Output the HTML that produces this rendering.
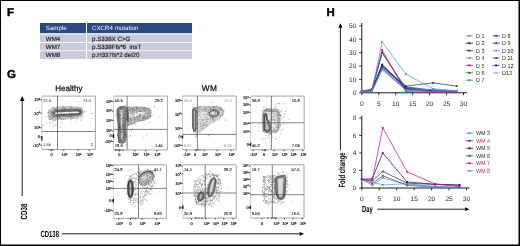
<!DOCTYPE html>
<html><head><meta charset="utf-8"><title>Figure</title><style>
html,body{margin:0;padding:0;background:#fff;}
body{width:520px;height:246px;overflow:hidden;position:relative;}
svg{position:absolute;left:0;top:0;will-change:transform;text-rendering:geometricPrecision;font-family:"Liberation Sans",sans-serif;}
.bd{position:absolute;background:#000;}
</style></head><body>
<svg xmlns="http://www.w3.org/2000/svg" width="520" height="246" viewBox="0 0 520 246">
<text x="7.10" y="16.10" font-size="11.4" fill="#000" text-anchor="start" font-weight="bold" stroke="#000" stroke-width="0.45">F</text>
<text x="6.90" y="78.20" font-size="11.4" fill="#000" text-anchor="start" font-weight="bold" stroke="#000" stroke-width="0.45">G</text>
<text x="326.60" y="16.10" font-size="11.4" fill="#000" text-anchor="start" font-weight="bold" stroke="#000" stroke-width="0.45">H</text>
<rect x="40.00" y="23.00" width="46.00" height="10.20" fill="#2b4883" />
<rect x="87.00" y="23.00" width="105.00" height="10.20" fill="#2b4883" />
<rect x="40.00" y="34.30" width="46.00" height="7.80" fill="#c9cadb" />
<rect x="87.00" y="34.30" width="105.00" height="7.80" fill="#c9cadb" />
<rect x="40.00" y="42.90" width="46.00" height="7.40" fill="#c9cadb" />
<rect x="87.00" y="42.90" width="105.00" height="7.40" fill="#c9cadb" />
<rect x="40.00" y="51.10" width="46.00" height="7.90" fill="#c9cadb" />
<rect x="87.00" y="51.10" width="105.00" height="7.90" fill="#c9cadb" />
<text x="45.80" y="30.40" font-size="6.2" fill="#f4f6fb" text-anchor="start" font-weight="normal" >Sample</text>
<text x="92.00" y="30.40" font-size="6.2" fill="#f4f6fb" text-anchor="start" font-weight="normal" >CXCR4 mutation</text>
<text x="45.80" y="40.50" font-size="6.2" fill="#1a1a1a" text-anchor="start" font-weight="normal" stroke="#1a1a1a" stroke-width="0.15">WM4</text>
<text x="92.00" y="40.50" font-size="6.2" fill="#1a1a1a" text-anchor="start" font-weight="normal" stroke="#1a1a1a" stroke-width="0.15">p.S338X C&gt;G</text>
<text x="45.80" y="48.70" font-size="6.2" fill="#1a1a1a" text-anchor="start" font-weight="normal" stroke="#1a1a1a" stroke-width="0.15">WM7</text>
<text x="92.00" y="48.70" font-size="6.2" fill="#1a1a1a" text-anchor="start" font-weight="normal" stroke="#1a1a1a" stroke-width="0.15">p.S338Ffs*6&#160; insT</text>
<text x="45.80" y="57.40" font-size="6.2" fill="#1a1a1a" text-anchor="start" font-weight="normal" stroke="#1a1a1a" stroke-width="0.15">WM8</text>
<text x="92.00" y="57.40" font-size="6.2" fill="#1a1a1a" text-anchor="start" font-weight="normal" stroke="#1a1a1a" stroke-width="0.15">p.H337fs*2 del20</text>
<line x1="340.40" y1="26.00" x2="340.40" y2="150.30" stroke="#000" stroke-width="0.9" />
<path d="M338.40,27.80 L340.40,22.90 L342.40,27.80 Z" fill="#000"/>
<text transform="translate(344.60,187.60) rotate(-90) scale(0.675,1)" font-size="8.9" fill="#000" text-anchor="start" font-weight="bold">Fold change</text>
<line x1="361.80" y1="23.00" x2="361.80" y2="93.30" stroke="#000" stroke-width="0.9" />
<line x1="359.20" y1="92.80" x2="361.80" y2="92.80" stroke="#000" stroke-width="0.8" />
<text x="356.40" y="95.15" font-size="6.6" fill="#2a2a2a" text-anchor="end" font-weight="normal" >0</text>
<line x1="359.20" y1="79.40" x2="361.80" y2="79.40" stroke="#000" stroke-width="0.8" />
<text x="356.40" y="81.75" font-size="6.6" fill="#2a2a2a" text-anchor="end" font-weight="normal" >10</text>
<line x1="359.20" y1="66.00" x2="361.80" y2="66.00" stroke="#000" stroke-width="0.8" />
<text x="356.40" y="68.35" font-size="6.6" fill="#2a2a2a" text-anchor="end" font-weight="normal" >20</text>
<line x1="359.20" y1="52.60" x2="361.80" y2="52.60" stroke="#000" stroke-width="0.8" />
<text x="356.40" y="54.95" font-size="6.6" fill="#2a2a2a" text-anchor="end" font-weight="normal" >30</text>
<line x1="359.20" y1="39.20" x2="361.80" y2="39.20" stroke="#000" stroke-width="0.8" />
<text x="356.40" y="41.55" font-size="6.6" fill="#2a2a2a" text-anchor="end" font-weight="normal" >40</text>
<line x1="359.20" y1="25.80" x2="361.80" y2="25.80" stroke="#000" stroke-width="0.8" />
<text x="356.40" y="28.15" font-size="6.6" fill="#2a2a2a" text-anchor="end" font-weight="normal" >50</text>
<line x1="361.80" y1="92.80" x2="467.00" y2="92.80" stroke="#000" stroke-width="0.9" />
<line x1="361.80" y1="92.80" x2="361.80" y2="95.20" stroke="#000" stroke-width="0.8" />
<text x="361.80" y="105.80" font-size="6.6" fill="#2a2a2a" text-anchor="middle" font-weight="normal" >0</text>
<line x1="378.75" y1="92.80" x2="378.75" y2="95.20" stroke="#000" stroke-width="0.8" />
<text x="378.75" y="105.80" font-size="6.6" fill="#2a2a2a" text-anchor="middle" font-weight="normal" >5</text>
<line x1="395.70" y1="92.80" x2="395.70" y2="95.20" stroke="#000" stroke-width="0.8" />
<text x="395.70" y="105.80" font-size="6.6" fill="#2a2a2a" text-anchor="middle" font-weight="normal" >10</text>
<line x1="412.65" y1="92.80" x2="412.65" y2="95.20" stroke="#000" stroke-width="0.8" />
<text x="412.65" y="105.80" font-size="6.6" fill="#2a2a2a" text-anchor="middle" font-weight="normal" >15</text>
<line x1="429.60" y1="92.80" x2="429.60" y2="95.20" stroke="#000" stroke-width="0.8" />
<text x="429.60" y="105.80" font-size="6.6" fill="#2a2a2a" text-anchor="middle" font-weight="normal" >20</text>
<line x1="446.55" y1="92.80" x2="446.55" y2="95.20" stroke="#000" stroke-width="0.8" />
<text x="446.55" y="105.80" font-size="6.6" fill="#2a2a2a" text-anchor="middle" font-weight="normal" >25</text>
<line x1="463.50" y1="92.80" x2="463.50" y2="95.20" stroke="#000" stroke-width="0.8" />
<text x="463.50" y="105.80" font-size="6.6" fill="#2a2a2a" text-anchor="middle" font-weight="normal" >30</text>
<line x1="361.80" y1="115.70" x2="361.80" y2="188.50" stroke="#000" stroke-width="0.9" />
<line x1="359.20" y1="188.00" x2="361.80" y2="188.00" stroke="#000" stroke-width="0.8" />
<text x="356.40" y="190.35" font-size="6.6" fill="#2a2a2a" text-anchor="end" font-weight="normal" >0</text>
<line x1="359.20" y1="170.52" x2="361.80" y2="170.52" stroke="#000" stroke-width="0.8" />
<text x="356.40" y="172.87" font-size="6.6" fill="#2a2a2a" text-anchor="end" font-weight="normal" >2</text>
<line x1="359.20" y1="153.04" x2="361.80" y2="153.04" stroke="#000" stroke-width="0.8" />
<text x="356.40" y="155.39" font-size="6.6" fill="#2a2a2a" text-anchor="end" font-weight="normal" >4</text>
<line x1="359.20" y1="135.56" x2="361.80" y2="135.56" stroke="#000" stroke-width="0.8" />
<text x="356.40" y="137.91" font-size="6.6" fill="#2a2a2a" text-anchor="end" font-weight="normal" >6</text>
<line x1="359.20" y1="118.08" x2="361.80" y2="118.08" stroke="#000" stroke-width="0.8" />
<text x="356.40" y="120.43" font-size="6.6" fill="#2a2a2a" text-anchor="end" font-weight="normal" >8</text>
<line x1="361.80" y1="188.00" x2="469.50" y2="188.00" stroke="#000" stroke-width="0.9" />
<line x1="361.80" y1="188.00" x2="361.80" y2="190.40" stroke="#000" stroke-width="0.8" />
<text x="361.80" y="200.80" font-size="6.6" fill="#2a2a2a" text-anchor="middle" font-weight="normal" >0</text>
<line x1="379.25" y1="188.00" x2="379.25" y2="190.40" stroke="#000" stroke-width="0.8" />
<text x="379.25" y="200.80" font-size="6.6" fill="#2a2a2a" text-anchor="middle" font-weight="normal" >5</text>
<line x1="396.70" y1="188.00" x2="396.70" y2="190.40" stroke="#000" stroke-width="0.8" />
<text x="396.70" y="200.80" font-size="6.6" fill="#2a2a2a" text-anchor="middle" font-weight="normal" >10</text>
<line x1="414.15" y1="188.00" x2="414.15" y2="190.40" stroke="#000" stroke-width="0.8" />
<text x="414.15" y="200.80" font-size="6.6" fill="#2a2a2a" text-anchor="middle" font-weight="normal" >15</text>
<line x1="431.60" y1="188.00" x2="431.60" y2="190.40" stroke="#000" stroke-width="0.8" />
<text x="431.60" y="200.80" font-size="6.6" fill="#2a2a2a" text-anchor="middle" font-weight="normal" >20</text>
<line x1="449.05" y1="188.00" x2="449.05" y2="190.40" stroke="#000" stroke-width="0.8" />
<text x="449.05" y="200.80" font-size="6.6" fill="#2a2a2a" text-anchor="middle" font-weight="normal" >25</text>
<line x1="466.50" y1="188.00" x2="466.50" y2="190.40" stroke="#000" stroke-width="0.8" />
<text x="466.50" y="200.80" font-size="6.6" fill="#2a2a2a" text-anchor="middle" font-weight="normal" >30</text>
<text transform="translate(361.90,212.20) scale(0.66,1)" font-size="8.9" fill="#000" text-anchor="start" font-weight="bold">Day</text>
<line x1="377.40" y1="209.20" x2="466.00" y2="209.20" stroke="#000" stroke-width="0.9" />
<path d="M465.20,207.30 L469.50,209.20 L465.20,211.10 Z" fill="#000"/>
<polyline points="361.80,91.46 371.97,90.79 382.14,67.34 405.87,90.12 432.99,91.46 456.72,92.13" fill="none" stroke="#aaa2e2" stroke-width="0.75" stroke-linejoin="round" />
<rect x="360.90" y="90.56" width="1.8" height="1.8" fill="#aaa2e2"/>
<rect x="371.07" y="89.89" width="1.8" height="1.8" fill="#aaa2e2"/>
<rect x="381.24" y="66.44" width="1.8" height="1.8" fill="#aaa2e2"/>
<rect x="404.97" y="89.22" width="1.8" height="1.8" fill="#aaa2e2"/>
<rect x="432.09" y="90.56" width="1.8" height="1.8" fill="#aaa2e2"/>
<rect x="455.82" y="91.23" width="1.8" height="1.8" fill="#aaa2e2"/>
<polyline points="361.80,91.46 371.97,90.79 382.14,68.68 405.87,89.45 432.99,91.46 456.72,91.73" fill="none" stroke="#8a7dd6" stroke-width="0.75" stroke-linejoin="round" />
<rect x="360.90" y="90.56" width="1.8" height="1.8" fill="#8a7dd6"/>
<rect x="371.07" y="89.89" width="1.8" height="1.8" fill="#8a7dd6"/>
<rect x="381.24" y="67.78" width="1.8" height="1.8" fill="#8a7dd6"/>
<rect x="404.97" y="88.55" width="1.8" height="1.8" fill="#8a7dd6"/>
<rect x="432.09" y="90.56" width="1.8" height="1.8" fill="#8a7dd6"/>
<rect x="455.82" y="90.83" width="1.8" height="1.8" fill="#8a7dd6"/>
<polyline points="361.80,91.46 371.97,90.12 382.14,66.00 405.87,88.78 432.99,90.79 456.72,91.46" fill="none" stroke="#6a3a8a" stroke-width="0.75" stroke-linejoin="round" />
<rect x="360.90" y="90.56" width="1.8" height="1.8" fill="#6a3a8a"/>
<rect x="371.07" y="89.22" width="1.8" height="1.8" fill="#6a3a8a"/>
<rect x="381.24" y="65.10" width="1.8" height="1.8" fill="#6a3a8a"/>
<rect x="404.97" y="87.88" width="1.8" height="1.8" fill="#6a3a8a"/>
<rect x="432.09" y="89.89" width="1.8" height="1.8" fill="#6a3a8a"/>
<rect x="455.82" y="90.56" width="1.8" height="1.8" fill="#6a3a8a"/>
<polyline points="361.80,91.46 371.97,90.12 382.14,64.66 405.87,87.44 432.99,90.79 456.72,91.46" fill="none" stroke="#5b2a78" stroke-width="0.75" stroke-linejoin="round" />
<rect x="360.90" y="90.56" width="1.8" height="1.8" fill="#5b2a78"/>
<rect x="371.07" y="89.22" width="1.8" height="1.8" fill="#5b2a78"/>
<rect x="381.24" y="63.76" width="1.8" height="1.8" fill="#5b2a78"/>
<rect x="404.97" y="86.54" width="1.8" height="1.8" fill="#5b2a78"/>
<rect x="432.09" y="89.89" width="1.8" height="1.8" fill="#5b2a78"/>
<rect x="455.82" y="90.56" width="1.8" height="1.8" fill="#5b2a78"/>
<polyline points="361.80,91.46 371.97,90.79 382.14,67.34 405.87,86.77 432.99,90.12 456.72,90.79" fill="none" stroke="#2d4a8c" stroke-width="0.75" stroke-linejoin="round" />
<rect x="360.90" y="90.56" width="1.8" height="1.8" fill="#2d4a8c"/>
<rect x="371.07" y="89.89" width="1.8" height="1.8" fill="#2d4a8c"/>
<rect x="381.24" y="66.44" width="1.8" height="1.8" fill="#2d4a8c"/>
<rect x="404.97" y="85.87" width="1.8" height="1.8" fill="#2d4a8c"/>
<rect x="432.09" y="89.22" width="1.8" height="1.8" fill="#2d4a8c"/>
<rect x="455.82" y="89.89" width="1.8" height="1.8" fill="#2d4a8c"/>
<polyline points="361.80,91.46 371.97,90.12 382.14,64.66 405.87,88.78 432.99,91.46 456.72,92.13" fill="none" stroke="#3b0d5c" stroke-width="0.75" stroke-linejoin="round" />
<rect x="360.90" y="90.56" width="1.8" height="1.8" fill="#3b0d5c"/>
<rect x="371.07" y="89.22" width="1.8" height="1.8" fill="#3b0d5c"/>
<rect x="381.24" y="63.76" width="1.8" height="1.8" fill="#3b0d5c"/>
<rect x="404.97" y="87.88" width="1.8" height="1.8" fill="#3b0d5c"/>
<rect x="432.09" y="90.56" width="1.8" height="1.8" fill="#3b0d5c"/>
<rect x="455.82" y="91.23" width="1.8" height="1.8" fill="#3b0d5c"/>
<polyline points="361.80,91.46 371.97,90.12 382.14,52.60 405.87,88.11 432.99,91.46 456.72,91.73" fill="none" stroke="#243d7c" stroke-width="0.75" stroke-linejoin="round" />
<rect x="360.90" y="90.56" width="1.8" height="1.8" fill="#243d7c"/>
<rect x="371.07" y="89.22" width="1.8" height="1.8" fill="#243d7c"/>
<rect x="381.24" y="51.70" width="1.8" height="1.8" fill="#243d7c"/>
<rect x="404.97" y="87.21" width="1.8" height="1.8" fill="#243d7c"/>
<rect x="432.09" y="90.56" width="1.8" height="1.8" fill="#243d7c"/>
<rect x="455.82" y="90.83" width="1.8" height="1.8" fill="#243d7c"/>
<polyline points="361.80,91.46 371.97,90.12 382.14,52.60 405.87,89.45 432.99,91.46 456.72,92.13" fill="none" stroke="#2c5e40" stroke-width="0.75" stroke-linejoin="round" />
<rect x="360.90" y="90.56" width="1.8" height="1.8" fill="#2c5e40"/>
<rect x="371.07" y="89.22" width="1.8" height="1.8" fill="#2c5e40"/>
<rect x="381.24" y="51.70" width="1.8" height="1.8" fill="#2c5e40"/>
<rect x="404.97" y="88.55" width="1.8" height="1.8" fill="#2c5e40"/>
<rect x="432.09" y="90.56" width="1.8" height="1.8" fill="#2c5e40"/>
<rect x="455.82" y="91.23" width="1.8" height="1.8" fill="#2c5e40"/>
<polyline points="361.80,91.46 371.97,91.19 382.14,70.02 405.87,90.12 432.99,91.46 456.72,90.79" fill="none" stroke="#5aa8e6" stroke-width="0.75" stroke-linejoin="round" />
<rect x="360.90" y="90.56" width="1.8" height="1.8" fill="#5aa8e6"/>
<rect x="371.07" y="90.29" width="1.8" height="1.8" fill="#5aa8e6"/>
<rect x="381.24" y="69.12" width="1.8" height="1.8" fill="#5aa8e6"/>
<rect x="404.97" y="89.22" width="1.8" height="1.8" fill="#5aa8e6"/>
<rect x="432.09" y="90.56" width="1.8" height="1.8" fill="#5aa8e6"/>
<rect x="455.82" y="89.89" width="1.8" height="1.8" fill="#5aa8e6"/>
<polyline points="361.80,91.46 371.97,88.78 382.14,49.92 405.87,91.46 432.99,92.13 456.72,92.13" fill="none" stroke="#d0168a" stroke-width="0.75" stroke-linejoin="round" />
<rect x="360.90" y="90.56" width="1.8" height="1.8" fill="#d0168a"/>
<rect x="371.07" y="87.88" width="1.8" height="1.8" fill="#d0168a"/>
<rect x="381.24" y="49.02" width="1.8" height="1.8" fill="#d0168a"/>
<rect x="404.97" y="90.56" width="1.8" height="1.8" fill="#d0168a"/>
<rect x="432.09" y="91.23" width="1.8" height="1.8" fill="#d0168a"/>
<rect x="455.82" y="91.23" width="1.8" height="1.8" fill="#d0168a"/>
<polyline points="361.80,91.46 371.97,90.79 382.14,66.00 405.87,86.10 432.99,82.88 456.72,86.10" fill="none" stroke="#22387a" stroke-width="0.75" stroke-linejoin="round" />
<rect x="360.90" y="90.56" width="1.8" height="1.8" fill="#22387a"/>
<rect x="371.07" y="89.89" width="1.8" height="1.8" fill="#22387a"/>
<rect x="381.24" y="65.10" width="1.8" height="1.8" fill="#22387a"/>
<rect x="404.97" y="85.20" width="1.8" height="1.8" fill="#22387a"/>
<rect x="432.09" y="81.98" width="1.8" height="1.8" fill="#22387a"/>
<rect x="455.82" y="85.20" width="1.8" height="1.8" fill="#22387a"/>
<polyline points="361.80,91.46 371.97,91.19 382.14,68.68 405.87,90.12 432.99,89.45 456.72,91.19" fill="none" stroke="#3c8ad8" stroke-width="0.75" stroke-linejoin="round" />
<rect x="360.90" y="90.56" width="1.8" height="1.8" fill="#3c8ad8"/>
<rect x="371.07" y="90.29" width="1.8" height="1.8" fill="#3c8ad8"/>
<rect x="381.24" y="67.78" width="1.8" height="1.8" fill="#3c8ad8"/>
<rect x="404.97" y="89.22" width="1.8" height="1.8" fill="#3c8ad8"/>
<rect x="432.09" y="88.55" width="1.8" height="1.8" fill="#3c8ad8"/>
<rect x="455.82" y="90.29" width="1.8" height="1.8" fill="#3c8ad8"/>
<polyline points="361.80,91.46 371.97,91.06 382.14,41.88 405.87,74.04 432.99,88.78 456.72,90.79" fill="none" stroke="#4a9be3" stroke-width="0.75" stroke-linejoin="round" />
<rect x="360.90" y="90.56" width="1.8" height="1.8" fill="#4a9be3"/>
<rect x="371.07" y="90.16" width="1.8" height="1.8" fill="#4a9be3"/>
<rect x="381.24" y="40.98" width="1.8" height="1.8" fill="#4a9be3"/>
<rect x="404.97" y="73.14" width="1.8" height="1.8" fill="#4a9be3"/>
<rect x="432.09" y="87.88" width="1.8" height="1.8" fill="#4a9be3"/>
<rect x="455.82" y="89.89" width="1.8" height="1.8" fill="#4a9be3"/>
<polyline points="361.80,179.26 372.27,185.38 382.74,177.95 407.17,184.50 435.09,186.25 459.52,187.13" fill="none" stroke="#8a7dd6" stroke-width="0.75" stroke-linejoin="round" />
<rect x="360.90" y="178.36" width="1.8" height="1.8" fill="#8a7dd6"/>
<rect x="371.37" y="184.48" width="1.8" height="1.8" fill="#8a7dd6"/>
<rect x="381.84" y="177.05" width="1.8" height="1.8" fill="#8a7dd6"/>
<rect x="406.27" y="183.60" width="1.8" height="1.8" fill="#8a7dd6"/>
<rect x="434.19" y="185.35" width="1.8" height="1.8" fill="#8a7dd6"/>
<rect x="458.62" y="186.23" width="1.8" height="1.8" fill="#8a7dd6"/>
<polyline points="361.80,179.26 372.27,183.63 382.74,175.76 407.17,185.38 435.09,187.13 459.52,187.56" fill="none" stroke="#2c6a48" stroke-width="0.75" stroke-linejoin="round" />
<rect x="360.90" y="178.36" width="1.8" height="1.8" fill="#2c6a48"/>
<rect x="371.37" y="182.73" width="1.8" height="1.8" fill="#2c6a48"/>
<rect x="381.84" y="174.86" width="1.8" height="1.8" fill="#2c6a48"/>
<rect x="406.27" y="184.48" width="1.8" height="1.8" fill="#2c6a48"/>
<rect x="434.19" y="186.23" width="1.8" height="1.8" fill="#2c6a48"/>
<rect x="458.62" y="186.66" width="1.8" height="1.8" fill="#2c6a48"/>
<polyline points="361.80,179.26 372.27,181.01 382.74,171.39 407.17,183.19 435.09,184.50 459.52,185.38" fill="none" stroke="#5b2a78" stroke-width="0.75" stroke-linejoin="round" />
<rect x="360.90" y="178.36" width="1.8" height="1.8" fill="#5b2a78"/>
<rect x="371.37" y="180.11" width="1.8" height="1.8" fill="#5b2a78"/>
<rect x="381.84" y="170.49" width="1.8" height="1.8" fill="#5b2a78"/>
<rect x="406.27" y="182.29" width="1.8" height="1.8" fill="#5b2a78"/>
<rect x="434.19" y="183.60" width="1.8" height="1.8" fill="#5b2a78"/>
<rect x="458.62" y="184.48" width="1.8" height="1.8" fill="#5b2a78"/>
<polyline points="361.80,179.26 372.27,181.88 382.74,184.94 407.17,183.63 435.09,187.13 459.52,188.00" fill="none" stroke="#4a9be3" stroke-width="0.75" stroke-linejoin="round" />
<rect x="360.90" y="178.36" width="1.8" height="1.8" fill="#4a9be3"/>
<rect x="371.37" y="180.98" width="1.8" height="1.8" fill="#4a9be3"/>
<rect x="381.84" y="184.04" width="1.8" height="1.8" fill="#4a9be3"/>
<rect x="406.27" y="182.73" width="1.8" height="1.8" fill="#4a9be3"/>
<rect x="434.19" y="186.23" width="1.8" height="1.8" fill="#4a9be3"/>
<rect x="458.62" y="187.10" width="1.8" height="1.8" fill="#4a9be3"/>
<polyline points="361.80,179.26 372.27,178.82 382.74,153.04 407.17,181.97 435.09,184.24 459.52,184.85" fill="none" stroke="#3b0d5c" stroke-width="0.75" stroke-linejoin="round" />
<rect x="360.90" y="178.36" width="1.8" height="1.8" fill="#3b0d5c"/>
<rect x="371.37" y="177.92" width="1.8" height="1.8" fill="#3b0d5c"/>
<rect x="381.84" y="152.14" width="1.8" height="1.8" fill="#3b0d5c"/>
<rect x="406.27" y="181.07" width="1.8" height="1.8" fill="#3b0d5c"/>
<rect x="434.19" y="183.34" width="1.8" height="1.8" fill="#3b0d5c"/>
<rect x="458.62" y="183.95" width="1.8" height="1.8" fill="#3b0d5c"/>
<polyline points="361.80,179.26 372.27,180.13 382.74,127.69 407.17,171.83 435.09,183.89 459.52,186.69" fill="none" stroke="#d0168a" stroke-width="0.75" stroke-linejoin="round" />
<rect x="360.90" y="178.36" width="1.8" height="1.8" fill="#d0168a"/>
<rect x="371.37" y="179.23" width="1.8" height="1.8" fill="#d0168a"/>
<rect x="381.84" y="126.79" width="1.8" height="1.8" fill="#d0168a"/>
<rect x="406.27" y="170.93" width="1.8" height="1.8" fill="#d0168a"/>
<rect x="434.19" y="182.99" width="1.8" height="1.8" fill="#d0168a"/>
<rect x="458.62" y="185.79" width="1.8" height="1.8" fill="#d0168a"/>
<line x1="465.70" y1="35.80" x2="473.00" y2="35.80" stroke="#4a9be3" stroke-width="0.8" />
<rect x="468.35" y="34.80" width="2" height="2" fill="#4a9be3"/>
<text transform="translate(476.00,37.90) scale(0.9,1)" font-size="6" fill="#222" text-anchor="start" font-weight="normal">D 1</text>
<line x1="465.70" y1="43.20" x2="473.00" y2="43.20" stroke="#3b0d5c" stroke-width="0.8" />
<rect x="468.35" y="42.20" width="2" height="2" fill="#3b0d5c"/>
<text transform="translate(476.00,45.30) scale(0.9,1)" font-size="6" fill="#222" text-anchor="start" font-weight="normal">D 2</text>
<line x1="465.70" y1="50.60" x2="473.00" y2="50.60" stroke="#243d7c" stroke-width="0.8" />
<rect x="468.35" y="49.60" width="2" height="2" fill="#243d7c"/>
<text transform="translate(476.00,52.70) scale(0.9,1)" font-size="6" fill="#222" text-anchor="start" font-weight="normal">D 3</text>
<line x1="465.70" y1="58.00" x2="473.00" y2="58.00" stroke="#8a7dd6" stroke-width="0.8" />
<rect x="468.35" y="57.00" width="2" height="2" fill="#8a7dd6"/>
<text transform="translate(476.00,60.10) scale(0.9,1)" font-size="6" fill="#222" text-anchor="start" font-weight="normal">D 4</text>
<line x1="465.70" y1="65.40" x2="473.00" y2="65.40" stroke="#d0168a" stroke-width="0.8" />
<rect x="468.35" y="64.40" width="2" height="2" fill="#d0168a"/>
<text transform="translate(476.00,67.50) scale(0.9,1)" font-size="6" fill="#222" text-anchor="start" font-weight="normal">D 5</text>
<line x1="465.70" y1="72.80" x2="473.00" y2="72.80" stroke="#2c5e40" stroke-width="0.8" />
<rect x="468.35" y="71.80" width="2" height="2" fill="#2c5e40"/>
<text transform="translate(476.00,74.90) scale(0.9,1)" font-size="6" fill="#222" text-anchor="start" font-weight="normal">D 6</text>
<line x1="465.70" y1="80.20" x2="473.00" y2="80.20" stroke="#3c8ad8" stroke-width="0.8" />
<rect x="468.35" y="79.20" width="2" height="2" fill="#3c8ad8"/>
<text transform="translate(476.00,82.30) scale(0.9,1)" font-size="6" fill="#222" text-anchor="start" font-weight="normal">D 7</text>
<line x1="492.50" y1="35.80" x2="499.80" y2="35.80" stroke="#5b2a78" stroke-width="0.8" />
<rect x="495.15" y="34.80" width="2" height="2" fill="#5b2a78"/>
<text transform="translate(502.00,37.90) scale(0.9,1)" font-size="6" fill="#222" text-anchor="start" font-weight="normal">D 8</text>
<line x1="492.50" y1="43.20" x2="499.80" y2="43.20" stroke="#2d4a8c" stroke-width="0.8" />
<rect x="495.15" y="42.20" width="2" height="2" fill="#2d4a8c"/>
<text transform="translate(502.00,45.30) scale(0.9,1)" font-size="6" fill="#222" text-anchor="start" font-weight="normal">D 9</text>
<line x1="492.50" y1="50.60" x2="499.80" y2="50.60" stroke="#5aa8e6" stroke-width="0.8" />
<rect x="495.15" y="49.60" width="2" height="2" fill="#5aa8e6"/>
<text transform="translate(502.00,52.70) scale(0.9,1)" font-size="6" fill="#222" text-anchor="start" font-weight="normal">D 10</text>
<line x1="492.50" y1="58.00" x2="499.80" y2="58.00" stroke="#6a3a8a" stroke-width="0.8" />
<rect x="495.15" y="57.00" width="2" height="2" fill="#6a3a8a"/>
<text transform="translate(502.00,60.10) scale(0.9,1)" font-size="6" fill="#222" text-anchor="start" font-weight="normal">D 11</text>
<line x1="492.50" y1="65.40" x2="499.80" y2="65.40" stroke="#22387a" stroke-width="0.8" />
<rect x="495.15" y="64.40" width="2" height="2" fill="#22387a"/>
<text transform="translate(502.00,67.50) scale(0.9,1)" font-size="6" fill="#222" text-anchor="start" font-weight="normal">D 12</text>
<line x1="492.50" y1="72.80" x2="499.80" y2="72.80" stroke="#aaa2e2" stroke-width="0.8" />
<rect x="495.15" y="71.80" width="2" height="2" fill="#aaa2e2"/>
<text transform="translate(502.00,74.90) scale(0.9,1)" font-size="6" fill="#222" text-anchor="start" font-weight="normal">D13</text>
<line x1="465.90" y1="133.30" x2="473.20" y2="133.30" stroke="#4a9be3" stroke-width="0.8" />
<rect x="468.55" y="132.30" width="2" height="2" fill="#4a9be3"/>
<text transform="translate(476.00,135.40) scale(0.9,1)" font-size="6" fill="#222" text-anchor="start" font-weight="normal">WM 3</text>
<line x1="465.90" y1="140.80" x2="473.20" y2="140.80" stroke="#5b2a78" stroke-width="0.8" />
<rect x="468.55" y="139.80" width="2" height="2" fill="#5b2a78"/>
<text transform="translate(476.00,142.90) scale(0.9,1)" font-size="6" fill="#b8284a" text-anchor="start" font-weight="normal">WM 4</text>
<line x1="465.90" y1="148.30" x2="473.20" y2="148.30" stroke="#3b0d5c" stroke-width="0.8" />
<rect x="468.55" y="147.30" width="2" height="2" fill="#3b0d5c"/>
<text transform="translate(476.00,150.40) scale(0.9,1)" font-size="6" fill="#222" text-anchor="start" font-weight="normal">WM 5</text>
<line x1="465.90" y1="155.80" x2="473.20" y2="155.80" stroke="#2c6a48" stroke-width="0.8" />
<rect x="468.55" y="154.80" width="2" height="2" fill="#2c6a48"/>
<text transform="translate(476.00,157.90) scale(0.9,1)" font-size="6" fill="#222" text-anchor="start" font-weight="normal">WM 6</text>
<line x1="465.90" y1="163.30" x2="473.20" y2="163.30" stroke="#d0168a" stroke-width="0.8" />
<rect x="468.55" y="162.30" width="2" height="2" fill="#d0168a"/>
<text transform="translate(476.00,165.40) scale(0.9,1)" font-size="6" fill="#b8284a" text-anchor="start" font-weight="normal">WM 7</text>
<line x1="465.90" y1="170.80" x2="473.20" y2="170.80" stroke="#8a7dd6" stroke-width="0.8" />
<rect x="468.55" y="169.80" width="2" height="2" fill="#8a7dd6"/>
<text transform="translate(476.00,172.90) scale(0.9,1)" font-size="6" fill="#b8284a" text-anchor="start" font-weight="normal">WM 8</text>
<text x="55.30" y="91.00" font-size="8" fill="#111" text-anchor="start" font-weight="normal" stroke="#111" stroke-width="0.25">Healthy</text>
<text x="201.80" y="91.00" font-size="8.3" fill="#111" text-anchor="start" font-weight="normal" stroke="#111" stroke-width="0.25" letter-spacing="0.3">WM</text>
<line x1="22.20" y1="100.00" x2="22.20" y2="196.10" stroke="#000" stroke-width="0.9" />
<path d="M19.90,101.00 L22.20,95.90 L24.50,101.00 Z" fill="#000"/>
<text transform="translate(26.60,219.50) rotate(-90) scale(0.7,1)" font-size="8.9" fill="#000" text-anchor="start" font-weight="bold">CD38</text>
<text transform="translate(40.50,236.70) scale(0.667,1)" font-size="8.9" fill="#000" text-anchor="start" font-weight="bold">CD138</text>
<line x1="61.80" y1="233.80" x2="300.50" y2="233.80" stroke="#000" stroke-width="0.9" />
<path d="M299.70,231.90 L304.10,233.80 L299.70,235.70 Z" fill="#000"/>
<path d="M62.4 117.6h0.7v0.7h-0.7zM53.4 107.2h0.7v0.7h-0.7zM53.7 120.3h0.7v0.7h-0.7zM64.5 108.3h0.7v0.7h-0.7zM75.4 120.6h0.7v0.7h-0.7zM45.6 115.7h0.7v0.7h-0.7zM85.4 110.9h0.7v0.7h-0.7zM55.0 118.4h0.7v0.7h-0.7zM80.6 120.0h0.7v0.7h-0.7zM74.0 114.0h0.7v0.7h-0.7zM84.3 111.0h0.7v0.7h-0.7zM52.2 122.2h0.7v0.7h-0.7zM66.6 108.1h0.7v0.7h-0.7zM71.0 121.8h0.7v0.7h-0.7zM52.5 120.4h0.7v0.7h-0.7zM45.6 123.5h0.7v0.7h-0.7z" fill="#aaa"/>
<path d="M81.6 117.8h0.7v0.7h-0.7zM92.5 118.0h0.7v0.7h-0.7zM59.7 107.3h0.7v0.7h-0.7zM60.9 121.8h0.7v0.7h-0.7zM76.7 118.9h0.7v0.7h-0.7zM71.6 115.3h0.7v0.7h-0.7zM92.0 113.4h0.7v0.7h-0.7zM59.9 99.7h0.7v0.7h-0.7zM77.8 101.3h0.7v0.7h-0.7zM63.0 117.6h0.7v0.7h-0.7zM62.4 108.9h0.7v0.7h-0.7zM51.6 128.1h0.7v0.7h-0.7zM43.1 125.1h0.7v0.7h-0.7zM55.6 124.7h0.7v0.7h-0.7zM54.5 118.1h0.7v0.7h-0.7zM49.5 122.3h0.7v0.7h-0.7z" fill="#888"/>
<path d="M67.3 116.9h0.7v0.7h-0.7zM71.5 115.3h0.7v0.7h-0.7zM48.1 110.2h0.7v0.7h-0.7zM57.6 114.1h0.7v0.7h-0.7zM61.3 116.7h0.7v0.7h-0.7zM81.7 113.7h0.7v0.7h-0.7zM90.7 113.2h0.7v0.7h-0.7zM60.3 127.0h0.7v0.7h-0.7zM57.3 122.9h0.7v0.7h-0.7z" fill="#777"/>
<path d="M82.8 117.3h0.7v0.7h-0.7zM53.5 110.7h0.7v0.7h-0.7zM56.7 126.0h0.7v0.7h-0.7zM80.5 119.5h0.7v0.7h-0.7zM59.2 118.0h0.7v0.7h-0.7zM81.4 115.1h0.7v0.7h-0.7zM53.5 108.8h0.7v0.7h-0.7zM66.8 110.3h0.7v0.7h-0.7zM60.4 107.8h0.7v0.7h-0.7zM71.1 117.5h0.7v0.7h-0.7zM70.7 119.2h0.7v0.7h-0.7zM51.9 114.8h0.7v0.7h-0.7zM74.7 116.0h0.7v0.7h-0.7zM79.6 107.1h0.7v0.7h-0.7zM65.0 106.0h0.7v0.7h-0.7zM77.0 110.4h0.7v0.7h-0.7zM61.2 118.4h0.7v0.7h-0.7zM74.9 101.9h0.7v0.7h-0.7zM55.7 120.9h0.7v0.7h-0.7zM57.9 118.2h0.7v0.7h-0.7zM51.6 119.6h0.7v0.7h-0.7z" fill="#999"/>
<path d="M50.7 118.2h0.7v0.7h-0.7zM62.7 109.0h0.7v0.7h-0.7zM71.5 113.3h0.7v0.7h-0.7zM57.6 123.9h0.7v0.7h-0.7zM64.6 108.0h0.7v0.7h-0.7zM64.8 113.1h0.7v0.7h-0.7zM54.3 117.3h0.7v0.7h-0.7zM63.0 117.3h0.7v0.7h-0.7zM86.2 110.9h0.7v0.7h-0.7zM42.8 100.9h0.7v0.7h-0.7zM56.6 113.5h0.7v0.7h-0.7zM53.6 127.4h0.7v0.7h-0.7zM52.8 119.9h0.7v0.7h-0.7z" fill="#bbb"/>
<path d="M49.00,110.00 C49.80,109.08 51.17,108.08 53.00,107.50 C54.83,106.92 57.17,106.70 60.00,106.50 C62.83,106.30 67.00,106.25 70.00,106.30 C73.00,106.35 76.00,106.43 78.00,106.80 C80.00,107.17 81.13,107.63 82.00,108.50 C82.87,109.37 83.20,110.75 83.20,112.00 C83.20,113.25 83.03,115.00 82.00,116.00 C80.97,117.00 79.33,117.53 77.00,118.00 C74.67,118.47 71.17,118.55 68.00,118.80 C64.83,119.05 60.83,119.33 58.00,119.50 C55.17,119.67 52.58,120.22 51.00,119.80 C49.42,119.38 48.97,118.13 48.50,117.00 C48.03,115.87 48.12,114.17 48.20,113.00 C48.28,111.83 48.20,110.92 49.00,110.00Z" fill="#ececec" fill-opacity="1" stroke="none"/>
<path d="M60.1 113.8h0.7v0.7h-0.7zM63.3 118.5h0.7v0.7h-0.7zM56.7 111.9h0.7v0.7h-0.7zM47.6 112.2h0.7v0.7h-0.7zM69.9 117.1h0.7v0.7h-0.7zM56.7 113.9h0.7v0.7h-0.7zM61.7 110.4h0.7v0.7h-0.7zM80.3 108.2h0.7v0.7h-0.7zM66.2 106.7h0.7v0.7h-0.7zM76.3 109.7h0.7v0.7h-0.7zM57.4 117.4h0.7v0.7h-0.7zM70.4 106.4h0.7v0.7h-0.7zM70.6 113.5h0.7v0.7h-0.7zM57.8 113.1h0.7v0.7h-0.7zM83.5 110.3h0.7v0.7h-0.7zM84.0 110.8h0.7v0.7h-0.7zM50.3 117.7h0.7v0.7h-0.7zM69.0 113.5h0.7v0.7h-0.7zM52.5 116.3h0.7v0.7h-0.7zM78.1 114.3h0.7v0.7h-0.7zM70.6 114.9h0.7v0.7h-0.7zM77.5 118.1h0.7v0.7h-0.7zM61.5 119.1h0.7v0.7h-0.7zM72.6 111.7h0.7v0.7h-0.7zM78.4 109.9h0.7v0.7h-0.7zM67.9 111.5h0.7v0.7h-0.7zM81.1 113.0h0.7v0.7h-0.7zM63.0 113.8h0.7v0.7h-0.7zM51.6 113.1h0.7v0.7h-0.7zM56.3 107.4h0.7v0.7h-0.7zM71.3 110.2h0.7v0.7h-0.7zM58.2 119.5h0.7v0.7h-0.7zM58.8 118.0h0.7v0.7h-0.7zM64.8 109.2h0.7v0.7h-0.7zM49.4 113.0h0.7v0.7h-0.7zM58.7 117.7h0.7v0.7h-0.7zM82.1 110.6h0.7v0.7h-0.7zM50.2 116.1h0.7v0.7h-0.7zM61.0 119.2h0.7v0.7h-0.7z" fill="#888"/>
<path d="M47.7 117.4h0.7v0.7h-0.7zM53.4 112.7h0.7v0.7h-0.7zM66.9 112.8h0.7v0.7h-0.7zM50.6 112.4h0.7v0.7h-0.7zM78.6 107.8h0.7v0.7h-0.7zM58.9 116.3h0.7v0.7h-0.7zM59.6 112.5h0.7v0.7h-0.7zM68.4 116.0h0.7v0.7h-0.7zM62.9 106.8h0.7v0.7h-0.7zM70.8 117.5h0.7v0.7h-0.7zM62.2 110.8h0.7v0.7h-0.7zM69.5 115.9h0.7v0.7h-0.7zM71.7 109.4h0.7v0.7h-0.7zM62.0 106.4h0.7v0.7h-0.7zM58.2 115.0h0.7v0.7h-0.7zM68.4 117.6h0.7v0.7h-0.7zM61.1 112.4h0.7v0.7h-0.7zM81.3 110.0h0.7v0.7h-0.7zM70.2 115.1h0.7v0.7h-0.7zM49.2 109.7h0.7v0.7h-0.7zM62.6 111.3h0.7v0.7h-0.7zM75.2 118.0h0.7v0.7h-0.7zM82.4 108.6h0.7v0.7h-0.7zM79.2 109.9h0.7v0.7h-0.7zM82.4 113.8h0.7v0.7h-0.7zM50.3 110.8h0.7v0.7h-0.7zM54.8 109.7h0.7v0.7h-0.7zM64.8 114.3h0.7v0.7h-0.7zM52.6 119.9h0.7v0.7h-0.7zM50.1 117.1h0.7v0.7h-0.7zM76.4 109.2h0.7v0.7h-0.7zM73.3 107.4h0.7v0.7h-0.7zM80.3 115.2h0.7v0.7h-0.7zM69.4 111.8h0.7v0.7h-0.7zM63.6 107.4h0.7v0.7h-0.7zM57.4 110.9h0.7v0.7h-0.7z" fill="#999"/>
<path d="M65.8 116.9h0.7v0.7h-0.7zM69.8 108.7h0.7v0.7h-0.7zM63.1 108.9h0.7v0.7h-0.7zM52.7 116.2h0.7v0.7h-0.7zM62.1 111.9h0.7v0.7h-0.7zM61.4 113.3h0.7v0.7h-0.7zM77.9 118.2h0.7v0.7h-0.7zM69.9 109.0h0.7v0.7h-0.7zM79.5 112.4h0.7v0.7h-0.7zM84.5 111.9h0.7v0.7h-0.7zM56.8 108.4h0.7v0.7h-0.7zM57.1 117.5h0.7v0.7h-0.7zM79.8 115.6h0.7v0.7h-0.7zM59.1 106.3h0.7v0.7h-0.7zM55.1 108.4h0.7v0.7h-0.7zM49.4 116.5h0.7v0.7h-0.7zM69.5 110.6h0.7v0.7h-0.7zM73.0 115.6h0.7v0.7h-0.7zM83.5 112.3h0.7v0.7h-0.7zM75.1 109.6h0.7v0.7h-0.7zM57.4 107.4h0.7v0.7h-0.7zM80.9 110.0h0.7v0.7h-0.7zM49.8 119.3h0.7v0.7h-0.7zM70.1 107.8h0.7v0.7h-0.7zM51.7 112.7h0.7v0.7h-0.7zM57.5 109.5h0.7v0.7h-0.7zM65.7 114.2h0.7v0.7h-0.7zM62.0 112.3h0.7v0.7h-0.7zM48.0 111.8h0.7v0.7h-0.7zM56.6 115.5h0.7v0.7h-0.7zM64.4 109.6h0.7v0.7h-0.7zM53.8 112.3h0.7v0.7h-0.7zM49.2 119.2h0.7v0.7h-0.7zM69.8 111.1h0.7v0.7h-0.7z" fill="#aaa"/>
<path d="M49.2 116.6h0.7v0.7h-0.7zM64.0 113.6h0.7v0.7h-0.7zM52.3 118.6h0.7v0.7h-0.7zM55.2 119.7h0.7v0.7h-0.7zM66.3 109.4h0.7v0.7h-0.7zM50.9 117.7h0.7v0.7h-0.7zM71.7 113.7h0.7v0.7h-0.7zM70.5 118.6h0.7v0.7h-0.7zM53.0 107.0h0.7v0.7h-0.7zM64.2 108.1h0.7v0.7h-0.7zM61.6 110.5h0.7v0.7h-0.7zM74.4 108.8h0.7v0.7h-0.7zM65.5 111.4h0.7v0.7h-0.7zM70.3 107.7h0.7v0.7h-0.7zM73.7 109.9h0.7v0.7h-0.7zM54.4 120.0h0.7v0.7h-0.7zM55.6 118.9h0.7v0.7h-0.7zM61.8 108.1h0.7v0.7h-0.7zM58.8 117.1h0.7v0.7h-0.7zM48.7 116.5h0.7v0.7h-0.7zM62.2 109.3h0.7v0.7h-0.7zM64.0 110.6h0.7v0.7h-0.7zM50.4 118.9h0.7v0.7h-0.7zM82.5 116.3h0.7v0.7h-0.7zM70.5 113.5h0.7v0.7h-0.7zM59.6 111.9h0.7v0.7h-0.7zM53.9 109.0h0.7v0.7h-0.7zM71.5 113.4h0.7v0.7h-0.7zM48.1 115.5h0.7v0.7h-0.7zM68.1 116.8h0.7v0.7h-0.7zM60.3 117.8h0.7v0.7h-0.7zM59.1 116.5h0.7v0.7h-0.7zM48.0 111.8h0.7v0.7h-0.7z" fill="#777"/>
<path d="M71.9 117.7h0.7v0.7h-0.7zM62.8 119.2h0.7v0.7h-0.7zM51.8 108.0h0.7v0.7h-0.7zM67.9 110.5h0.7v0.7h-0.7zM63.6 114.7h0.7v0.7h-0.7zM66.1 109.4h0.7v0.7h-0.7zM53.0 112.1h0.7v0.7h-0.7zM62.2 113.6h0.7v0.7h-0.7zM61.3 112.7h0.7v0.7h-0.7zM71.7 116.2h0.7v0.7h-0.7zM48.5 118.0h0.7v0.7h-0.7zM70.6 116.5h0.7v0.7h-0.7zM52.1 113.4h0.7v0.7h-0.7zM77.0 116.7h0.7v0.7h-0.7zM80.8 107.1h0.7v0.7h-0.7zM64.5 107.5h0.7v0.7h-0.7zM47.5 112.5h0.7v0.7h-0.7zM51.9 117.7h0.7v0.7h-0.7zM49.3 111.5h0.7v0.7h-0.7zM56.3 109.7h0.7v0.7h-0.7zM65.2 119.1h0.7v0.7h-0.7zM71.2 106.9h0.7v0.7h-0.7zM58.9 111.1h0.7v0.7h-0.7zM79.8 111.4h0.7v0.7h-0.7zM49.6 119.3h0.7v0.7h-0.7zM61.5 109.0h0.7v0.7h-0.7zM54.4 117.4h0.7v0.7h-0.7zM51.0 114.9h0.7v0.7h-0.7z" fill="#666"/>
<path d="M49.18,110.05 C49.46,109.78 49.84,109.55 50.24,109.25 C50.64,108.95 51.17,108.52 51.59,108.24 C52.02,107.97 52.15,107.77 52.80,107.60 C53.45,107.43 54.66,107.38 55.50,107.22 C56.34,107.06 57.11,106.76 57.84,106.64 C58.58,106.52 58.95,106.49 59.89,106.49 C60.84,106.49 62.39,106.65 63.52,106.61 C64.64,106.58 65.55,106.32 66.62,106.27 C67.70,106.21 68.94,106.29 69.97,106.30 C71.01,106.31 71.92,106.27 72.84,106.34 C73.75,106.41 74.57,106.63 75.45,106.73 C76.34,106.82 77.48,106.81 78.13,106.91 C78.78,107.00 78.97,107.14 79.38,107.30 C79.79,107.46 80.14,107.71 80.59,107.88 C81.05,108.05 81.83,108.02 82.11,108.33 C82.39,108.65 82.18,109.38 82.28,109.77 C82.38,110.16 82.58,110.28 82.70,110.66 C82.82,111.03 83.01,111.54 83.01,112.02 C83.02,112.50 82.81,113.05 82.73,113.53 C82.65,114.00 82.69,114.48 82.55,114.86 C82.42,115.25 82.30,115.53 81.91,115.83 C81.51,116.13 80.70,116.42 80.17,116.67 C79.65,116.91 79.30,117.10 78.75,117.31 C78.20,117.53 77.68,117.80 76.89,117.97 C76.11,118.14 75.01,118.22 74.05,118.34 C73.08,118.45 72.10,118.62 71.10,118.67 C70.10,118.72 69.12,118.60 68.07,118.65 C67.02,118.69 65.92,118.86 64.80,118.95 C63.69,119.05 62.48,119.14 61.36,119.22 C60.24,119.29 59.06,119.33 58.10,119.38 C57.13,119.43 56.38,119.42 55.57,119.50 C54.75,119.58 53.95,119.81 53.19,119.85 C52.44,119.89 51.54,119.86 51.03,119.73 C50.52,119.60 50.41,119.38 50.13,119.06 C49.84,118.75 49.59,118.16 49.34,117.83 C49.09,117.49 48.75,117.45 48.62,117.06 C48.50,116.67 48.65,115.94 48.60,115.51 C48.54,115.07 48.33,114.85 48.29,114.46 C48.25,114.07 48.34,113.59 48.34,113.17 C48.34,112.74 48.24,112.30 48.28,111.92 C48.32,111.54 48.43,111.19 48.58,110.88 C48.73,110.56 48.91,110.32 49.18,110.05Z" fill="none" stroke="#000" stroke-opacity="0.45" stroke-width="0.45" stroke-dasharray="0.7 0.45"/>
<path d="M50.17,110.48 C50.40,110.20 50.92,109.93 51.30,109.68 C51.67,109.43 52.08,109.21 52.42,108.99 C52.76,108.78 52.79,108.60 53.32,108.41 C53.85,108.22 54.87,107.96 55.60,107.85 C56.34,107.75 57.02,107.84 57.74,107.76 C58.46,107.68 59.01,107.45 59.93,107.36 C60.84,107.27 62.12,107.23 63.23,107.22 C64.34,107.21 65.46,107.32 66.61,107.30 C67.75,107.27 69.12,107.07 70.10,107.06 C71.08,107.05 71.62,107.20 72.51,107.24 C73.40,107.28 74.53,107.27 75.44,107.31 C76.35,107.34 77.30,107.32 77.96,107.44 C78.62,107.57 79.02,107.91 79.40,108.06 C79.79,108.22 79.90,108.21 80.26,108.37 C80.61,108.53 81.25,108.79 81.54,109.04 C81.82,109.29 81.88,109.51 81.98,109.86 C82.08,110.20 82.03,110.76 82.13,111.10 C82.23,111.45 82.57,111.57 82.58,111.94 C82.59,112.32 82.31,112.95 82.19,113.36 C82.07,113.76 81.96,114.00 81.85,114.35 C81.74,114.69 81.78,115.12 81.52,115.43 C81.26,115.75 80.78,116.06 80.29,116.24 C79.80,116.42 79.12,116.36 78.58,116.50 C78.04,116.64 77.86,116.90 77.06,117.08 C76.25,117.27 74.79,117.49 73.77,117.61 C72.75,117.73 71.91,117.74 70.93,117.83 C69.96,117.91 68.98,118.06 67.93,118.10 C66.87,118.13 65.75,117.98 64.61,118.03 C63.48,118.08 62.20,118.28 61.10,118.41 C60.00,118.53 58.94,118.71 58.02,118.77 C57.09,118.83 56.28,118.75 55.55,118.75 C54.82,118.76 54.32,118.79 53.66,118.79 C52.99,118.80 52.00,118.88 51.56,118.79 C51.11,118.70 51.23,118.50 50.99,118.24 C50.75,117.99 50.33,117.53 50.11,117.27 C49.89,117.00 49.80,117.00 49.67,116.65 C49.54,116.31 49.36,115.55 49.34,115.17 C49.32,114.79 49.56,114.75 49.56,114.36 C49.55,113.98 49.26,113.22 49.29,112.85 C49.31,112.48 49.59,112.37 49.69,112.12 C49.80,111.87 49.83,111.63 49.91,111.36 C49.99,111.08 49.94,110.76 50.17,110.48Z" fill="none" stroke="#000" stroke-opacity="0.52" stroke-width="0.45" stroke-dasharray="0.7 0.45"/>
<path d="M51.02,110.73 C51.23,110.50 51.68,110.30 51.98,110.14 C52.27,109.99 52.47,109.99 52.80,109.79 C53.13,109.58 53.51,109.08 53.94,108.91 C54.38,108.74 54.77,108.83 55.40,108.76 C56.03,108.68 56.99,108.58 57.75,108.48 C58.50,108.38 58.97,108.18 59.93,108.16 C60.88,108.13 62.39,108.34 63.50,108.33 C64.60,108.32 65.44,108.19 66.56,108.11 C67.67,108.02 69.12,107.84 70.18,107.81 C71.23,107.78 72.00,107.87 72.87,107.93 C73.75,108.00 74.57,108.15 75.44,108.20 C76.31,108.24 77.49,108.10 78.11,108.19 C78.74,108.27 78.87,108.54 79.21,108.70 C79.56,108.86 79.86,109.02 80.19,109.15 C80.51,109.28 80.98,109.27 81.17,109.47 C81.35,109.68 81.19,110.13 81.29,110.40 C81.39,110.67 81.62,110.80 81.77,111.10 C81.92,111.39 82.17,111.87 82.17,112.17 C82.17,112.47 81.87,112.62 81.76,112.90 C81.64,113.18 81.59,113.50 81.47,113.84 C81.35,114.18 81.32,114.68 81.04,114.95 C80.76,115.21 80.22,115.30 79.81,115.44 C79.40,115.57 79.08,115.63 78.61,115.77 C78.14,115.91 77.75,116.12 76.99,116.29 C76.22,116.47 75.03,116.73 74.02,116.80 C73.02,116.88 71.95,116.69 70.93,116.74 C69.92,116.79 68.96,117.02 67.93,117.10 C66.90,117.18 65.86,117.10 64.77,117.21 C63.69,117.33 62.53,117.65 61.40,117.77 C60.28,117.88 58.98,117.86 58.02,117.90 C57.06,117.95 56.30,118.03 55.63,118.06 C54.97,118.10 54.57,118.16 54.05,118.13 C53.53,118.10 52.88,117.99 52.52,117.88 C52.15,117.78 52.12,117.72 51.86,117.51 C51.60,117.29 51.16,116.87 50.96,116.60 C50.75,116.32 50.69,116.12 50.63,115.84 C50.57,115.56 50.63,115.24 50.61,114.91 C50.59,114.59 50.56,114.17 50.51,113.88 C50.45,113.60 50.33,113.50 50.31,113.22 C50.29,112.95 50.32,112.51 50.38,112.23 C50.45,111.95 50.59,111.77 50.70,111.52 C50.80,111.27 50.81,110.96 51.02,110.73Z" fill="none" stroke="#000" stroke-opacity="0.60" stroke-width="0.45" stroke-dasharray="0.7 0.45"/>
<path d="M51.47,111.09 C51.65,110.91 52.03,111.00 52.35,110.87 C52.67,110.75 53.11,110.52 53.39,110.34 C53.66,110.16 53.67,109.92 54.01,109.78 C54.35,109.64 54.80,109.57 55.43,109.47 C56.07,109.37 57.02,109.24 57.82,109.16 C58.63,109.09 59.32,109.02 60.26,109.00 C61.20,108.98 62.41,109.03 63.47,109.03 C64.53,109.03 65.50,109.04 66.61,108.98 C67.73,108.92 69.11,108.70 70.16,108.64 C71.20,108.59 71.97,108.62 72.88,108.65 C73.80,108.68 74.77,108.78 75.62,108.84 C76.48,108.89 77.44,108.93 78.03,108.97 C78.63,109.01 78.83,109.01 79.18,109.07 C79.53,109.14 79.83,109.25 80.13,109.37 C80.43,109.50 80.82,109.57 80.99,109.81 C81.16,110.05 81.10,110.55 81.16,110.82 C81.23,111.09 81.33,111.24 81.39,111.42 C81.45,111.59 81.57,111.65 81.53,111.88 C81.49,112.10 81.23,112.46 81.17,112.76 C81.11,113.07 81.21,113.38 81.15,113.70 C81.10,114.03 81.11,114.52 80.87,114.71 C80.62,114.91 80.05,114.78 79.68,114.86 C79.31,114.94 79.14,115.05 78.64,115.20 C78.15,115.35 77.52,115.64 76.71,115.78 C75.89,115.91 74.73,115.90 73.75,115.99 C72.76,116.08 71.76,116.24 70.79,116.30 C69.82,116.36 68.96,116.30 67.93,116.36 C66.91,116.42 65.76,116.55 64.61,116.67 C63.47,116.78 62.22,117.01 61.08,117.05 C59.95,117.10 58.70,116.91 57.79,116.94 C56.88,116.97 56.18,117.16 55.63,117.22 C55.08,117.29 54.96,117.35 54.50,117.34 C54.03,117.34 53.25,117.29 52.86,117.20 C52.48,117.10 52.35,116.96 52.19,116.77 C52.03,116.58 52.02,116.28 51.89,116.07 C51.76,115.87 51.48,115.74 51.41,115.53 C51.34,115.32 51.51,115.07 51.46,114.82 C51.42,114.58 51.21,114.35 51.13,114.06 C51.05,113.78 50.95,113.37 50.98,113.09 C51.01,112.80 51.24,112.54 51.29,112.35 C51.35,112.16 51.29,112.16 51.32,111.95 C51.35,111.74 51.30,111.27 51.47,111.09Z" fill="none" stroke="#000" stroke-opacity="0.50" stroke-width="0.45"/>
<path d="M52.16,111.56 C52.34,111.35 52.99,111.10 53.23,110.96 C53.47,110.82 53.42,110.82 53.63,110.71 C53.83,110.60 54.08,110.42 54.44,110.29 C54.80,110.16 55.23,110.02 55.78,109.93 C56.33,109.85 57.03,109.79 57.72,109.77 C58.42,109.74 58.98,109.81 59.96,109.78 C60.93,109.76 62.47,109.65 63.58,109.61 C64.69,109.57 65.49,109.61 66.60,109.56 C67.71,109.50 69.18,109.34 70.23,109.30 C71.28,109.26 72.04,109.34 72.89,109.33 C73.74,109.31 74.49,109.24 75.34,109.22 C76.20,109.20 77.38,109.13 78.01,109.22 C78.63,109.32 78.78,109.64 79.11,109.79 C79.43,109.94 79.69,110.05 79.94,110.12 C80.20,110.19 80.50,110.06 80.64,110.18 C80.79,110.31 80.72,110.64 80.79,110.86 C80.86,111.08 81.04,111.28 81.09,111.50 C81.14,111.71 81.08,111.96 81.09,112.15 C81.10,112.35 81.19,112.49 81.16,112.68 C81.13,112.87 81.04,113.06 80.92,113.29 C80.80,113.52 80.65,113.84 80.46,114.07 C80.28,114.31 80.09,114.58 79.79,114.70 C79.49,114.82 79.12,114.73 78.66,114.81 C78.20,114.89 77.85,115.06 77.03,115.19 C76.22,115.33 74.79,115.54 73.77,115.63 C72.76,115.72 71.90,115.67 70.93,115.74 C69.96,115.81 69.01,115.98 67.94,116.06 C66.87,116.13 65.63,116.14 64.53,116.19 C63.42,116.25 62.40,116.34 61.28,116.39 C60.17,116.45 58.75,116.52 57.84,116.53 C56.94,116.54 56.41,116.43 55.85,116.45 C55.30,116.47 54.94,116.57 54.50,116.63 C54.06,116.69 53.51,116.91 53.23,116.80 C52.95,116.68 52.97,116.12 52.82,115.96 C52.68,115.80 52.51,115.99 52.38,115.83 C52.24,115.68 52.12,115.29 52.04,115.03 C51.95,114.78 51.85,114.50 51.86,114.30 C51.87,114.10 52.05,114.03 52.07,113.84 C52.10,113.66 52.05,113.40 52.02,113.19 C52.00,112.99 51.88,112.78 51.91,112.61 C51.93,112.44 52.12,112.36 52.17,112.18 C52.21,112.01 51.99,111.76 52.16,111.56Z" fill="none" stroke="#000" stroke-opacity="0.65" stroke-width="0.45"/>
<path d="M53.12,111.98 C53.22,111.88 53.19,111.73 53.39,111.61 C53.59,111.50 54.11,111.45 54.30,111.29 C54.50,111.12 54.34,110.78 54.55,110.63 C54.76,110.49 54.99,110.43 55.56,110.42 C56.13,110.40 57.19,110.55 57.96,110.54 C58.74,110.53 59.28,110.43 60.22,110.34 C61.15,110.26 62.47,110.10 63.55,110.02 C64.62,109.93 65.55,109.87 66.66,109.83 C67.78,109.79 69.25,109.76 70.26,109.76 C71.27,109.77 71.91,109.85 72.74,109.85 C73.58,109.86 74.40,109.77 75.28,109.79 C76.17,109.82 77.41,109.94 78.05,109.98 C78.68,110.03 78.78,109.99 79.09,110.05 C79.40,110.11 79.68,110.27 79.90,110.37 C80.13,110.47 80.37,110.54 80.43,110.66 C80.49,110.77 80.24,110.90 80.27,111.08 C80.30,111.25 80.53,111.53 80.61,111.72 C80.69,111.91 80.74,112.05 80.74,112.20 C80.75,112.34 80.67,112.42 80.65,112.57 C80.63,112.72 80.65,112.91 80.61,113.10 C80.57,113.29 80.62,113.55 80.42,113.70 C80.21,113.85 79.67,113.85 79.37,114.00 C79.08,114.15 79.10,114.49 78.64,114.61 C78.19,114.74 77.46,114.67 76.66,114.75 C75.86,114.82 74.84,114.99 73.85,115.06 C72.86,115.12 71.74,115.06 70.73,115.13 C69.72,115.19 68.84,115.36 67.79,115.45 C66.74,115.54 65.53,115.66 64.42,115.68 C63.30,115.70 62.17,115.54 61.09,115.57 C60.01,115.60 58.82,115.79 57.92,115.87 C57.02,115.94 56.24,115.97 55.70,116.01 C55.16,116.05 54.98,116.09 54.69,116.11 C54.39,116.13 54.12,116.24 53.93,116.15 C53.74,116.06 53.68,115.74 53.54,115.58 C53.40,115.42 53.20,115.34 53.09,115.19 C52.99,115.04 52.97,114.86 52.93,114.67 C52.90,114.48 52.95,114.25 52.89,114.07 C52.83,113.89 52.58,113.75 52.57,113.59 C52.56,113.43 52.78,113.24 52.81,113.11 C52.83,112.99 52.72,112.98 52.71,112.84 C52.71,112.69 52.70,112.38 52.77,112.24 C52.84,112.10 53.01,112.08 53.12,111.98Z" fill="none" stroke="#000" stroke-opacity="0.80" stroke-width="0.45"/>
<path d="M53.56,112.18 C53.66,112.06 53.97,111.97 54.12,111.85 C54.26,111.72 54.31,111.51 54.42,111.43 C54.54,111.34 54.58,111.38 54.81,111.34 C55.05,111.30 55.35,111.26 55.83,111.19 C56.31,111.11 56.97,110.96 57.71,110.89 C58.46,110.82 59.35,110.81 60.29,110.77 C61.24,110.72 62.25,110.66 63.37,110.60 C64.48,110.54 65.89,110.44 67.00,110.39 C68.12,110.34 69.07,110.28 70.05,110.30 C71.04,110.32 72.03,110.52 72.92,110.50 C73.80,110.49 74.50,110.25 75.36,110.21 C76.21,110.17 77.42,110.24 78.05,110.26 C78.68,110.29 78.88,110.32 79.13,110.37 C79.37,110.43 79.33,110.48 79.51,110.58 C79.70,110.69 80.15,110.84 80.24,111.00 C80.33,111.15 80.04,111.39 80.03,111.50 C80.02,111.61 80.07,111.55 80.17,111.68 C80.28,111.80 80.62,112.10 80.66,112.25 C80.71,112.40 80.52,112.43 80.42,112.57 C80.32,112.72 80.16,112.98 80.07,113.12 C79.98,113.26 80.00,113.34 79.89,113.41 C79.79,113.49 79.66,113.46 79.42,113.58 C79.19,113.70 78.90,114.01 78.48,114.13 C78.06,114.25 77.68,114.24 76.92,114.29 C76.15,114.35 74.93,114.39 73.89,114.46 C72.85,114.52 71.70,114.61 70.69,114.69 C69.67,114.77 68.79,114.88 67.79,114.92 C66.78,114.97 65.76,114.92 64.65,114.98 C63.55,115.04 62.33,115.23 61.19,115.28 C60.04,115.33 58.66,115.20 57.79,115.25 C56.92,115.30 56.41,115.54 55.97,115.59 C55.54,115.64 55.44,115.56 55.18,115.56 C54.91,115.55 54.58,115.65 54.39,115.58 C54.20,115.52 54.15,115.28 54.01,115.16 C53.88,115.05 53.73,115.02 53.59,114.91 C53.46,114.80 53.24,114.62 53.21,114.50 C53.19,114.37 53.43,114.32 53.45,114.15 C53.48,113.98 53.39,113.67 53.36,113.50 C53.32,113.32 53.23,113.24 53.24,113.11 C53.25,112.99 53.36,112.83 53.41,112.74 C53.46,112.66 53.50,112.70 53.53,112.60 C53.55,112.51 53.46,112.31 53.56,112.18Z" fill="none" stroke="#000" stroke-opacity="0.85" stroke-width="0.45"/>
<path d="M53.98,112.40 C54.10,112.29 54.44,112.12 54.58,112.07 C54.72,112.01 54.76,112.14 54.83,112.08 C54.90,112.01 54.86,111.74 55.01,111.68 C55.15,111.61 55.18,111.73 55.68,111.68 C56.19,111.64 57.32,111.49 58.04,111.43 C58.77,111.36 59.13,111.32 60.05,111.28 C60.97,111.25 62.42,111.26 63.55,111.22 C64.69,111.18 65.74,111.12 66.87,111.06 C68.00,111.01 69.34,110.90 70.33,110.89 C71.32,110.89 71.98,111.03 72.82,111.02 C73.67,111.02 74.51,110.90 75.40,110.88 C76.28,110.85 77.54,110.84 78.13,110.87 C78.72,110.91 78.73,111.09 78.94,111.09 C79.15,111.09 79.26,110.86 79.39,110.87 C79.52,110.88 79.66,111.06 79.72,111.16 C79.77,111.26 79.68,111.36 79.72,111.48 C79.77,111.61 79.94,111.82 79.99,111.91 C80.05,112.01 80.09,111.94 80.07,112.05 C80.06,112.17 79.91,112.47 79.92,112.60 C79.92,112.74 80.13,112.75 80.09,112.88 C80.06,113.00 79.83,113.28 79.70,113.35 C79.57,113.42 79.54,113.23 79.32,113.29 C79.09,113.35 78.75,113.61 78.36,113.71 C77.96,113.81 77.70,113.84 76.94,113.89 C76.18,113.94 74.84,113.95 73.80,114.03 C72.76,114.11 71.71,114.30 70.70,114.36 C69.69,114.42 68.76,114.35 67.75,114.40 C66.73,114.44 65.70,114.60 64.60,114.63 C63.49,114.67 62.25,114.58 61.12,114.60 C59.99,114.61 58.66,114.65 57.82,114.70 C56.97,114.74 56.44,114.84 56.04,114.87 C55.64,114.90 55.66,114.86 55.42,114.86 C55.18,114.86 54.77,114.93 54.60,114.88 C54.43,114.84 54.50,114.66 54.40,114.60 C54.30,114.55 54.09,114.65 54.00,114.57 C53.92,114.49 53.91,114.24 53.89,114.12 C53.87,114.01 53.87,113.95 53.87,113.86 C53.87,113.76 53.88,113.69 53.89,113.56 C53.91,113.43 53.92,113.18 53.96,113.09 C54.00,113.00 54.15,113.08 54.14,113.02 C54.12,112.96 53.89,112.84 53.86,112.74 C53.84,112.63 53.86,112.51 53.98,112.40Z" fill="none" stroke="#000" stroke-opacity="0.85" stroke-width="0.45"/>
<path d="M54.83,112.71 C54.86,112.68 54.71,112.67 54.78,112.57 C54.85,112.46 55.15,112.13 55.23,112.08 C55.31,112.04 55.12,112.32 55.23,112.30 C55.35,112.28 55.52,112.04 55.94,111.95 C56.35,111.87 57.03,111.79 57.73,111.78 C58.43,111.77 59.16,111.93 60.12,111.89 C61.08,111.84 62.34,111.55 63.50,111.51 C64.65,111.46 65.95,111.63 67.05,111.63 C68.15,111.64 69.11,111.58 70.09,111.54 C71.07,111.51 72.00,111.46 72.92,111.44 C73.84,111.42 74.70,111.44 75.60,111.42 C76.50,111.40 77.75,111.35 78.31,111.34 C78.86,111.33 78.77,111.33 78.94,111.36 C79.11,111.38 79.23,111.44 79.33,111.49 C79.43,111.53 79.49,111.63 79.55,111.65 C79.60,111.67 79.66,111.60 79.67,111.62 C79.68,111.65 79.59,111.74 79.62,111.80 C79.64,111.86 79.78,111.91 79.80,111.99 C79.81,112.06 79.73,112.16 79.71,112.27 C79.68,112.39 79.66,112.54 79.64,112.67 C79.62,112.80 79.68,112.98 79.59,113.07 C79.49,113.15 79.24,113.16 79.06,113.18 C78.87,113.21 78.84,113.16 78.47,113.22 C78.11,113.28 77.65,113.47 76.87,113.52 C76.08,113.56 74.73,113.50 73.74,113.51 C72.76,113.51 71.96,113.46 70.97,113.52 C69.99,113.59 68.96,113.82 67.84,113.91 C66.72,113.99 65.37,113.98 64.26,114.06 C63.15,114.13 62.28,114.27 61.18,114.35 C60.09,114.43 58.58,114.52 57.71,114.53 C56.83,114.54 56.28,114.46 55.94,114.41 C55.60,114.36 55.79,114.23 55.65,114.25 C55.52,114.26 55.27,114.48 55.14,114.50 C55.00,114.53 54.90,114.49 54.83,114.42 C54.75,114.35 54.72,114.15 54.68,114.09 C54.64,114.02 54.63,114.10 54.59,114.03 C54.55,113.96 54.45,113.74 54.44,113.64 C54.43,113.54 54.47,113.53 54.51,113.44 C54.54,113.34 54.62,113.16 54.65,113.08 C54.68,113.00 54.70,113.00 54.70,112.93 C54.70,112.87 54.60,112.73 54.62,112.69 C54.64,112.65 54.81,112.73 54.83,112.71Z" fill="none" stroke="#000" stroke-opacity="0.70" stroke-width="0.45"/>
<path d="M58,112.9 L77,112.2" stroke="#fff" stroke-width="0.8" stroke-opacity="0.45"/>
<path d="M50,121 C49,124 51,127 55,126 M53,121 C52,124 55,126 56,124" stroke="#000" stroke-opacity="0.3" stroke-width="0.45" fill="none"/>
<rect x="51.04" y="149.00" width="0.7" height="1.2" fill="#333"/>
<rect x="53.85" y="149.00" width="0.7" height="1.2" fill="#333"/>
<rect x="51.93" y="149.00" width="0.7" height="1.2" fill="#333"/>
<rect x="52.75" y="149.00" width="0.7" height="1.2" fill="#333"/>
<rect x="49.99" y="149.00" width="0.7" height="1.2" fill="#333"/>
<rect x="49.90" y="149.00" width="0.7" height="1.2" fill="#333"/>
<rect x="49.80" y="149.00" width="0.7" height="1.2" fill="#333"/>
<rect x="51.52" y="149.00" width="0.7" height="1.2" fill="#333"/>
<rect x="51.81" y="149.00" width="0.7" height="1.2" fill="#333"/>
<rect x="52.71" y="149.00" width="0.7" height="1.2" fill="#333"/>
<rect x="48.24" y="149.00" width="0.7" height="1.2" fill="#333"/>
<rect x="52.34" y="149.00" width="0.7" height="1.2" fill="#333"/>
<path d="M145.2 109.7h0.7v0.7h-0.7zM126.6 120.9h0.7v0.7h-0.7zM136.2 115.1h0.7v0.7h-0.7zM139.1 121.8h0.7v0.7h-0.7zM126.3 120.2h0.7v0.7h-0.7zM133.5 120.4h0.7v0.7h-0.7zM133.9 123.6h0.7v0.7h-0.7zM130.3 118.6h0.7v0.7h-0.7zM137.0 114.2h0.7v0.7h-0.7zM131.1 111.6h0.7v0.7h-0.7zM135.9 116.3h0.7v0.7h-0.7zM122.6 129.9h0.7v0.7h-0.7zM136.0 110.4h0.7v0.7h-0.7zM145.6 117.7h0.7v0.7h-0.7zM151.3 110.6h0.7v0.7h-0.7zM131.2 130.9h0.7v0.7h-0.7zM154.0 107.2h0.7v0.7h-0.7zM139.4 119.9h0.7v0.7h-0.7zM118.4 136.5h0.7v0.7h-0.7zM115.2 143.9h0.7v0.7h-0.7z" fill="#aaa"/>
<path d="M143.6 139.0h0.7v0.7h-0.7zM132.5 114.5h0.7v0.7h-0.7zM148.2 110.6h0.7v0.7h-0.7zM144.6 129.9h0.7v0.7h-0.7zM136.3 116.6h0.7v0.7h-0.7zM131.3 113.8h0.7v0.7h-0.7zM134.4 118.1h0.7v0.7h-0.7zM142.6 122.1h0.7v0.7h-0.7zM122.5 112.5h0.7v0.7h-0.7zM121.3 120.3h0.7v0.7h-0.7zM126.3 125.0h0.7v0.7h-0.7zM153.5 115.5h0.7v0.7h-0.7zM142.6 99.4h0.7v0.7h-0.7zM155.0 139.7h0.7v0.7h-0.7zM133.4 110.8h0.7v0.7h-0.7zM121.2 117.0h0.7v0.7h-0.7zM136.0 110.2h0.7v0.7h-0.7zM118.9 114.0h0.7v0.7h-0.7zM133.9 112.3h0.7v0.7h-0.7zM143.2 119.5h0.7v0.7h-0.7zM135.6 118.3h0.7v0.7h-0.7zM144.5 124.2h0.7v0.7h-0.7zM136.6 116.7h0.7v0.7h-0.7zM123.6 138.3h0.7v0.7h-0.7z" fill="#bbb"/>
<path d="M124.3 108.4h0.7v0.7h-0.7zM159.6 116.3h0.7v0.7h-0.7zM116.5 130.4h0.7v0.7h-0.7zM129.8 106.8h0.7v0.7h-0.7zM127.2 125.1h0.7v0.7h-0.7zM135.1 116.1h0.7v0.7h-0.7zM134.7 111.6h0.7v0.7h-0.7zM124.8 128.7h0.7v0.7h-0.7zM135.4 124.1h0.7v0.7h-0.7zM131.9 120.8h0.7v0.7h-0.7zM125.3 144.8h0.7v0.7h-0.7zM122.7 136.7h0.7v0.7h-0.7zM125.5 139.1h0.7v0.7h-0.7zM116.4 141.2h0.7v0.7h-0.7zM118.8 148.5h0.7v0.7h-0.7zM120.9 132.6h0.7v0.7h-0.7zM119.0 137.8h0.7v0.7h-0.7z" fill="#999"/>
<path d="M114.3 131.6h0.7v0.7h-0.7zM122.0 115.1h0.7v0.7h-0.7zM128.1 107.3h0.7v0.7h-0.7zM147.3 132.1h0.7v0.7h-0.7zM141.3 106.2h0.7v0.7h-0.7zM119.6 97.7h0.7v0.7h-0.7zM122.7 119.5h0.7v0.7h-0.7zM126.2 119.1h0.7v0.7h-0.7zM143.2 135.8h0.7v0.7h-0.7zM132.7 120.8h0.7v0.7h-0.7zM127.6 136.6h0.7v0.7h-0.7zM126.9 143.9h0.7v0.7h-0.7zM120.0 141.8h0.7v0.7h-0.7z" fill="#888"/>
<path d="M134.2 107.7h0.7v0.7h-0.7zM129.8 118.6h0.7v0.7h-0.7zM127.6 113.1h0.7v0.7h-0.7zM126.4 116.7h0.7v0.7h-0.7zM129.1 130.8h0.7v0.7h-0.7zM146.0 135.2h0.7v0.7h-0.7zM140.0 116.3h0.7v0.7h-0.7zM132.3 127.9h0.7v0.7h-0.7zM115.0 115.3h0.7v0.7h-0.7zM130.2 121.2h0.7v0.7h-0.7zM130.4 117.3h0.7v0.7h-0.7zM138.6 112.1h0.7v0.7h-0.7zM127.3 121.4h0.7v0.7h-0.7zM130.2 135.3h0.7v0.7h-0.7zM149.0 122.0h0.7v0.7h-0.7zM154.0 105.8h0.7v0.7h-0.7zM152.1 114.0h0.7v0.7h-0.7zM131.2 130.0h0.7v0.7h-0.7zM118.2 141.1h0.7v0.7h-0.7zM123.7 137.9h0.7v0.7h-0.7zM130.8 136.4h0.7v0.7h-0.7zM125.1 132.9h0.7v0.7h-0.7zM119.9 141.3h0.7v0.7h-0.7zM121.9 142.9h0.7v0.7h-0.7z" fill="#777"/>
<path d="M127.00,108.00 C128.17,104.92 132.17,107.12 135.00,107.00 C137.83,106.88 141.67,107.05 144.00,107.30 C146.33,107.55 147.83,107.72 149.00,108.50 C150.17,109.28 150.75,110.58 151.00,112.00 C151.25,113.42 151.33,115.75 150.50,117.00 C149.67,118.25 147.92,118.83 146.00,119.50 C144.08,120.17 141.17,120.33 139.00,121.00 C136.83,121.67 134.83,122.75 133.00,123.50 C131.17,124.25 129.00,128.08 128.00,125.50 C127.00,122.92 125.83,111.08 127.00,108.00Z" fill="#eeeeee" fill-opacity="1" stroke="none"/>
<path d="M127.8 124.0h0.7v0.7h-0.7zM137.2 111.7h0.7v0.7h-0.7zM146.7 113.2h0.7v0.7h-0.7zM131.8 117.7h0.7v0.7h-0.7zM147.6 116.7h0.7v0.7h-0.7zM130.8 109.3h0.7v0.7h-0.7zM129.7 119.5h0.7v0.7h-0.7zM128.1 113.5h0.7v0.7h-0.7zM142.4 115.6h0.7v0.7h-0.7zM129.1 109.0h0.7v0.7h-0.7zM140.0 111.0h0.7v0.7h-0.7zM145.9 113.2h0.7v0.7h-0.7zM133.6 112.5h0.7v0.7h-0.7zM127.1 113.1h0.7v0.7h-0.7zM133.8 121.6h0.7v0.7h-0.7zM136.8 119.6h0.7v0.7h-0.7zM133.1 118.9h0.7v0.7h-0.7zM134.5 123.0h0.7v0.7h-0.7zM149.7 109.6h0.7v0.7h-0.7zM148.7 114.8h0.7v0.7h-0.7zM139.3 109.4h0.7v0.7h-0.7zM136.7 109.0h0.7v0.7h-0.7zM143.6 117.8h0.7v0.7h-0.7zM144.4 113.5h0.7v0.7h-0.7zM137.4 118.7h0.7v0.7h-0.7zM133.4 107.1h0.7v0.7h-0.7zM132.4 109.1h0.7v0.7h-0.7zM133.1 122.8h0.7v0.7h-0.7zM140.3 115.7h0.7v0.7h-0.7zM144.2 120.1h0.7v0.7h-0.7zM135.2 118.8h0.7v0.7h-0.7zM134.2 119.0h0.7v0.7h-0.7zM141.1 120.1h0.7v0.7h-0.7zM139.2 119.7h0.7v0.7h-0.7zM137.1 116.5h0.7v0.7h-0.7zM132.9 117.2h0.7v0.7h-0.7zM131.4 112.6h0.7v0.7h-0.7zM143.9 109.2h0.7v0.7h-0.7zM127.0 114.3h0.7v0.7h-0.7zM145.0 112.9h0.7v0.7h-0.7zM142.6 113.5h0.7v0.7h-0.7zM138.8 116.3h0.7v0.7h-0.7zM142.1 109.4h0.7v0.7h-0.7zM150.4 110.0h0.7v0.7h-0.7zM137.1 117.0h0.7v0.7h-0.7zM150.3 115.9h0.7v0.7h-0.7z" fill="#888"/>
<path d="M129.3 121.3h0.7v0.7h-0.7zM127.8 120.7h0.7v0.7h-0.7zM150.1 112.2h0.7v0.7h-0.7zM139.4 113.4h0.7v0.7h-0.7zM131.0 122.8h0.7v0.7h-0.7zM138.1 118.0h0.7v0.7h-0.7zM147.6 117.6h0.7v0.7h-0.7zM127.7 116.7h0.7v0.7h-0.7zM127.2 119.1h0.7v0.7h-0.7zM149.4 117.8h0.7v0.7h-0.7zM134.0 115.9h0.7v0.7h-0.7zM134.5 112.9h0.7v0.7h-0.7zM140.2 118.4h0.7v0.7h-0.7zM143.4 118.6h0.7v0.7h-0.7zM130.1 123.1h0.7v0.7h-0.7zM133.6 113.5h0.7v0.7h-0.7zM135.8 111.1h0.7v0.7h-0.7zM133.9 117.0h0.7v0.7h-0.7zM142.9 112.3h0.7v0.7h-0.7zM143.4 108.4h0.7v0.7h-0.7zM145.5 110.3h0.7v0.7h-0.7zM148.0 109.2h0.7v0.7h-0.7zM130.8 113.7h0.7v0.7h-0.7zM130.4 110.5h0.7v0.7h-0.7zM129.2 121.4h0.7v0.7h-0.7zM143.5 107.3h0.7v0.7h-0.7zM131.9 116.8h0.7v0.7h-0.7zM150.2 114.8h0.7v0.7h-0.7zM143.8 109.2h0.7v0.7h-0.7zM136.6 110.6h0.7v0.7h-0.7zM127.4 124.0h0.7v0.7h-0.7zM137.6 117.7h0.7v0.7h-0.7zM138.6 121.1h0.7v0.7h-0.7zM142.6 118.8h0.7v0.7h-0.7zM130.6 121.8h0.7v0.7h-0.7zM135.6 117.3h0.7v0.7h-0.7zM138.4 110.8h0.7v0.7h-0.7zM139.3 114.8h0.7v0.7h-0.7z" fill="#aaa"/>
<path d="M130.0 119.0h0.7v0.7h-0.7zM138.8 106.9h0.7v0.7h-0.7zM134.4 120.4h0.7v0.7h-0.7zM133.7 108.7h0.7v0.7h-0.7zM130.0 117.7h0.7v0.7h-0.7zM130.5 122.6h0.7v0.7h-0.7zM132.0 114.8h0.7v0.7h-0.7zM137.4 107.8h0.7v0.7h-0.7zM147.0 116.7h0.7v0.7h-0.7zM136.7 108.6h0.7v0.7h-0.7zM145.6 118.0h0.7v0.7h-0.7zM148.3 118.4h0.7v0.7h-0.7zM136.2 117.4h0.7v0.7h-0.7zM150.5 110.6h0.7v0.7h-0.7zM127.0 111.6h0.7v0.7h-0.7zM139.4 116.7h0.7v0.7h-0.7zM150.6 116.1h0.7v0.7h-0.7zM131.6 124.0h0.7v0.7h-0.7zM143.2 110.4h0.7v0.7h-0.7zM138.7 115.7h0.7v0.7h-0.7zM136.1 107.7h0.7v0.7h-0.7zM147.9 112.7h0.7v0.7h-0.7zM134.0 118.3h0.7v0.7h-0.7zM131.9 112.6h0.7v0.7h-0.7zM128.5 109.9h0.7v0.7h-0.7zM140.3 114.1h0.7v0.7h-0.7zM130.3 113.5h0.7v0.7h-0.7zM139.1 111.0h0.7v0.7h-0.7zM128.6 112.2h0.7v0.7h-0.7zM133.5 114.4h0.7v0.7h-0.7zM144.1 115.6h0.7v0.7h-0.7zM140.6 111.0h0.7v0.7h-0.7zM144.4 111.6h0.7v0.7h-0.7zM145.2 108.3h0.7v0.7h-0.7zM147.3 118.8h0.7v0.7h-0.7zM143.6 116.1h0.7v0.7h-0.7zM131.3 120.2h0.7v0.7h-0.7zM129.1 116.1h0.7v0.7h-0.7zM127.4 117.6h0.7v0.7h-0.7zM130.5 115.2h0.7v0.7h-0.7zM128.6 107.4h0.7v0.7h-0.7zM143.4 117.6h0.7v0.7h-0.7zM128.5 112.9h0.7v0.7h-0.7zM142.9 117.6h0.7v0.7h-0.7z" fill="#777"/>
<path d="M144.3 110.4h0.7v0.7h-0.7zM141.0 110.5h0.7v0.7h-0.7zM143.8 116.7h0.7v0.7h-0.7zM129.7 111.3h0.7v0.7h-0.7zM132.0 110.1h0.7v0.7h-0.7zM134.2 117.4h0.7v0.7h-0.7zM144.0 108.6h0.7v0.7h-0.7zM144.4 107.5h0.7v0.7h-0.7zM139.6 114.3h0.7v0.7h-0.7zM132.6 114.8h0.7v0.7h-0.7zM135.5 116.9h0.7v0.7h-0.7zM134.5 110.5h0.7v0.7h-0.7zM127.2 108.6h0.7v0.7h-0.7zM139.4 115.0h0.7v0.7h-0.7zM139.8 109.5h0.7v0.7h-0.7zM147.4 113.5h0.7v0.7h-0.7zM143.4 115.4h0.7v0.7h-0.7zM143.4 116.8h0.7v0.7h-0.7zM141.1 120.0h0.7v0.7h-0.7zM130.6 112.8h0.7v0.7h-0.7zM147.2 116.6h0.7v0.7h-0.7zM129.0 117.7h0.7v0.7h-0.7zM136.4 108.5h0.7v0.7h-0.7zM139.4 116.5h0.7v0.7h-0.7zM146.7 107.8h0.7v0.7h-0.7zM133.7 117.5h0.7v0.7h-0.7zM134.8 119.3h0.7v0.7h-0.7zM133.5 111.2h0.7v0.7h-0.7zM131.7 123.5h0.7v0.7h-0.7zM134.4 119.5h0.7v0.7h-0.7zM143.2 117.8h0.7v0.7h-0.7zM140.0 111.5h0.7v0.7h-0.7zM130.6 113.3h0.7v0.7h-0.7zM141.1 111.3h0.7v0.7h-0.7zM130.6 108.0h0.7v0.7h-0.7zM134.4 113.6h0.7v0.7h-0.7zM142.8 108.1h0.7v0.7h-0.7zM147.5 111.5h0.7v0.7h-0.7zM137.1 112.1h0.7v0.7h-0.7z" fill="#999"/>
<path d="M127.3 120.2h0.7v0.7h-0.7zM139.4 115.3h0.7v0.7h-0.7zM137.6 107.1h0.7v0.7h-0.7zM145.0 111.7h0.7v0.7h-0.7zM143.8 118.2h0.7v0.7h-0.7zM129.4 118.1h0.7v0.7h-0.7zM149.1 108.2h0.7v0.7h-0.7zM132.5 108.3h0.7v0.7h-0.7zM133.6 115.4h0.7v0.7h-0.7zM131.9 114.1h0.7v0.7h-0.7zM144.2 115.6h0.7v0.7h-0.7zM139.3 114.0h0.7v0.7h-0.7zM135.9 112.4h0.7v0.7h-0.7zM134.0 109.4h0.7v0.7h-0.7zM136.2 113.6h0.7v0.7h-0.7zM136.7 116.3h0.7v0.7h-0.7zM130.9 118.8h0.7v0.7h-0.7zM145.7 117.6h0.7v0.7h-0.7zM128.9 109.9h0.7v0.7h-0.7zM127.2 118.8h0.7v0.7h-0.7zM127.9 110.3h0.7v0.7h-0.7zM132.0 109.7h0.7v0.7h-0.7zM143.4 119.7h0.7v0.7h-0.7zM139.8 114.5h0.7v0.7h-0.7zM128.1 124.4h0.7v0.7h-0.7zM133.7 111.9h0.7v0.7h-0.7zM130.3 120.9h0.7v0.7h-0.7zM138.7 110.3h0.7v0.7h-0.7zM132.3 111.3h0.7v0.7h-0.7zM130.6 119.6h0.7v0.7h-0.7zM133.8 110.2h0.7v0.7h-0.7zM135.9 106.7h0.7v0.7h-0.7zM127.8 119.7h0.7v0.7h-0.7z" fill="#666"/>
<path d="M126.92,107.94 C127.35,106.86 128.94,107.57 129.82,107.48 C130.70,107.39 131.35,107.51 132.21,107.40 C133.07,107.30 134.00,106.89 134.98,106.83 C135.95,106.77 137.06,106.99 138.06,107.05 C139.07,107.10 140.04,107.12 141.03,107.17 C142.02,107.21 143.25,107.26 144.01,107.33 C144.78,107.39 145.09,107.39 145.63,107.55 C146.16,107.70 146.64,108.12 147.21,108.26 C147.77,108.39 148.58,108.13 149.02,108.34 C149.45,108.56 149.62,109.15 149.81,109.57 C150.00,109.98 149.99,110.44 150.17,110.85 C150.35,111.25 150.79,111.54 150.90,112.00 C151.01,112.45 150.89,113.03 150.85,113.56 C150.82,114.09 150.75,114.60 150.70,115.18 C150.64,115.76 150.82,116.60 150.51,117.04 C150.19,117.47 149.36,117.53 148.83,117.80 C148.30,118.06 147.78,118.36 147.33,118.64 C146.88,118.93 146.74,119.28 146.15,119.52 C145.55,119.76 144.58,119.91 143.75,120.10 C142.92,120.30 141.96,120.57 141.18,120.70 C140.40,120.82 139.76,120.66 139.09,120.84 C138.41,121.02 137.84,121.46 137.13,121.79 C136.43,122.13 135.55,122.55 134.87,122.85 C134.18,123.15 133.64,123.37 133.03,123.61 C132.41,123.85 131.78,124.09 131.19,124.28 C130.60,124.46 130.03,124.56 129.49,124.73 C128.95,124.90 128.25,126.17 127.95,125.31 C127.65,124.44 127.82,121.45 127.70,119.55 C127.59,117.65 127.38,115.85 127.25,113.92 C127.12,111.98 126.49,109.01 126.92,107.94Z" fill="none" stroke="#000" stroke-opacity="0.60" stroke-width="0.45"/>
<path d="M127.21,109.00 C127.61,108.09 128.95,108.78 129.82,108.67 C130.70,108.57 131.56,108.52 132.47,108.36 C133.37,108.20 134.30,107.81 135.26,107.72 C136.21,107.64 137.21,107.79 138.20,107.84 C139.19,107.89 140.20,108.02 141.20,108.02 C142.20,108.02 143.49,107.77 144.22,107.84 C144.94,107.91 145.03,108.27 145.54,108.43 C146.04,108.59 146.77,108.67 147.23,108.78 C147.70,108.89 148.05,108.86 148.34,109.08 C148.62,109.30 148.70,109.78 148.95,110.09 C149.19,110.40 149.56,110.59 149.81,110.94 C150.07,111.29 150.41,111.77 150.45,112.19 C150.49,112.61 150.12,112.96 150.04,113.46 C149.95,113.96 149.99,114.71 149.97,115.19 C149.94,115.67 150.15,116.05 149.87,116.37 C149.60,116.68 148.75,116.85 148.33,117.10 C147.90,117.35 147.72,117.60 147.32,117.86 C146.92,118.12 146.51,118.42 145.90,118.64 C145.29,118.85 144.44,118.95 143.64,119.14 C142.84,119.34 141.88,119.64 141.09,119.82 C140.30,120.00 139.59,120.01 138.91,120.22 C138.23,120.43 137.71,120.86 137.01,121.09 C136.30,121.32 135.39,121.38 134.68,121.61 C133.97,121.83 133.28,122.18 132.73,122.44 C132.17,122.70 131.90,122.99 131.34,123.17 C130.79,123.35 129.92,123.34 129.40,123.53 C128.88,123.72 128.52,125.05 128.25,124.31 C127.98,123.57 127.93,120.80 127.78,119.10 C127.64,117.40 127.49,115.79 127.40,114.11 C127.30,112.43 126.81,109.90 127.21,109.00Z" fill="none" stroke="#000" stroke-opacity="0.50" stroke-width="0.45"/>
<path d="M127.44,109.83 C127.81,109.03 129.08,109.36 129.93,109.21 C130.77,109.06 131.57,109.01 132.48,108.93 C133.39,108.86 134.45,108.81 135.37,108.75 C136.29,108.69 137.06,108.58 138.02,108.57 C138.98,108.56 140.10,108.67 141.13,108.68 C142.16,108.69 143.48,108.62 144.20,108.63 C144.92,108.65 145.01,108.68 145.45,108.77 C145.88,108.87 146.40,109.08 146.80,109.21 C147.21,109.34 147.53,109.38 147.85,109.56 C148.17,109.74 148.56,109.98 148.74,110.28 C148.92,110.59 148.79,111.11 148.91,111.42 C149.03,111.73 149.38,111.82 149.47,112.15 C149.56,112.48 149.46,112.97 149.43,113.41 C149.41,113.85 149.35,114.31 149.33,114.78 C149.32,115.26 149.61,115.92 149.36,116.24 C149.12,116.56 148.25,116.49 147.85,116.70 C147.46,116.90 147.34,117.24 147.01,117.46 C146.68,117.67 146.45,117.85 145.87,117.99 C145.29,118.14 144.32,118.17 143.52,118.33 C142.71,118.49 141.80,118.77 141.04,118.95 C140.27,119.14 139.63,119.30 138.93,119.46 C138.24,119.62 137.52,119.69 136.84,119.90 C136.16,120.12 135.54,120.52 134.86,120.77 C134.17,121.03 133.38,121.23 132.74,121.43 C132.09,121.62 131.54,121.81 130.99,121.95 C130.45,122.10 129.94,122.14 129.47,122.30 C129.00,122.46 128.39,123.54 128.17,122.91 C127.96,122.28 128.26,120.02 128.18,118.54 C128.10,117.06 127.80,115.46 127.68,114.01 C127.56,112.56 127.06,110.63 127.44,109.83Z" fill="none" stroke="#000" stroke-opacity="0.45" stroke-width="0.45"/>
<path d="M127.61,110.46 C127.92,109.75 128.98,110.14 129.84,110.04 C130.71,109.94 131.89,109.96 132.80,109.88 C133.71,109.81 134.40,109.68 135.30,109.60 C136.20,109.51 137.25,109.41 138.22,109.37 C139.19,109.33 140.11,109.34 141.11,109.35 C142.10,109.37 143.46,109.38 144.18,109.46 C144.91,109.53 145.07,109.69 145.45,109.78 C145.82,109.88 146.07,110.00 146.43,110.03 C146.79,110.06 147.36,109.81 147.59,109.95 C147.83,110.10 147.69,110.63 147.86,110.90 C148.03,111.17 148.43,111.32 148.61,111.56 C148.79,111.79 148.90,112.05 148.95,112.33 C149.00,112.61 148.94,112.87 148.88,113.25 C148.83,113.64 148.70,114.28 148.62,114.65 C148.55,115.02 148.64,115.25 148.43,115.46 C148.22,115.68 147.69,115.75 147.37,115.96 C147.05,116.17 146.81,116.51 146.51,116.71 C146.20,116.90 146.07,116.97 145.53,117.12 C144.98,117.27 143.97,117.46 143.24,117.62 C142.52,117.78 141.95,117.91 141.17,118.06 C140.39,118.21 139.28,118.35 138.56,118.52 C137.84,118.70 137.52,118.88 136.84,119.10 C136.16,119.31 135.14,119.62 134.46,119.81 C133.78,120.00 133.37,120.10 132.75,120.25 C132.14,120.39 131.32,120.49 130.77,120.69 C130.22,120.89 129.83,121.24 129.44,121.44 C129.05,121.64 128.65,122.48 128.42,121.89 C128.18,121.30 128.10,119.18 128.03,117.92 C127.97,116.65 128.10,115.56 128.03,114.31 C127.96,113.07 127.31,111.17 127.61,110.46Z" fill="none" stroke="#000" stroke-opacity="0.45" stroke-width="0.45"/>
<path d="M127.92,111.43 C128.24,110.85 129.23,111.06 130.03,110.92 C130.83,110.77 131.82,110.67 132.73,110.58 C133.64,110.49 134.53,110.40 135.48,110.36 C136.42,110.32 137.43,110.37 138.40,110.34 C139.36,110.31 140.32,110.18 141.27,110.16 C142.23,110.14 143.47,110.18 144.15,110.22 C144.83,110.27 145.06,110.39 145.37,110.44 C145.69,110.48 145.74,110.47 146.04,110.50 C146.34,110.52 146.96,110.49 147.17,110.59 C147.37,110.70 147.19,110.90 147.26,111.13 C147.34,111.36 147.52,111.73 147.63,111.98 C147.75,112.23 147.89,112.38 147.96,112.61 C148.02,112.84 148.00,113.09 148.00,113.36 C148.01,113.63 148.00,113.94 147.98,114.24 C147.97,114.53 148.08,114.89 147.92,115.12 C147.76,115.35 147.30,115.46 147.01,115.61 C146.73,115.76 146.43,115.88 146.20,116.03 C145.97,116.18 146.13,116.35 145.63,116.49 C145.12,116.63 143.94,116.77 143.19,116.88 C142.43,116.99 141.89,117.04 141.11,117.15 C140.32,117.27 139.22,117.44 138.48,117.58 C137.75,117.72 137.41,117.80 136.71,117.98 C136.02,118.17 135.00,118.45 134.31,118.68 C133.61,118.91 133.13,119.15 132.53,119.36 C131.93,119.56 131.27,119.75 130.72,119.89 C130.17,120.04 129.64,120.15 129.24,120.22 C128.84,120.28 128.50,120.77 128.32,120.27 C128.14,119.78 128.19,118.23 128.16,117.25 C128.13,116.27 128.17,115.39 128.13,114.42 C128.09,113.45 127.61,112.01 127.92,111.43Z" fill="none" stroke="#000" stroke-opacity="0.42" stroke-width="0.45"/>
<path d="M128.07,112.38 C128.35,111.94 129.37,111.92 130.15,111.81 C130.93,111.70 131.81,111.82 132.74,111.71 C133.67,111.60 134.78,111.23 135.70,111.15 C136.63,111.06 137.37,111.22 138.31,111.21 C139.25,111.21 140.34,111.18 141.36,111.11 C142.38,111.05 143.79,110.81 144.43,110.80 C145.07,110.78 144.96,110.97 145.20,111.00 C145.45,111.03 145.66,110.96 145.92,110.97 C146.18,110.98 146.59,110.96 146.76,111.04 C146.94,111.13 146.89,111.32 146.96,111.49 C147.03,111.67 147.09,111.94 147.19,112.09 C147.29,112.25 147.52,112.23 147.55,112.42 C147.57,112.61 147.38,112.95 147.36,113.23 C147.34,113.51 147.45,113.90 147.43,114.11 C147.42,114.32 147.41,114.37 147.25,114.49 C147.10,114.61 146.71,114.73 146.50,114.84 C146.29,114.95 146.18,115.01 145.97,115.16 C145.77,115.30 145.74,115.58 145.28,115.70 C144.82,115.82 143.93,115.80 143.22,115.88 C142.51,115.97 141.80,116.11 141.01,116.23 C140.22,116.34 139.23,116.39 138.49,116.58 C137.75,116.77 137.27,117.15 136.57,117.35 C135.87,117.56 134.97,117.67 134.29,117.79 C133.60,117.92 133.08,117.97 132.46,118.10 C131.84,118.23 131.07,118.46 130.57,118.57 C130.06,118.69 129.74,118.69 129.42,118.80 C129.11,118.91 128.84,119.56 128.67,119.24 C128.51,118.92 128.48,117.70 128.45,116.90 C128.42,116.09 128.55,115.17 128.49,114.42 C128.42,113.66 127.80,112.81 128.07,112.38Z" fill="none" stroke="#000" stroke-opacity="0.60" stroke-width="0.45" stroke-dasharray="0.7 0.45"/>
<path d="M128.59,112.98 C128.94,112.73 129.71,113.01 130.42,112.95 C131.13,112.89 131.95,112.77 132.85,112.62 C133.75,112.47 134.91,112.20 135.84,112.06 C136.77,111.91 137.43,111.85 138.41,111.75 C139.39,111.65 140.70,111.55 141.75,111.47 C142.79,111.39 144.09,111.31 144.68,111.29 C145.27,111.27 145.14,111.29 145.28,111.36 C145.42,111.42 145.41,111.65 145.52,111.70 C145.63,111.75 145.80,111.60 145.96,111.68 C146.11,111.75 146.36,112.00 146.47,112.15 C146.59,112.30 146.64,112.51 146.65,112.59 C146.65,112.66 146.48,112.50 146.49,112.61 C146.51,112.73 146.77,113.09 146.75,113.26 C146.73,113.44 146.45,113.52 146.40,113.66 C146.35,113.79 146.51,114.01 146.43,114.09 C146.36,114.18 146.05,114.09 145.96,114.16 C145.87,114.23 145.98,114.43 145.90,114.51 C145.81,114.60 145.90,114.59 145.43,114.67 C144.96,114.75 143.85,114.89 143.06,115.01 C142.26,115.13 141.45,115.26 140.68,115.38 C139.91,115.50 139.14,115.57 138.43,115.72 C137.72,115.87 137.12,116.13 136.40,116.28 C135.68,116.43 134.80,116.47 134.10,116.64 C133.40,116.81 132.81,117.17 132.20,117.29 C131.59,117.40 130.91,117.24 130.43,117.35 C129.96,117.45 129.64,117.82 129.37,117.91 C129.10,117.99 128.96,118.13 128.81,117.85 C128.67,117.57 128.57,116.77 128.50,116.21 C128.42,115.65 128.34,115.03 128.36,114.49 C128.38,113.95 128.25,113.24 128.59,112.98Z" fill="none" stroke="#000" stroke-opacity="0.52" stroke-width="0.45" stroke-dasharray="0.7 0.45"/>
<path d="M117.00,109.00 C117.45,107.97 118.33,107.22 119.50,106.80 C120.67,106.38 122.67,106.38 124.00,106.50 C125.33,106.62 126.90,106.58 127.50,107.50 C128.10,108.42 127.80,110.08 127.60,112.00 C127.40,113.92 126.60,116.50 126.30,119.00 C126.00,121.50 125.82,124.33 125.80,127.00 C125.78,129.67 126.20,132.67 126.20,135.00 C126.20,137.33 126.42,139.62 125.80,141.00 C125.18,142.38 123.63,143.05 122.50,143.30 C121.37,143.55 119.82,143.72 119.00,142.50 C118.18,141.28 117.77,138.42 117.60,136.00 C117.43,133.58 118.05,130.67 118.00,128.00 C117.95,125.33 117.50,122.50 117.30,120.00 C117.10,117.50 116.85,114.83 116.80,113.00 C116.75,111.17 116.55,110.03 117.00,109.00Z" fill="#d4d4d4" fill-opacity="1" stroke="none"/>
<path d="M122.3 121.4h0.7v0.7h-0.7zM124.0 126.9h0.7v0.7h-0.7zM119.1 125.1h0.7v0.7h-0.7zM120.5 107.4h0.7v0.7h-0.7zM123.6 132.3h0.7v0.7h-0.7zM124.2 142.2h0.7v0.7h-0.7zM119.4 138.9h0.7v0.7h-0.7zM117.7 111.1h0.7v0.7h-0.7zM120.7 119.6h0.7v0.7h-0.7zM119.9 126.9h0.7v0.7h-0.7zM120.7 106.5h0.7v0.7h-0.7zM122.7 142.3h0.7v0.7h-0.7zM126.6 110.7h0.7v0.7h-0.7zM118.5 126.7h0.7v0.7h-0.7zM117.3 120.4h0.7v0.7h-0.7zM117.8 113.2h0.7v0.7h-0.7zM124.7 110.6h0.7v0.7h-0.7zM121.1 127.7h0.7v0.7h-0.7zM122.2 132.1h0.7v0.7h-0.7zM121.2 131.5h0.7v0.7h-0.7zM119.8 114.3h0.7v0.7h-0.7zM124.7 134.0h0.7v0.7h-0.7zM118.7 116.2h0.7v0.7h-0.7zM122.0 118.2h0.7v0.7h-0.7zM118.4 136.7h0.7v0.7h-0.7zM119.5 126.7h0.7v0.7h-0.7zM126.0 107.8h0.7v0.7h-0.7zM123.3 112.2h0.7v0.7h-0.7z" fill="#777"/>
<path d="M119.4 118.0h0.7v0.7h-0.7zM126.1 131.7h0.7v0.7h-0.7zM126.3 136.6h0.7v0.7h-0.7zM122.8 117.6h0.7v0.7h-0.7zM119.7 122.9h0.7v0.7h-0.7zM119.3 127.4h0.7v0.7h-0.7zM122.1 125.6h0.7v0.7h-0.7zM117.7 113.8h0.7v0.7h-0.7zM124.7 124.4h0.7v0.7h-0.7zM118.7 142.1h0.7v0.7h-0.7zM124.9 105.2h0.7v0.7h-0.7zM118.7 108.9h0.7v0.7h-0.7zM118.7 108.5h0.7v0.7h-0.7zM118.1 116.6h0.7v0.7h-0.7zM121.4 132.3h0.7v0.7h-0.7zM124.1 113.4h0.7v0.7h-0.7zM123.4 126.7h0.7v0.7h-0.7zM123.1 117.0h0.7v0.7h-0.7zM121.2 138.7h0.7v0.7h-0.7zM120.5 131.7h0.7v0.7h-0.7zM119.9 115.4h0.7v0.7h-0.7zM121.8 111.5h0.7v0.7h-0.7zM122.6 114.5h0.7v0.7h-0.7zM118.1 115.5h0.7v0.7h-0.7zM121.3 130.1h0.7v0.7h-0.7zM119.7 140.9h0.7v0.7h-0.7zM123.3 136.6h0.7v0.7h-0.7z" fill="#555"/>
<path d="M121.0 117.7h0.7v0.7h-0.7zM120.8 111.0h0.7v0.7h-0.7zM121.1 127.4h0.7v0.7h-0.7zM121.9 131.0h0.7v0.7h-0.7zM122.3 128.8h0.7v0.7h-0.7zM119.1 130.3h0.7v0.7h-0.7zM124.3 111.0h0.7v0.7h-0.7zM120.6 139.8h0.7v0.7h-0.7zM121.7 108.4h0.7v0.7h-0.7zM123.7 126.0h0.7v0.7h-0.7zM119.3 115.6h0.7v0.7h-0.7zM126.5 113.0h0.7v0.7h-0.7zM125.6 142.1h0.7v0.7h-0.7zM120.2 107.7h0.7v0.7h-0.7zM120.8 126.1h0.7v0.7h-0.7zM125.7 109.2h0.7v0.7h-0.7zM118.4 107.5h0.7v0.7h-0.7zM124.2 134.8h0.7v0.7h-0.7zM122.9 136.0h0.7v0.7h-0.7zM123.1 105.5h0.7v0.7h-0.7zM117.3 135.3h0.7v0.7h-0.7zM122.9 125.5h0.7v0.7h-0.7zM116.7 113.7h0.7v0.7h-0.7zM119.7 133.6h0.7v0.7h-0.7zM126.7 107.2h0.7v0.7h-0.7zM126.5 107.8h0.7v0.7h-0.7zM124.7 122.7h0.7v0.7h-0.7zM120.9 106.2h0.7v0.7h-0.7zM119.7 118.9h0.7v0.7h-0.7zM116.9 118.3h0.7v0.7h-0.7zM125.9 134.1h0.7v0.7h-0.7zM125.6 128.9h0.7v0.7h-0.7zM120.2 138.9h0.7v0.7h-0.7zM126.7 109.6h0.7v0.7h-0.7zM126.0 118.7h0.7v0.7h-0.7z" fill="#888"/>
<path d="M124.5 134.4h0.7v0.7h-0.7zM122.5 124.1h0.7v0.7h-0.7zM125.3 119.6h0.7v0.7h-0.7zM122.5 137.8h0.7v0.7h-0.7zM121.6 124.2h0.7v0.7h-0.7zM125.3 110.9h0.7v0.7h-0.7zM120.6 125.9h0.7v0.7h-0.7zM123.1 107.2h0.7v0.7h-0.7zM123.5 115.2h0.7v0.7h-0.7zM120.9 128.3h0.7v0.7h-0.7zM123.2 107.4h0.7v0.7h-0.7zM122.8 135.1h0.7v0.7h-0.7zM124.4 117.3h0.7v0.7h-0.7zM126.5 115.2h0.7v0.7h-0.7zM121.1 134.3h0.7v0.7h-0.7zM126.5 109.9h0.7v0.7h-0.7zM118.4 142.2h0.7v0.7h-0.7zM125.8 126.5h0.7v0.7h-0.7zM118.1 107.1h0.7v0.7h-0.7zM126.3 111.0h0.7v0.7h-0.7zM118.6 110.9h0.7v0.7h-0.7zM118.7 123.9h0.7v0.7h-0.7zM123.2 121.6h0.7v0.7h-0.7zM120.7 131.7h0.7v0.7h-0.7zM122.3 119.7h0.7v0.7h-0.7zM119.6 127.3h0.7v0.7h-0.7zM122.1 136.9h0.7v0.7h-0.7zM124.5 114.1h0.7v0.7h-0.7zM124.2 113.6h0.7v0.7h-0.7zM128.0 106.5h0.7v0.7h-0.7z" fill="#666"/>
<path d="M117.18,108.96 C117.40,108.39 117.84,108.08 118.21,107.74 C118.58,107.39 118.80,107.10 119.40,106.89 C120.00,106.69 121.06,106.60 121.82,106.51 C122.58,106.42 123.30,106.29 123.94,106.36 C124.57,106.42 125.05,106.67 125.63,106.89 C126.21,107.11 127.08,107.19 127.43,107.69 C127.79,108.19 127.72,109.15 127.75,109.87 C127.78,110.58 127.71,111.03 127.59,112.00 C127.48,112.97 127.26,114.49 127.06,115.66 C126.86,116.84 126.59,117.82 126.40,119.05 C126.21,120.29 126.01,121.71 125.93,123.05 C125.85,124.39 125.95,125.78 125.94,127.11 C125.92,128.45 125.80,129.80 125.84,131.09 C125.87,132.38 126.08,133.70 126.14,134.86 C126.20,136.03 126.23,137.07 126.19,138.07 C126.15,139.07 126.22,140.14 125.90,140.85 C125.58,141.56 124.82,141.90 124.28,142.32 C123.74,142.75 123.23,143.28 122.66,143.40 C122.10,143.51 121.49,143.17 120.88,143.02 C120.28,142.87 119.44,143.08 119.04,142.47 C118.63,141.86 118.64,140.46 118.43,139.36 C118.22,138.27 117.82,137.14 117.75,135.92 C117.67,134.69 117.91,133.36 117.98,132.01 C118.06,130.67 118.20,129.16 118.18,127.85 C118.15,126.53 118.00,125.40 117.84,124.11 C117.67,122.83 117.35,121.42 117.20,120.14 C117.05,118.85 117.01,117.59 116.94,116.38 C116.87,115.17 116.79,113.76 116.78,112.89 C116.78,112.03 116.83,111.82 116.90,111.16 C116.96,110.51 116.96,109.54 117.18,108.96Z" fill="none" stroke="#000" stroke-opacity="0.75" stroke-width="0.45"/>
<path d="M117.61,109.32 C117.83,108.86 118.22,108.71 118.60,108.39 C118.97,108.06 119.31,107.56 119.86,107.38 C120.41,107.20 121.26,107.39 121.90,107.30 C122.53,107.22 123.10,106.82 123.66,106.87 C124.23,106.93 124.79,107.43 125.30,107.61 C125.81,107.80 126.44,107.56 126.72,107.96 C126.99,108.36 126.97,109.34 126.96,110.02 C126.95,110.69 126.81,111.11 126.67,112.00 C126.53,112.89 126.24,114.19 126.11,115.35 C125.97,116.51 125.95,117.70 125.86,118.97 C125.77,120.25 125.66,121.67 125.56,122.99 C125.46,124.31 125.26,125.53 125.24,126.89 C125.22,128.25 125.35,129.80 125.43,131.14 C125.51,132.48 125.73,133.79 125.71,134.92 C125.70,136.05 125.38,136.94 125.33,137.91 C125.28,138.88 125.63,140.07 125.40,140.74 C125.17,141.40 124.46,141.54 123.93,141.89 C123.41,142.25 122.80,142.75 122.26,142.86 C121.72,142.97 121.20,142.71 120.69,142.56 C120.18,142.42 119.51,142.55 119.21,141.99 C118.91,141.42 119.11,140.14 118.90,139.16 C118.70,138.19 118.09,137.32 117.99,136.15 C117.89,134.98 118.25,133.51 118.32,132.15 C118.38,130.79 118.40,129.35 118.40,128.00 C118.40,126.64 118.38,125.35 118.31,124.00 C118.25,122.64 118.11,121.14 118.01,119.87 C117.91,118.60 117.83,117.54 117.72,116.36 C117.62,115.18 117.44,113.66 117.38,112.79 C117.31,111.93 117.28,111.76 117.32,111.18 C117.36,110.60 117.40,109.79 117.61,109.32Z" fill="none" stroke="#000" stroke-opacity="0.65" stroke-width="0.45"/>
<path d="M118.06,109.60 C118.20,109.19 118.64,108.88 118.93,108.58 C119.22,108.29 119.34,107.98 119.82,107.83 C120.30,107.68 121.25,107.71 121.83,107.70 C122.42,107.69 122.84,107.70 123.35,107.75 C123.86,107.81 124.46,107.92 124.89,108.03 C125.31,108.13 125.69,108.02 125.89,108.39 C126.09,108.76 126.04,109.62 126.08,110.23 C126.11,110.85 126.14,111.21 126.08,112.08 C126.02,112.95 125.86,114.30 125.71,115.46 C125.56,116.63 125.27,117.83 125.18,119.08 C125.09,120.34 125.22,121.66 125.15,123.01 C125.08,124.36 124.81,125.85 124.75,127.20 C124.70,128.56 124.72,129.84 124.79,131.14 C124.87,132.45 125.18,133.87 125.21,135.03 C125.24,136.20 125.00,137.18 124.97,138.11 C124.93,139.04 125.21,140.10 125.00,140.61 C124.78,141.13 124.14,140.96 123.69,141.21 C123.23,141.46 122.68,141.97 122.26,142.12 C121.84,142.27 121.64,142.19 121.18,142.12 C120.73,142.05 119.87,142.21 119.53,141.70 C119.19,141.18 119.33,139.94 119.17,139.01 C119.01,138.07 118.62,137.27 118.56,136.09 C118.50,134.90 118.73,133.27 118.80,131.90 C118.87,130.54 119.02,129.23 118.99,127.91 C118.96,126.58 118.70,125.27 118.63,123.96 C118.55,122.65 118.58,121.28 118.52,120.05 C118.46,118.82 118.36,117.70 118.25,116.56 C118.15,115.41 117.91,114.09 117.89,113.17 C117.86,112.26 118.06,111.67 118.09,111.08 C118.12,110.48 117.92,110.02 118.06,109.60Z" fill="none" stroke="#000" stroke-opacity="0.60" stroke-width="0.45"/>
<path d="M118.53,109.58 C118.71,109.27 119.15,109.37 119.45,109.15 C119.75,108.92 119.99,108.40 120.34,108.25 C120.68,108.10 121.03,108.27 121.52,108.22 C122.00,108.18 122.78,107.97 123.25,107.98 C123.72,108.00 123.98,108.21 124.32,108.31 C124.65,108.41 125.10,108.27 125.26,108.58 C125.43,108.89 125.24,109.55 125.29,110.15 C125.35,110.76 125.66,111.33 125.59,112.21 C125.53,113.09 125.02,114.33 124.88,115.44 C124.74,116.56 124.86,117.64 124.78,118.90 C124.70,120.16 124.49,121.66 124.39,122.99 C124.28,124.33 124.15,125.59 124.16,126.92 C124.16,128.25 124.31,129.64 124.41,130.97 C124.52,132.30 124.79,133.72 124.79,134.92 C124.78,136.13 124.44,137.26 124.37,138.18 C124.29,139.09 124.51,139.92 124.34,140.41 C124.17,140.91 123.72,140.93 123.36,141.13 C123.00,141.33 122.53,141.55 122.17,141.61 C121.82,141.67 121.59,141.53 121.23,141.48 C120.87,141.43 120.29,141.71 120.03,141.31 C119.77,140.91 119.83,139.93 119.66,139.07 C119.50,138.21 119.12,137.35 119.05,136.15 C118.97,134.96 119.17,133.28 119.22,131.90 C119.28,130.52 119.38,129.24 119.38,127.89 C119.37,126.54 119.26,125.11 119.19,123.80 C119.13,122.49 119.07,121.20 118.98,120.01 C118.88,118.82 118.71,117.85 118.61,116.66 C118.52,115.47 118.44,113.82 118.41,112.88 C118.37,111.94 118.36,111.57 118.38,111.02 C118.40,110.47 118.35,109.90 118.53,109.58Z" fill="none" stroke="#000" stroke-opacity="0.60" stroke-width="0.45"/>
<path d="M119.26,110.03 C119.39,109.81 119.60,109.73 119.78,109.51 C119.95,109.30 119.99,108.84 120.30,108.74 C120.62,108.64 121.26,108.93 121.69,108.92 C122.11,108.92 122.50,108.74 122.85,108.74 C123.21,108.73 123.50,108.79 123.82,108.88 C124.14,108.97 124.67,109.04 124.80,109.28 C124.92,109.52 124.58,109.86 124.58,110.31 C124.58,110.76 124.86,111.08 124.80,111.97 C124.74,112.87 124.36,114.50 124.23,115.68 C124.11,116.85 124.09,117.78 124.05,119.03 C124.01,120.28 124.06,121.86 124.00,123.18 C123.93,124.50 123.71,125.66 123.67,126.96 C123.63,128.26 123.70,129.62 123.77,130.99 C123.84,132.36 124.02,133.99 124.07,135.16 C124.11,136.34 124.08,137.24 124.05,138.05 C124.01,138.87 124.03,139.62 123.84,140.07 C123.66,140.52 123.19,140.56 122.93,140.78 C122.67,140.99 122.58,141.32 122.28,141.37 C121.98,141.42 121.42,141.19 121.11,141.10 C120.81,141.00 120.61,141.12 120.45,140.82 C120.28,140.52 120.26,140.08 120.14,139.29 C120.01,138.50 119.76,137.30 119.70,136.11 C119.63,134.91 119.76,133.47 119.74,132.13 C119.73,130.79 119.64,129.41 119.62,128.06 C119.60,126.71 119.70,125.40 119.65,124.02 C119.59,122.65 119.34,121.04 119.27,119.80 C119.21,118.57 119.30,117.76 119.26,116.61 C119.21,115.45 119.02,113.82 118.98,112.86 C118.93,111.90 118.95,111.31 119.00,110.84 C119.05,110.37 119.13,110.25 119.26,110.03Z" fill="none" stroke="#000" stroke-opacity="0.55" stroke-width="0.45"/>
<path d="M119.77,110.39 C119.89,110.19 120.15,109.91 120.32,109.70 C120.49,109.50 120.54,109.23 120.78,109.15 C121.02,109.06 121.48,109.17 121.74,109.19 C121.99,109.21 122.08,109.23 122.30,109.25 C122.52,109.27 122.82,109.26 123.06,109.31 C123.29,109.36 123.58,109.36 123.72,109.58 C123.87,109.80 123.94,110.19 123.94,110.62 C123.95,111.05 123.83,111.37 123.76,112.17 C123.70,112.97 123.59,114.29 123.55,115.42 C123.51,116.56 123.56,117.69 123.52,118.97 C123.49,120.24 123.38,121.69 123.33,123.06 C123.28,124.42 123.21,125.79 123.21,127.14 C123.21,128.50 123.24,129.85 123.31,131.16 C123.39,132.48 123.66,133.88 123.66,135.04 C123.65,136.21 123.36,137.35 123.29,138.14 C123.21,138.93 123.31,139.48 123.21,139.80 C123.12,140.13 122.89,139.92 122.71,140.09 C122.53,140.25 122.35,140.74 122.13,140.81 C121.92,140.88 121.66,140.58 121.41,140.52 C121.17,140.46 120.87,140.65 120.68,140.44 C120.50,140.22 120.35,139.97 120.29,139.25 C120.23,138.52 120.29,137.32 120.30,136.09 C120.31,134.87 120.32,133.29 120.34,131.91 C120.36,130.52 120.45,129.15 120.40,127.80 C120.35,126.46 120.13,125.12 120.03,123.83 C119.94,122.53 119.89,121.27 119.86,120.05 C119.83,118.82 119.89,117.65 119.84,116.45 C119.79,115.25 119.61,113.77 119.57,112.85 C119.53,111.92 119.59,111.32 119.62,110.91 C119.65,110.50 119.65,110.59 119.77,110.39Z" fill="none" stroke="#000" stroke-opacity="0.50" stroke-width="0.45"/>
<path d="M120.12,110.53 C120.16,110.36 120.48,110.21 120.60,110.11 C120.71,110.00 120.68,109.98 120.82,109.91 C120.96,109.84 121.21,109.70 121.45,109.69 C121.68,109.67 121.99,109.77 122.22,109.82 C122.46,109.87 122.69,109.92 122.88,109.98 C123.07,110.04 123.29,110.06 123.36,110.19 C123.43,110.31 123.34,110.45 123.28,110.74 C123.23,111.03 123.11,111.10 123.04,111.93 C122.97,112.75 122.87,114.49 122.87,115.69 C122.86,116.88 123.01,117.87 122.99,119.09 C122.98,120.30 122.82,121.64 122.77,122.98 C122.72,124.31 122.64,125.75 122.69,127.08 C122.75,128.41 123.09,129.65 123.11,130.96 C123.13,132.26 122.85,133.70 122.82,134.90 C122.79,136.11 122.87,137.42 122.91,138.19 C122.95,138.97 123.14,139.29 123.04,139.54 C122.94,139.80 122.50,139.60 122.30,139.72 C122.10,139.85 121.99,140.22 121.86,140.31 C121.72,140.41 121.61,140.32 121.49,140.29 C121.38,140.25 121.29,140.28 121.18,140.10 C121.07,139.92 120.93,139.91 120.81,139.20 C120.69,138.48 120.48,137.02 120.45,135.81 C120.43,134.61 120.64,133.30 120.65,131.97 C120.66,130.65 120.59,129.18 120.53,127.87 C120.48,126.57 120.34,125.42 120.33,124.13 C120.32,122.84 120.45,121.43 120.48,120.14 C120.50,118.86 120.52,117.64 120.49,116.44 C120.46,115.24 120.32,113.80 120.29,112.92 C120.27,112.03 120.37,111.53 120.34,111.14 C120.31,110.74 120.07,110.71 120.12,110.53Z" fill="none" stroke="#000" stroke-opacity="0.45" stroke-width="0.45"/>
<rect x="116.20" y="149.40" width="0.7" height="1.2" fill="#333"/>
<rect x="115.12" y="149.40" width="0.7" height="1.2" fill="#333"/>
<rect x="116.93" y="149.40" width="0.7" height="1.2" fill="#333"/>
<rect x="120.27" y="149.40" width="0.7" height="1.2" fill="#333"/>
<rect x="118.41" y="149.40" width="0.7" height="1.2" fill="#333"/>
<rect x="115.08" y="149.40" width="0.7" height="1.2" fill="#333"/>
<rect x="122.47" y="149.40" width="0.7" height="1.2" fill="#333"/>
<rect x="122.07" y="149.40" width="0.7" height="1.2" fill="#333"/>
<rect x="119.17" y="149.40" width="0.7" height="1.2" fill="#333"/>
<rect x="115.39" y="149.40" width="0.7" height="1.2" fill="#333"/>
<rect x="123.00" y="149.40" width="0.7" height="1.2" fill="#333"/>
<rect x="119.81" y="149.40" width="0.7" height="1.2" fill="#333"/>
<rect x="115.64" y="149.40" width="0.7" height="1.2" fill="#333"/>
<rect x="117.91" y="149.40" width="0.7" height="1.2" fill="#333"/>
<path d="M192.2 106.3h0.7v0.7h-0.7zM207.9 135.4h0.7v0.7h-0.7zM194.8 112.2h0.7v0.7h-0.7zM204.7 109.2h0.7v0.7h-0.7zM203.1 115.5h0.7v0.7h-0.7zM217.9 120.3h0.7v0.7h-0.7zM199.7 108.6h0.7v0.7h-0.7zM225.6 120.3h0.7v0.7h-0.7zM196.1 116.9h0.7v0.7h-0.7zM204.4 114.2h0.7v0.7h-0.7zM213.2 117.7h0.7v0.7h-0.7zM203.9 112.1h0.7v0.7h-0.7z" fill="#777"/>
<path d="M209.6 100.8h0.7v0.7h-0.7zM208.0 107.6h0.7v0.7h-0.7zM213.5 102.0h0.7v0.7h-0.7zM196.0 108.2h0.7v0.7h-0.7zM207.9 115.9h0.7v0.7h-0.7zM207.2 114.3h0.7v0.7h-0.7zM211.8 101.7h0.7v0.7h-0.7zM209.2 118.9h0.7v0.7h-0.7zM210.2 108.4h0.7v0.7h-0.7zM218.4 105.4h0.7v0.7h-0.7zM210.9 118.1h0.7v0.7h-0.7zM221.1 111.5h0.7v0.7h-0.7zM223.3 110.1h0.7v0.7h-0.7zM198.9 121.3h0.7v0.7h-0.7zM197.3 98.5h0.7v0.7h-0.7zM202.8 113.5h0.7v0.7h-0.7zM204.6 109.7h0.7v0.7h-0.7zM209.4 120.4h0.7v0.7h-0.7zM204.1 111.6h0.7v0.7h-0.7zM205.4 108.2h0.7v0.7h-0.7zM203.4 121.4h0.7v0.7h-0.7zM191.8 122.4h0.7v0.7h-0.7zM203.1 112.3h0.7v0.7h-0.7zM209.2 115.4h0.7v0.7h-0.7zM204.0 123.8h0.7v0.7h-0.7zM209.8 120.8h0.7v0.7h-0.7z" fill="#aaa"/>
<path d="M210.3 115.5h0.7v0.7h-0.7zM210.9 114.3h0.7v0.7h-0.7zM204.1 116.3h0.7v0.7h-0.7zM193.3 126.8h0.7v0.7h-0.7zM208.0 135.5h0.7v0.7h-0.7zM187.6 129.0h0.7v0.7h-0.7zM214.0 131.4h0.7v0.7h-0.7zM206.0 118.6h0.7v0.7h-0.7zM211.0 130.1h0.7v0.7h-0.7zM205.1 114.9h0.7v0.7h-0.7zM199.0 114.7h0.7v0.7h-0.7zM200.0 105.5h0.7v0.7h-0.7zM218.6 113.2h0.7v0.7h-0.7zM217.1 115.0h0.7v0.7h-0.7zM216.7 119.4h0.7v0.7h-0.7zM207.1 111.6h0.7v0.7h-0.7zM224.2 118.1h0.7v0.7h-0.7zM211.3 117.1h0.7v0.7h-0.7zM194.8 125.6h0.7v0.7h-0.7zM208.2 116.3h0.7v0.7h-0.7zM226.5 119.5h0.7v0.7h-0.7z" fill="#999"/>
<path d="M217.1 115.1h0.7v0.7h-0.7zM207.5 115.6h0.7v0.7h-0.7zM200.4 113.3h0.7v0.7h-0.7zM193.1 117.8h0.7v0.7h-0.7zM193.5 97.8h0.7v0.7h-0.7zM207.4 113.5h0.7v0.7h-0.7zM208.1 115.5h0.7v0.7h-0.7zM193.8 102.7h0.7v0.7h-0.7zM220.7 108.9h0.7v0.7h-0.7zM213.5 126.3h0.7v0.7h-0.7zM207.7 135.9h0.7v0.7h-0.7zM198.2 109.4h0.7v0.7h-0.7zM204.5 106.6h0.7v0.7h-0.7zM215.0 127.8h0.7v0.7h-0.7zM196.2 125.8h0.7v0.7h-0.7z" fill="#bbb"/>
<path d="M192.6 104.3h0.7v0.7h-0.7zM219.4 116.5h0.7v0.7h-0.7zM213.8 121.4h0.7v0.7h-0.7zM206.9 124.8h0.7v0.7h-0.7zM219.4 118.8h0.7v0.7h-0.7zM209.5 134.6h0.7v0.7h-0.7zM208.4 119.8h0.7v0.7h-0.7zM202.5 114.8h0.7v0.7h-0.7zM207.1 112.0h0.7v0.7h-0.7zM209.0 121.3h0.7v0.7h-0.7zM214.2 111.2h0.7v0.7h-0.7zM212.4 121.4h0.7v0.7h-0.7zM203.9 116.6h0.7v0.7h-0.7z" fill="#888"/>
<path d="M193.00,108.00 C194.28,106.10 197.17,106.87 200.00,106.60 C202.83,106.33 206.83,106.37 210.00,106.40 C213.17,106.43 216.78,106.28 219.00,106.80 C221.22,107.32 222.63,108.30 223.30,109.50 C223.97,110.70 223.72,112.50 223.00,114.00 C222.28,115.50 220.83,117.00 219.00,118.50 C217.17,120.00 214.33,121.42 212.00,123.00 C209.67,124.58 207.08,126.42 205.00,128.00 C202.92,129.58 201.08,131.75 199.50,132.50 C197.92,133.25 196.67,133.25 195.50,132.50 C194.33,131.75 193.03,130.42 192.50,128.00 C191.97,125.58 192.22,121.33 192.30,118.00 C192.38,114.67 191.72,109.90 193.00,108.00Z" fill="#e9e9e9" fill-opacity="1" stroke="none"/>
<path d="M222.1 115.6h0.7v0.7h-0.7zM207.3 111.7h0.7v0.7h-0.7zM197.5 112.0h0.7v0.7h-0.7zM199.2 118.9h0.7v0.7h-0.7zM196.6 128.1h0.7v0.7h-0.7zM217.3 112.8h0.7v0.7h-0.7zM219.9 117.3h0.7v0.7h-0.7zM203.9 114.1h0.7v0.7h-0.7zM212.5 117.1h0.7v0.7h-0.7zM220.2 108.9h0.7v0.7h-0.7zM196.4 115.0h0.7v0.7h-0.7zM217.7 108.4h0.7v0.7h-0.7zM208.6 114.2h0.7v0.7h-0.7zM205.8 107.7h0.7v0.7h-0.7zM201.9 128.3h0.7v0.7h-0.7zM192.0 124.3h0.7v0.7h-0.7zM220.2 109.6h0.7v0.7h-0.7zM212.8 107.1h0.7v0.7h-0.7zM222.6 114.3h0.7v0.7h-0.7zM210.3 108.7h0.7v0.7h-0.7zM210.1 118.5h0.7v0.7h-0.7zM194.9 127.6h0.7v0.7h-0.7zM211.3 116.2h0.7v0.7h-0.7zM198.3 106.5h0.7v0.7h-0.7zM195.2 118.5h0.7v0.7h-0.7zM194.4 107.7h0.7v0.7h-0.7zM197.2 111.8h0.7v0.7h-0.7zM206.1 109.7h0.7v0.7h-0.7zM207.0 113.4h0.7v0.7h-0.7zM212.6 118.6h0.7v0.7h-0.7zM205.9 113.4h0.7v0.7h-0.7zM220.7 115.4h0.7v0.7h-0.7zM195.4 112.8h0.7v0.7h-0.7zM193.8 128.0h0.7v0.7h-0.7zM212.9 118.0h0.7v0.7h-0.7zM196.7 123.5h0.7v0.7h-0.7zM205.1 124.2h0.7v0.7h-0.7zM223.9 111.6h0.7v0.7h-0.7zM214.0 114.6h0.7v0.7h-0.7z" fill="#666"/>
<path d="M215.1 109.6h0.7v0.7h-0.7zM199.4 130.3h0.7v0.7h-0.7zM193.6 111.1h0.7v0.7h-0.7zM203.3 118.7h0.7v0.7h-0.7zM212.1 108.5h0.7v0.7h-0.7zM214.5 118.8h0.7v0.7h-0.7zM213.2 109.6h0.7v0.7h-0.7zM196.3 127.9h0.7v0.7h-0.7zM197.9 118.7h0.7v0.7h-0.7zM199.0 132.2h0.7v0.7h-0.7zM213.4 106.5h0.7v0.7h-0.7zM224.1 109.5h0.7v0.7h-0.7zM213.0 121.9h0.7v0.7h-0.7zM197.9 107.9h0.7v0.7h-0.7zM210.2 110.8h0.7v0.7h-0.7zM211.9 118.8h0.7v0.7h-0.7zM204.4 109.0h0.7v0.7h-0.7zM223.0 111.2h0.7v0.7h-0.7zM200.2 127.5h0.7v0.7h-0.7zM218.9 117.4h0.7v0.7h-0.7zM198.3 114.4h0.7v0.7h-0.7zM217.4 114.3h0.7v0.7h-0.7zM201.9 113.9h0.7v0.7h-0.7zM214.5 120.5h0.7v0.7h-0.7zM204.2 127.9h0.7v0.7h-0.7zM201.8 125.8h0.7v0.7h-0.7zM199.1 115.3h0.7v0.7h-0.7zM222.6 114.8h0.7v0.7h-0.7zM218.2 113.1h0.7v0.7h-0.7zM202.8 129.0h0.7v0.7h-0.7zM215.5 114.4h0.7v0.7h-0.7zM198.4 115.8h0.7v0.7h-0.7zM201.1 119.9h0.7v0.7h-0.7zM221.9 111.4h0.7v0.7h-0.7zM205.4 122.3h0.7v0.7h-0.7zM207.9 112.2h0.7v0.7h-0.7zM222.5 109.8h0.7v0.7h-0.7zM213.7 116.8h0.7v0.7h-0.7zM215.6 109.7h0.7v0.7h-0.7zM199.0 107.4h0.7v0.7h-0.7zM197.4 109.3h0.7v0.7h-0.7zM205.7 116.5h0.7v0.7h-0.7zM208.3 106.0h0.7v0.7h-0.7zM204.0 124.0h0.7v0.7h-0.7zM201.9 116.1h0.7v0.7h-0.7z" fill="#aaa"/>
<path d="M203.7 110.4h0.7v0.7h-0.7zM197.0 126.7h0.7v0.7h-0.7zM218.8 112.3h0.7v0.7h-0.7zM207.0 119.2h0.7v0.7h-0.7zM206.6 125.3h0.7v0.7h-0.7zM208.2 114.5h0.7v0.7h-0.7zM213.2 115.7h0.7v0.7h-0.7zM212.8 119.9h0.7v0.7h-0.7zM216.7 112.4h0.7v0.7h-0.7zM196.1 112.4h0.7v0.7h-0.7zM194.7 117.8h0.7v0.7h-0.7zM200.0 128.4h0.7v0.7h-0.7zM201.8 128.1h0.7v0.7h-0.7zM212.7 110.3h0.7v0.7h-0.7zM200.5 107.7h0.7v0.7h-0.7zM220.1 115.0h0.7v0.7h-0.7zM200.2 113.1h0.7v0.7h-0.7zM214.9 112.1h0.7v0.7h-0.7zM208.6 114.9h0.7v0.7h-0.7zM206.6 111.2h0.7v0.7h-0.7zM207.1 114.3h0.7v0.7h-0.7zM213.9 106.8h0.7v0.7h-0.7zM204.4 108.4h0.7v0.7h-0.7zM213.4 120.4h0.7v0.7h-0.7zM206.5 121.0h0.7v0.7h-0.7zM216.2 112.5h0.7v0.7h-0.7zM209.1 115.0h0.7v0.7h-0.7zM215.3 115.7h0.7v0.7h-0.7zM194.9 114.8h0.7v0.7h-0.7zM193.8 118.1h0.7v0.7h-0.7zM196.7 123.3h0.7v0.7h-0.7zM220.9 110.3h0.7v0.7h-0.7zM196.3 123.1h0.7v0.7h-0.7zM208.3 118.7h0.7v0.7h-0.7zM196.7 123.7h0.7v0.7h-0.7zM200.9 109.6h0.7v0.7h-0.7zM192.3 111.1h0.7v0.7h-0.7zM195.6 132.4h0.7v0.7h-0.7zM219.5 116.4h0.7v0.7h-0.7zM206.1 119.1h0.7v0.7h-0.7zM192.0 117.9h0.7v0.7h-0.7zM208.2 109.9h0.7v0.7h-0.7z" fill="#999"/>
<path d="M198.9 111.1h0.7v0.7h-0.7zM204.8 119.1h0.7v0.7h-0.7zM209.6 107.8h0.7v0.7h-0.7zM208.7 112.4h0.7v0.7h-0.7zM201.5 114.4h0.7v0.7h-0.7zM213.5 111.6h0.7v0.7h-0.7zM200.5 117.2h0.7v0.7h-0.7zM220.4 107.4h0.7v0.7h-0.7zM193.9 126.5h0.7v0.7h-0.7zM207.1 124.4h0.7v0.7h-0.7zM206.7 114.7h0.7v0.7h-0.7zM204.6 109.5h0.7v0.7h-0.7zM195.7 111.9h0.7v0.7h-0.7zM218.8 108.2h0.7v0.7h-0.7zM200.2 125.3h0.7v0.7h-0.7zM202.7 119.3h0.7v0.7h-0.7zM210.0 109.6h0.7v0.7h-0.7zM192.6 125.7h0.7v0.7h-0.7zM208.3 110.0h0.7v0.7h-0.7zM194.5 131.1h0.7v0.7h-0.7zM202.7 120.1h0.7v0.7h-0.7zM218.7 110.5h0.7v0.7h-0.7zM204.4 111.4h0.7v0.7h-0.7zM192.5 119.9h0.7v0.7h-0.7zM203.9 108.8h0.7v0.7h-0.7zM205.8 114.2h0.7v0.7h-0.7zM206.9 118.5h0.7v0.7h-0.7zM216.1 106.1h0.7v0.7h-0.7zM211.3 112.2h0.7v0.7h-0.7zM221.0 110.4h0.7v0.7h-0.7zM209.1 112.2h0.7v0.7h-0.7zM199.1 110.6h0.7v0.7h-0.7zM202.5 126.8h0.7v0.7h-0.7zM201.5 110.3h0.7v0.7h-0.7zM201.9 119.7h0.7v0.7h-0.7zM198.0 122.1h0.7v0.7h-0.7zM209.5 116.9h0.7v0.7h-0.7zM221.6 108.3h0.7v0.7h-0.7zM195.2 110.3h0.7v0.7h-0.7zM198.0 115.6h0.7v0.7h-0.7zM197.3 110.8h0.7v0.7h-0.7zM200.1 122.6h0.7v0.7h-0.7z" fill="#888"/>
<path d="M219.9 107.2h0.7v0.7h-0.7zM219.5 108.8h0.7v0.7h-0.7zM194.3 113.1h0.7v0.7h-0.7zM217.1 109.4h0.7v0.7h-0.7zM192.6 123.6h0.7v0.7h-0.7zM206.5 125.7h0.7v0.7h-0.7zM198.7 106.8h0.7v0.7h-0.7zM213.7 106.2h0.7v0.7h-0.7zM192.6 110.7h0.7v0.7h-0.7zM206.4 121.2h0.7v0.7h-0.7zM205.4 108.0h0.7v0.7h-0.7zM222.7 113.2h0.7v0.7h-0.7zM210.6 118.1h0.7v0.7h-0.7zM203.7 125.2h0.7v0.7h-0.7zM196.0 117.0h0.7v0.7h-0.7zM212.6 118.7h0.7v0.7h-0.7zM203.2 125.1h0.7v0.7h-0.7zM202.9 113.8h0.7v0.7h-0.7zM196.5 127.6h0.7v0.7h-0.7zM199.1 108.4h0.7v0.7h-0.7zM222.0 111.7h0.7v0.7h-0.7zM199.4 112.9h0.7v0.7h-0.7zM208.3 111.6h0.7v0.7h-0.7zM195.9 107.5h0.7v0.7h-0.7zM195.0 107.7h0.7v0.7h-0.7zM198.8 114.5h0.7v0.7h-0.7zM211.7 108.7h0.7v0.7h-0.7zM221.2 109.4h0.7v0.7h-0.7zM200.0 126.1h0.7v0.7h-0.7zM211.3 113.7h0.7v0.7h-0.7zM201.4 122.8h0.7v0.7h-0.7zM199.8 123.8h0.7v0.7h-0.7zM203.6 122.7h0.7v0.7h-0.7zM215.7 111.3h0.7v0.7h-0.7zM212.4 114.4h0.7v0.7h-0.7zM205.7 125.5h0.7v0.7h-0.7zM217.7 111.8h0.7v0.7h-0.7zM214.8 111.7h0.7v0.7h-0.7zM214.7 113.3h0.7v0.7h-0.7zM213.6 109.7h0.7v0.7h-0.7zM219.9 115.6h0.7v0.7h-0.7zM204.7 115.5h0.7v0.7h-0.7zM202.5 125.1h0.7v0.7h-0.7zM209.4 107.0h0.7v0.7h-0.7zM203.1 123.1h0.7v0.7h-0.7zM217.4 114.7h0.7v0.7h-0.7zM200.1 116.0h0.7v0.7h-0.7zM201.0 119.4h0.7v0.7h-0.7zM205.7 111.1h0.7v0.7h-0.7zM213.7 106.7h0.7v0.7h-0.7zM211.2 115.1h0.7v0.7h-0.7zM196.2 110.6h0.7v0.7h-0.7z" fill="#777"/>
<path d="M193.03,108.02 C193.68,107.08 195.49,107.68 196.68,107.44 C197.88,107.21 198.79,106.78 200.20,106.60 C201.60,106.41 203.50,106.38 205.13,106.32 C206.76,106.26 208.42,106.20 209.97,106.23 C211.53,106.27 212.96,106.41 214.47,106.52 C215.97,106.63 217.92,106.60 219.00,106.88 C220.08,107.16 220.26,107.76 220.95,108.19 C221.64,108.61 222.76,108.85 223.15,109.45 C223.54,110.05 223.33,111.01 223.30,111.79 C223.27,112.58 223.34,113.44 222.97,114.15 C222.61,114.87 221.79,115.37 221.12,116.08 C220.46,116.80 219.95,117.65 218.98,118.45 C218.01,119.25 216.49,120.15 215.31,120.88 C214.14,121.61 213.07,122.04 211.92,122.83 C210.77,123.61 209.58,124.75 208.40,125.61 C207.23,126.48 205.91,127.23 204.88,128.00 C203.86,128.78 203.13,129.50 202.25,130.26 C201.37,131.02 200.39,132.22 199.61,132.58 C198.83,132.94 198.23,132.44 197.56,132.41 C196.88,132.39 196.14,132.77 195.56,132.43 C194.98,132.08 194.55,131.10 194.07,130.33 C193.59,129.56 192.94,129.02 192.68,127.82 C192.43,126.62 192.61,124.75 192.53,123.12 C192.46,121.49 192.17,119.71 192.22,118.04 C192.26,116.37 192.66,114.77 192.80,113.09 C192.93,111.42 192.38,108.96 193.03,108.02Z" fill="none" stroke="#000" stroke-opacity="0.45" stroke-width="0.45"/>
<path d="M193.74,109.06 C194.35,108.28 195.88,108.81 196.96,108.59 C198.04,108.37 198.84,107.94 200.22,107.71 C201.60,107.49 203.60,107.32 205.24,107.25 C206.88,107.18 208.52,107.30 210.05,107.29 C211.58,107.27 213.08,107.12 214.44,107.17 C215.80,107.23 217.30,107.38 218.20,107.61 C219.10,107.84 219.21,108.17 219.84,108.54 C220.47,108.90 221.65,109.28 221.99,109.82 C222.34,110.36 221.96,111.13 221.91,111.77 C221.86,112.42 222.02,113.09 221.70,113.71 C221.39,114.33 220.63,114.83 220.02,115.49 C219.40,116.15 218.86,117.00 218.03,117.68 C217.19,118.37 216.12,118.97 215.03,119.60 C213.94,120.23 212.67,120.76 211.48,121.45 C210.29,122.13 208.99,122.94 207.86,123.71 C206.73,124.48 205.68,125.35 204.68,126.07 C203.68,126.79 202.80,127.34 201.87,128.03 C200.94,128.73 199.81,129.90 199.10,130.24 C198.39,130.58 198.19,130.09 197.62,130.07 C197.05,130.06 196.22,130.51 195.68,130.18 C195.13,129.85 194.78,128.71 194.35,128.08 C193.91,127.45 193.30,127.39 193.08,126.38 C192.87,125.37 193.08,123.49 193.04,122.03 C193.00,120.57 192.80,119.08 192.84,117.62 C192.87,116.16 193.12,114.70 193.27,113.27 C193.42,111.84 193.12,109.84 193.74,109.06Z" fill="none" stroke="#000" stroke-opacity="0.60" stroke-width="0.45" stroke-dasharray="0.7 0.45"/>
<path d="M194.05,110.40 C194.64,109.74 196.22,109.99 197.31,109.75 C198.41,109.52 199.24,109.25 200.61,108.99 C201.99,108.74 203.92,108.36 205.55,108.22 C207.19,108.08 209.02,108.18 210.43,108.13 C211.84,108.08 212.89,107.92 214.01,107.91 C215.13,107.90 216.37,107.84 217.16,108.07 C217.94,108.30 218.17,108.96 218.71,109.28 C219.26,109.59 220.16,109.57 220.42,109.97 C220.67,110.38 220.30,111.14 220.24,111.71 C220.18,112.28 220.33,112.88 220.07,113.41 C219.81,113.94 219.12,114.38 218.69,114.90 C218.26,115.42 218.16,115.96 217.50,116.52 C216.84,117.08 215.75,117.67 214.72,118.28 C213.70,118.89 212.55,119.49 211.36,120.17 C210.16,120.85 208.82,121.65 207.56,122.37 C206.31,123.09 204.90,123.87 203.84,124.49 C202.77,125.10 202.03,125.49 201.17,126.04 C200.31,126.58 199.32,127.44 198.68,127.76 C198.03,128.08 197.72,127.94 197.28,127.96 C196.83,127.99 196.42,128.22 196.00,127.91 C195.59,127.61 195.21,126.69 194.81,126.14 C194.41,125.60 193.76,125.48 193.59,124.65 C193.41,123.81 193.77,122.37 193.75,121.14 C193.74,119.91 193.51,118.53 193.51,117.28 C193.52,116.04 193.69,114.83 193.78,113.68 C193.87,112.53 193.46,111.05 194.05,110.40Z" fill="none" stroke="#000" stroke-opacity="0.57" stroke-width="0.45" stroke-dasharray="0.7 0.45"/>
<path d="M194.56,111.39 C195.05,110.82 196.44,110.92 197.53,110.65 C198.63,110.38 199.76,109.96 201.13,109.77 C202.49,109.57 204.11,109.65 205.71,109.48 C207.31,109.31 209.38,108.84 210.73,108.72 C212.08,108.60 212.85,108.75 213.81,108.74 C214.77,108.73 215.84,108.48 216.49,108.65 C217.15,108.81 217.32,109.49 217.76,109.75 C218.20,110.02 218.97,109.94 219.14,110.23 C219.31,110.52 218.82,111.02 218.77,111.49 C218.72,111.96 218.99,112.57 218.83,113.05 C218.68,113.52 218.22,113.87 217.82,114.32 C217.42,114.78 217.03,115.33 216.43,115.76 C215.83,116.19 215.15,116.44 214.22,116.91 C213.29,117.39 212.01,117.97 210.85,118.60 C209.69,119.23 208.47,120.06 207.24,120.70 C206.00,121.34 204.54,121.89 203.45,122.42 C202.35,122.96 201.54,123.44 200.68,123.94 C199.81,124.43 198.83,125.12 198.26,125.39 C197.69,125.67 197.62,125.56 197.26,125.58 C196.90,125.60 196.43,125.76 196.08,125.52 C195.74,125.27 195.46,124.55 195.21,124.12 C194.95,123.68 194.70,123.61 194.56,122.91 C194.41,122.21 194.42,120.91 194.35,119.93 C194.28,118.94 194.09,117.97 194.13,117.00 C194.18,116.03 194.53,115.05 194.60,114.11 C194.67,113.17 194.07,111.97 194.56,111.39Z" fill="none" stroke="#000" stroke-opacity="0.52" stroke-width="0.45" stroke-dasharray="0.7 0.45"/>
<path d="M195.16,112.51 C195.60,112.07 196.62,112.11 197.63,111.89 C198.64,111.66 199.81,111.43 201.23,111.14 C202.65,110.85 204.57,110.40 206.15,110.16 C207.73,109.91 209.50,109.76 210.72,109.65 C211.94,109.55 212.65,109.52 213.46,109.50 C214.27,109.48 215.04,109.45 215.58,109.54 C216.13,109.63 216.40,109.88 216.72,110.06 C217.04,110.24 217.41,110.32 217.50,110.61 C217.60,110.90 217.27,111.50 217.28,111.80 C217.30,112.10 217.69,112.14 217.60,112.42 C217.50,112.70 217.07,113.10 216.72,113.49 C216.36,113.87 215.92,114.42 215.46,114.75 C214.99,115.08 214.76,115.07 213.93,115.49 C213.10,115.91 211.70,116.74 210.47,117.28 C209.25,117.82 207.82,118.20 206.58,118.72 C205.34,119.25 204.11,119.88 203.02,120.43 C201.94,120.99 200.87,121.62 200.07,122.07 C199.26,122.52 198.65,122.90 198.17,123.13 C197.70,123.36 197.52,123.41 197.19,123.43 C196.86,123.46 196.41,123.45 196.18,123.27 C195.96,123.08 196.05,122.60 195.85,122.30 C195.66,122.01 195.15,122.00 195.02,121.48 C194.89,120.95 195.06,119.92 195.07,119.18 C195.08,118.43 195.07,117.78 195.06,117.00 C195.05,116.22 194.98,115.24 195.00,114.50 C195.02,113.75 194.73,112.94 195.16,112.51Z" fill="none" stroke="#000" stroke-opacity="0.49" stroke-width="0.45" stroke-dasharray="0.7 0.45"/>
<path d="M195.62,113.61 C196.07,113.22 197.23,113.17 198.21,112.91 C199.20,112.65 200.19,112.34 201.52,112.04 C202.86,111.74 204.62,111.42 206.21,111.11 C207.80,110.79 209.86,110.32 211.07,110.15 C212.27,109.99 212.80,110.15 213.44,110.11 C214.07,110.07 214.54,109.86 214.86,109.93 C215.19,110.00 215.22,110.36 215.41,110.51 C215.60,110.66 215.92,110.66 216.01,110.85 C216.09,111.03 215.96,111.44 215.94,111.64 C215.93,111.84 216.03,111.83 215.93,112.07 C215.84,112.30 215.58,112.83 215.37,113.06 C215.15,113.29 214.94,113.25 214.63,113.43 C214.32,113.62 214.30,113.78 213.51,114.17 C212.71,114.56 211.09,115.25 209.86,115.77 C208.63,116.30 207.39,116.84 206.13,117.31 C204.87,117.78 203.40,118.14 202.30,118.60 C201.20,119.06 200.31,119.71 199.55,120.07 C198.79,120.44 198.12,120.60 197.73,120.78 C197.33,120.95 197.41,121.11 197.19,121.11 C196.96,121.11 196.59,120.90 196.40,120.78 C196.22,120.65 196.23,120.56 196.07,120.34 C195.92,120.12 195.50,119.83 195.46,119.47 C195.42,119.12 195.77,118.65 195.81,118.19 C195.85,117.73 195.75,117.21 195.71,116.72 C195.66,116.22 195.54,115.74 195.52,115.22 C195.51,114.70 195.17,113.99 195.62,113.61Z" fill="none" stroke="#000" stroke-opacity="0.45" stroke-width="0.45" stroke-dasharray="0.7 0.45"/>
<path d="M219.17,112.73 C219.25,112.99 219.39,113.24 219.35,113.54 C219.31,113.84 219.07,114.28 218.93,114.55 C218.80,114.83 218.72,115.00 218.56,115.18 C218.40,115.37 218.22,115.52 217.99,115.66 C217.77,115.79 217.45,115.84 217.22,115.99 C216.98,116.14 216.89,116.40 216.58,116.57 C216.27,116.73 215.72,116.93 215.37,117.00 C215.01,117.07 214.83,116.95 214.45,116.98 C214.08,117.02 213.53,117.20 213.12,117.19 C212.71,117.18 212.32,116.99 212.00,116.94 C211.67,116.90 211.45,117.01 211.16,116.92 C210.87,116.83 210.48,116.55 210.27,116.41 C210.06,116.28 210.03,116.27 209.88,116.11 C209.73,115.95 209.48,115.71 209.36,115.48 C209.24,115.24 209.24,114.91 209.17,114.68 C209.09,114.45 208.94,114.32 208.91,114.07 C208.88,113.82 208.98,113.48 208.97,113.18 C208.96,112.88 208.77,112.52 208.86,112.26 C208.95,112.00 209.33,111.79 209.49,111.60 C209.65,111.41 209.59,111.29 209.81,111.14 C210.04,110.99 210.57,110.89 210.85,110.71 C211.13,110.53 211.26,110.19 211.50,110.06 C211.75,109.93 211.98,110.02 212.34,109.94 C212.69,109.85 213.27,109.60 213.65,109.54 C214.04,109.48 214.27,109.55 214.64,109.58 C215.02,109.61 215.56,109.65 215.89,109.72 C216.23,109.80 216.36,109.90 216.65,110.02 C216.94,110.14 217.39,110.32 217.65,110.46 C217.90,110.60 218.00,110.68 218.17,110.85 C218.34,111.02 218.55,111.29 218.66,111.48 C218.77,111.67 218.74,111.79 218.82,112.00 C218.90,112.21 219.08,112.48 219.17,112.73Z" fill="none" stroke="#000" stroke-opacity="0.55" stroke-width="0.45"/>
<path d="M218.71,113.00 C218.73,113.23 218.79,113.54 218.79,113.74 C218.78,113.95 218.81,114.08 218.69,114.25 C218.57,114.42 218.18,114.54 218.04,114.75 C217.91,114.95 217.99,115.31 217.87,115.47 C217.75,115.63 217.55,115.61 217.34,115.70 C217.12,115.79 216.89,115.94 216.57,116.02 C216.25,116.09 215.78,116.05 215.42,116.13 C215.06,116.20 214.77,116.40 214.41,116.46 C214.04,116.53 213.60,116.46 213.24,116.49 C212.87,116.53 212.48,116.71 212.20,116.66 C211.92,116.61 211.79,116.31 211.55,116.19 C211.31,116.07 211.02,116.05 210.79,115.96 C210.56,115.88 210.33,115.83 210.16,115.67 C209.99,115.52 209.91,115.23 209.76,115.02 C209.62,114.80 209.35,114.61 209.28,114.39 C209.22,114.16 209.40,113.90 209.38,113.69 C209.36,113.48 209.16,113.30 209.16,113.14 C209.16,112.97 209.27,112.93 209.36,112.72 C209.45,112.50 209.59,112.06 209.71,111.86 C209.82,111.66 209.85,111.66 210.05,111.52 C210.26,111.38 210.73,111.14 210.94,111.01 C211.16,110.89 211.10,110.88 211.35,110.76 C211.59,110.64 212.07,110.40 212.42,110.29 C212.78,110.18 213.10,110.12 213.48,110.09 C213.86,110.07 214.28,110.11 214.70,110.14 C215.11,110.18 215.66,110.25 215.95,110.30 C216.25,110.35 216.21,110.33 216.44,110.44 C216.67,110.55 217.07,110.81 217.33,110.97 C217.60,111.13 217.87,111.32 218.03,111.41 C218.19,111.50 218.18,111.37 218.29,111.53 C218.40,111.69 218.60,112.14 218.67,112.39 C218.74,112.63 218.69,112.78 218.71,113.00Z" fill="none" stroke="#000" stroke-opacity="0.70" stroke-width="0.45"/>
<path d="M218.14,112.94 C218.16,113.09 218.05,113.20 218.07,113.38 C218.09,113.55 218.27,113.80 218.23,114.00 C218.20,114.20 217.99,114.45 217.85,114.58 C217.71,114.72 217.52,114.69 217.38,114.84 C217.25,114.98 217.21,115.32 217.02,115.46 C216.84,115.59 216.53,115.54 216.29,115.62 C216.05,115.71 215.93,115.89 215.58,115.96 C215.24,116.02 214.62,115.98 214.24,116.00 C213.85,116.03 213.65,116.12 213.28,116.11 C212.91,116.10 212.31,116.00 211.99,115.94 C211.68,115.88 211.55,115.77 211.40,115.74 C211.25,115.70 211.29,115.84 211.10,115.73 C210.92,115.62 210.48,115.25 210.30,115.09 C210.12,114.94 210.07,114.93 210.01,114.80 C209.96,114.66 210.02,114.47 209.96,114.28 C209.90,114.10 209.66,113.86 209.64,113.68 C209.62,113.51 209.80,113.42 209.84,113.24 C209.87,113.06 209.82,112.76 209.87,112.61 C209.93,112.45 210.07,112.50 210.17,112.33 C210.27,112.16 210.34,111.75 210.50,111.61 C210.66,111.47 210.93,111.56 211.12,111.47 C211.32,111.37 211.41,111.12 211.65,111.04 C211.89,110.95 212.21,111.04 212.57,110.98 C212.92,110.92 213.41,110.68 213.80,110.69 C214.19,110.70 214.55,110.98 214.91,111.02 C215.27,111.07 215.65,110.91 215.94,110.94 C216.24,110.97 216.49,111.12 216.67,111.19 C216.85,111.26 216.87,111.35 217.02,111.39 C217.17,111.43 217.41,111.35 217.58,111.43 C217.76,111.50 218.03,111.67 218.08,111.84 C218.14,112.01 217.90,112.27 217.91,112.45 C217.92,112.64 218.11,112.79 218.14,112.94Z" fill="none" stroke="#000" stroke-opacity="0.60" stroke-width="0.45"/>
<path d="M217.78,113.26 C217.77,113.42 217.68,113.39 217.68,113.48 C217.68,113.57 217.81,113.69 217.77,113.80 C217.73,113.91 217.55,114.01 217.44,114.15 C217.33,114.30 217.22,114.55 217.09,114.67 C216.95,114.79 216.73,114.77 216.63,114.86 C216.52,114.95 216.64,115.14 216.45,115.20 C216.26,115.25 215.82,115.15 215.50,115.20 C215.17,115.25 214.85,115.41 214.49,115.47 C214.13,115.53 213.76,115.53 213.36,115.55 C212.96,115.58 212.39,115.68 212.11,115.60 C211.82,115.53 211.82,115.22 211.67,115.11 C211.52,115.00 211.37,115.03 211.21,114.94 C211.04,114.86 210.77,114.71 210.68,114.62 C210.59,114.54 210.74,114.47 210.65,114.42 C210.56,114.37 210.24,114.43 210.15,114.32 C210.05,114.20 210.07,113.91 210.08,113.72 C210.09,113.53 210.18,113.31 210.20,113.17 C210.22,113.04 210.14,113.01 210.18,112.92 C210.22,112.83 210.31,112.82 210.44,112.66 C210.57,112.50 210.83,112.07 210.96,111.97 C211.08,111.87 211.10,112.11 211.21,112.05 C211.32,111.99 211.43,111.69 211.62,111.60 C211.81,111.52 211.99,111.56 212.34,111.53 C212.70,111.49 213.37,111.44 213.73,111.39 C214.10,111.35 214.22,111.23 214.55,111.25 C214.88,111.27 215.41,111.45 215.72,111.51 C216.02,111.58 216.18,111.58 216.39,111.63 C216.60,111.67 216.81,111.72 216.97,111.76 C217.13,111.81 217.24,111.80 217.33,111.90 C217.42,112.00 217.45,112.25 217.52,112.36 C217.59,112.46 217.70,112.38 217.75,112.53 C217.79,112.68 217.79,113.10 217.78,113.26Z" fill="none" stroke="#000" stroke-opacity="0.60" stroke-width="0.45" stroke-dasharray="0.7 0.45"/>
<path d="M192.80,109.00 C193.23,107.83 194.42,107.50 195.00,108.00 C195.58,108.50 196.08,109.17 196.30,112.00 C196.52,114.83 196.38,121.83 196.30,125.00 C196.22,128.17 196.27,129.92 195.80,131.00 C195.33,132.08 194.03,132.50 193.50,131.50 C192.97,130.50 192.78,127.75 192.60,125.00 C192.42,122.25 192.37,117.67 192.40,115.00 C192.43,112.33 192.37,110.17 192.80,109.00Z" fill="#bdbdbd" fill-opacity="1" stroke="none"/>
<path d="M192.71,108.92 C192.93,108.35 193.38,108.81 193.78,108.69 C194.18,108.57 194.78,107.95 195.12,108.18 C195.45,108.41 195.57,109.44 195.78,110.07 C196.00,110.69 196.34,110.50 196.40,111.93 C196.46,113.36 196.17,116.46 196.15,118.64 C196.13,120.82 196.34,123.49 196.30,125.02 C196.26,126.55 195.97,126.86 195.92,127.82 C195.86,128.79 196.18,130.26 195.97,130.83 C195.77,131.41 195.10,131.17 194.70,131.29 C194.30,131.40 193.87,131.99 193.58,131.50 C193.28,131.02 193.10,129.43 192.91,128.37 C192.72,127.32 192.47,126.59 192.43,125.16 C192.39,123.74 192.68,121.52 192.68,119.81 C192.68,118.10 192.49,116.17 192.45,114.89 C192.41,113.61 192.39,113.13 192.43,112.13 C192.48,111.14 192.49,109.49 192.71,108.92Z" fill="none" stroke="#000" stroke-opacity="0.70" stroke-width="0.45"/>
<path d="M193.18,109.40 C193.30,108.91 193.61,109.15 193.90,109.05 C194.19,108.95 194.69,108.60 194.90,108.79 C195.12,108.98 195.01,109.70 195.19,110.20 C195.37,110.70 195.87,110.46 195.99,111.81 C196.11,113.16 195.93,116.11 195.91,118.32 C195.90,120.53 195.96,123.44 195.91,125.07 C195.85,126.70 195.66,127.21 195.56,128.09 C195.45,128.98 195.42,129.94 195.28,130.38 C195.15,130.82 195.00,130.64 194.77,130.73 C194.54,130.81 194.18,131.34 193.91,130.90 C193.65,130.45 193.35,129.07 193.19,128.07 C193.03,127.08 192.97,126.26 192.96,124.92 C192.96,123.59 193.17,121.71 193.15,120.06 C193.14,118.42 192.89,116.39 192.89,115.04 C192.90,113.69 193.16,112.89 193.20,111.95 C193.25,111.01 193.07,109.88 193.18,109.40Z" fill="none" stroke="#000" stroke-opacity="0.75" stroke-width="0.45"/>
<path d="M193.62,109.95 C193.77,109.57 194.06,109.98 194.27,109.88 C194.48,109.79 194.77,109.25 194.88,109.39 C194.99,109.52 194.85,110.27 194.93,110.68 C195.01,111.09 195.30,110.58 195.35,111.85 C195.41,113.13 195.30,116.13 195.27,118.32 C195.24,120.51 195.18,123.36 195.19,124.98 C195.20,126.59 195.37,127.15 195.34,127.98 C195.32,128.82 195.17,129.62 195.04,129.99 C194.91,130.37 194.74,130.17 194.57,130.23 C194.41,130.29 194.22,130.69 194.07,130.33 C193.92,129.98 193.78,128.98 193.69,128.11 C193.59,127.25 193.51,126.54 193.50,125.16 C193.49,123.79 193.62,121.56 193.62,119.86 C193.62,118.16 193.55,116.25 193.51,114.97 C193.46,113.69 193.36,113.02 193.37,112.19 C193.39,111.35 193.47,110.34 193.62,109.95Z" fill="none" stroke="#000" stroke-opacity="0.60" stroke-width="0.45"/>
<path d="M195.3,134.5 L196.8,134.6 L195.8,137.5" stroke="#333" stroke-width="0.45" fill="none"/>
<rect x="196.05" y="149.20" width="0.7" height="1.2" fill="#333"/>
<rect x="199.74" y="149.20" width="0.7" height="1.2" fill="#333"/>
<rect x="198.27" y="149.20" width="0.7" height="1.2" fill="#333"/>
<rect x="196.24" y="149.20" width="0.7" height="1.2" fill="#333"/>
<rect x="197.86" y="149.20" width="0.7" height="1.2" fill="#333"/>
<rect x="199.50" y="149.20" width="0.7" height="1.2" fill="#333"/>
<rect x="196.32" y="149.20" width="0.7" height="1.2" fill="#333"/>
<rect x="196.74" y="149.20" width="0.7" height="1.2" fill="#333"/>
<path d="M276.1 125.1h0.7v0.7h-0.7zM271.7 137.0h0.7v0.7h-0.7zM271.4 124.1h0.7v0.7h-0.7zM274.2 115.5h0.7v0.7h-0.7zM264.7 117.7h0.7v0.7h-0.7zM258.2 126.5h0.7v0.7h-0.7zM265.6 111.2h0.7v0.7h-0.7zM270.5 115.2h0.7v0.7h-0.7zM273.2 129.2h0.7v0.7h-0.7zM267.9 109.3h0.7v0.7h-0.7zM269.3 108.0h0.7v0.7h-0.7zM273.4 121.1h0.7v0.7h-0.7zM269.5 113.3h0.7v0.7h-0.7zM266.7 122.8h0.7v0.7h-0.7zM268.0 130.1h0.7v0.7h-0.7zM266.9 126.6h0.7v0.7h-0.7zM264.6 126.7h0.7v0.7h-0.7zM283.8 116.6h0.7v0.7h-0.7zM270.9 116.7h0.7v0.7h-0.7zM289.2 118.7h0.7v0.7h-0.7zM279.8 111.5h0.7v0.7h-0.7zM279.6 114.5h0.7v0.7h-0.7zM287.1 117.5h0.7v0.7h-0.7zM282.5 104.0h0.7v0.7h-0.7zM284.3 103.4h0.7v0.7h-0.7zM284.4 116.8h0.7v0.7h-0.7zM284.3 120.8h0.7v0.7h-0.7zM278.8 109.8h0.7v0.7h-0.7zM277.1 100.0h0.7v0.7h-0.7zM277.8 114.2h0.7v0.7h-0.7zM281.2 114.6h0.7v0.7h-0.7zM272.9 133.6h0.7v0.7h-0.7zM263.4 141.5h0.7v0.7h-0.7zM275.4 136.4h0.7v0.7h-0.7zM263.7 138.1h0.7v0.7h-0.7zM266.4 136.9h0.7v0.7h-0.7z" fill="#bbb"/>
<path d="M267.7 117.0h0.7v0.7h-0.7zM274.4 106.8h0.7v0.7h-0.7zM262.3 125.2h0.7v0.7h-0.7zM273.2 123.8h0.7v0.7h-0.7zM274.5 137.8h0.7v0.7h-0.7zM271.9 123.8h0.7v0.7h-0.7zM272.1 120.2h0.7v0.7h-0.7zM272.9 126.6h0.7v0.7h-0.7zM280.8 129.9h0.7v0.7h-0.7zM272.5 122.4h0.7v0.7h-0.7zM258.2 131.0h0.7v0.7h-0.7zM279.9 116.5h0.7v0.7h-0.7zM279.2 102.7h0.7v0.7h-0.7zM277.9 124.2h0.7v0.7h-0.7zM273.1 119.8h0.7v0.7h-0.7zM262.9 107.2h0.7v0.7h-0.7zM277.9 103.3h0.7v0.7h-0.7zM271.2 118.4h0.7v0.7h-0.7zM266.1 118.9h0.7v0.7h-0.7zM268.6 124.1h0.7v0.7h-0.7zM264.0 106.5h0.7v0.7h-0.7zM275.3 115.7h0.7v0.7h-0.7zM276.9 128.9h0.7v0.7h-0.7zM282.1 129.7h0.7v0.7h-0.7zM274.5 112.0h0.7v0.7h-0.7zM280.5 132.7h0.7v0.7h-0.7zM282.8 128.3h0.7v0.7h-0.7zM262.0 122.0h0.7v0.7h-0.7zM276.4 121.6h0.7v0.7h-0.7zM284.7 110.7h0.7v0.7h-0.7zM289.9 112.9h0.7v0.7h-0.7zM281.1 109.7h0.7v0.7h-0.7zM283.4 117.0h0.7v0.7h-0.7zM268.5 136.7h0.7v0.7h-0.7zM265.0 142.8h0.7v0.7h-0.7zM269.1 138.1h0.7v0.7h-0.7zM275.6 139.3h0.7v0.7h-0.7zM270.9 134.4h0.7v0.7h-0.7zM265.5 140.4h0.7v0.7h-0.7z" fill="#777"/>
<path d="M277.0 102.9h0.7v0.7h-0.7zM279.0 136.9h0.7v0.7h-0.7zM278.0 125.7h0.7v0.7h-0.7zM273.5 125.8h0.7v0.7h-0.7zM269.2 135.5h0.7v0.7h-0.7zM277.9 119.8h0.7v0.7h-0.7zM263.3 113.3h0.7v0.7h-0.7zM264.6 127.9h0.7v0.7h-0.7zM279.4 122.1h0.7v0.7h-0.7zM263.3 124.3h0.7v0.7h-0.7zM262.1 116.5h0.7v0.7h-0.7zM262.5 112.5h0.7v0.7h-0.7zM268.4 127.3h0.7v0.7h-0.7zM263.7 119.4h0.7v0.7h-0.7zM288.7 118.7h0.7v0.7h-0.7zM271.5 134.0h0.7v0.7h-0.7zM266.3 126.0h0.7v0.7h-0.7zM267.5 110.0h0.7v0.7h-0.7zM284.3 113.6h0.7v0.7h-0.7zM278.0 113.7h0.7v0.7h-0.7zM283.3 123.5h0.7v0.7h-0.7zM279.6 127.5h0.7v0.7h-0.7zM283.3 103.4h0.7v0.7h-0.7zM274.7 104.1h0.7v0.7h-0.7zM280.7 114.0h0.7v0.7h-0.7zM281.8 121.9h0.7v0.7h-0.7zM282.7 116.0h0.7v0.7h-0.7zM261.3 139.3h0.7v0.7h-0.7z" fill="#888"/>
<path d="M263.5 116.2h0.7v0.7h-0.7zM268.8 120.4h0.7v0.7h-0.7zM269.4 120.4h0.7v0.7h-0.7zM268.0 105.2h0.7v0.7h-0.7zM275.9 111.1h0.7v0.7h-0.7zM272.5 122.8h0.7v0.7h-0.7zM263.1 122.8h0.7v0.7h-0.7zM269.4 105.9h0.7v0.7h-0.7zM270.4 109.3h0.7v0.7h-0.7zM275.0 106.8h0.7v0.7h-0.7zM266.4 126.4h0.7v0.7h-0.7zM275.3 125.8h0.7v0.7h-0.7zM263.8 125.1h0.7v0.7h-0.7zM269.1 145.1h0.7v0.7h-0.7zM285.0 114.1h0.7v0.7h-0.7zM277.8 128.5h0.7v0.7h-0.7zM271.4 132.4h0.7v0.7h-0.7zM268.1 135.4h0.7v0.7h-0.7zM266.5 125.5h0.7v0.7h-0.7zM258.9 123.7h0.7v0.7h-0.7zM269.4 128.0h0.7v0.7h-0.7zM277.8 108.9h0.7v0.7h-0.7zM282.4 109.4h0.7v0.7h-0.7zM278.4 113.3h0.7v0.7h-0.7zM282.9 114.6h0.7v0.7h-0.7zM266.8 138.1h0.7v0.7h-0.7zM272.0 136.8h0.7v0.7h-0.7zM269.0 132.8h0.7v0.7h-0.7z" fill="#999"/>
<path d="M270.7 114.8h0.7v0.7h-0.7zM275.0 127.3h0.7v0.7h-0.7zM276.8 105.1h0.7v0.7h-0.7zM279.5 104.6h0.7v0.7h-0.7zM275.8 124.2h0.7v0.7h-0.7zM280.3 119.7h0.7v0.7h-0.7zM276.4 127.0h0.7v0.7h-0.7zM270.1 124.0h0.7v0.7h-0.7zM280.5 129.7h0.7v0.7h-0.7zM271.1 100.9h0.7v0.7h-0.7zM263.1 118.6h0.7v0.7h-0.7zM272.9 121.2h0.7v0.7h-0.7zM278.4 114.9h0.7v0.7h-0.7zM268.5 133.5h0.7v0.7h-0.7zM272.5 123.7h0.7v0.7h-0.7zM263.0 116.0h0.7v0.7h-0.7zM273.2 117.6h0.7v0.7h-0.7zM260.6 109.7h0.7v0.7h-0.7zM275.3 109.3h0.7v0.7h-0.7zM268.5 123.3h0.7v0.7h-0.7zM282.9 117.3h0.7v0.7h-0.7zM285.2 111.1h0.7v0.7h-0.7zM281.6 118.0h0.7v0.7h-0.7zM281.1 111.3h0.7v0.7h-0.7zM271.9 140.0h0.7v0.7h-0.7zM269.1 141.5h0.7v0.7h-0.7zM265.2 135.0h0.7v0.7h-0.7zM263.1 138.0h0.7v0.7h-0.7zM263.9 138.2h0.7v0.7h-0.7z" fill="#aaa"/>
<path d="M263.00,110.00 C263.97,108.47 266.00,109.00 268.00,108.80 C270.00,108.60 273.08,108.43 275.00,108.80 C276.92,109.17 278.67,109.13 279.50,111.00 C280.33,112.87 280.00,117.17 280.00,120.00 C280.00,122.83 280.00,126.00 279.50,128.00 C279.00,130.00 278.58,131.20 277.00,132.00 C275.42,132.80 272.17,132.72 270.00,132.80 C267.83,132.88 265.28,133.30 264.00,132.50 C262.72,131.70 262.60,130.42 262.30,128.00 C262.00,125.58 262.08,121.00 262.20,118.00 C262.32,115.00 262.03,111.53 263.00,110.00Z" fill="#e9e9e9" fill-opacity="1" stroke="none"/>
<path d="M262.2 130.8h0.7v0.7h-0.7zM278.9 114.1h0.7v0.7h-0.7zM270.5 110.3h0.7v0.7h-0.7zM273.4 116.3h0.7v0.7h-0.7zM269.8 130.9h0.7v0.7h-0.7zM277.7 127.3h0.7v0.7h-0.7zM274.7 130.0h0.7v0.7h-0.7zM270.1 128.9h0.7v0.7h-0.7zM279.7 119.5h0.7v0.7h-0.7zM266.4 110.3h0.7v0.7h-0.7zM275.0 124.5h0.7v0.7h-0.7zM270.1 119.9h0.7v0.7h-0.7zM264.7 114.3h0.7v0.7h-0.7zM266.0 124.1h0.7v0.7h-0.7zM271.1 115.5h0.7v0.7h-0.7zM280.4 125.3h0.7v0.7h-0.7zM265.9 128.9h0.7v0.7h-0.7zM272.6 127.5h0.7v0.7h-0.7zM271.1 119.1h0.7v0.7h-0.7zM273.8 119.3h0.7v0.7h-0.7zM274.4 113.0h0.7v0.7h-0.7zM280.2 115.6h0.7v0.7h-0.7zM279.7 115.1h0.7v0.7h-0.7zM271.1 117.3h0.7v0.7h-0.7zM275.0 113.9h0.7v0.7h-0.7zM277.2 115.5h0.7v0.7h-0.7zM262.9 130.3h0.7v0.7h-0.7zM275.1 126.8h0.7v0.7h-0.7zM266.7 108.4h0.7v0.7h-0.7zM266.1 108.3h0.7v0.7h-0.7zM270.3 124.7h0.7v0.7h-0.7zM263.2 130.1h0.7v0.7h-0.7zM274.0 128.2h0.7v0.7h-0.7zM262.6 113.9h0.7v0.7h-0.7zM266.4 115.4h0.7v0.7h-0.7zM274.4 120.1h0.7v0.7h-0.7zM273.3 129.9h0.7v0.7h-0.7zM264.7 115.7h0.7v0.7h-0.7zM266.5 119.2h0.7v0.7h-0.7z" fill="#666"/>
<path d="M266.7 131.9h0.7v0.7h-0.7zM265.9 129.4h0.7v0.7h-0.7zM280.3 124.0h0.7v0.7h-0.7zM277.0 113.9h0.7v0.7h-0.7zM266.2 121.2h0.7v0.7h-0.7zM280.0 111.6h0.7v0.7h-0.7zM264.5 129.8h0.7v0.7h-0.7zM267.7 109.5h0.7v0.7h-0.7zM272.7 110.8h0.7v0.7h-0.7zM278.9 112.4h0.7v0.7h-0.7zM264.9 126.2h0.7v0.7h-0.7zM275.8 131.9h0.7v0.7h-0.7zM277.1 121.9h0.7v0.7h-0.7zM278.4 118.4h0.7v0.7h-0.7zM278.5 109.4h0.7v0.7h-0.7zM278.2 124.4h0.7v0.7h-0.7zM270.0 118.9h0.7v0.7h-0.7zM269.8 133.7h0.7v0.7h-0.7zM266.7 121.7h0.7v0.7h-0.7zM269.7 108.1h0.7v0.7h-0.7zM265.7 117.5h0.7v0.7h-0.7zM268.6 125.1h0.7v0.7h-0.7zM272.7 119.4h0.7v0.7h-0.7zM275.6 108.6h0.7v0.7h-0.7zM262.9 116.2h0.7v0.7h-0.7zM273.6 115.0h0.7v0.7h-0.7zM280.6 114.6h0.7v0.7h-0.7zM264.9 129.1h0.7v0.7h-0.7zM276.2 111.1h0.7v0.7h-0.7zM261.6 119.3h0.7v0.7h-0.7zM269.4 124.5h0.7v0.7h-0.7zM268.0 121.0h0.7v0.7h-0.7zM266.2 122.9h0.7v0.7h-0.7zM274.7 120.6h0.7v0.7h-0.7zM271.4 111.5h0.7v0.7h-0.7zM261.7 120.6h0.7v0.7h-0.7zM276.0 108.7h0.7v0.7h-0.7zM263.8 121.5h0.7v0.7h-0.7zM269.3 111.2h0.7v0.7h-0.7zM264.8 128.1h0.7v0.7h-0.7zM277.0 111.1h0.7v0.7h-0.7zM267.5 110.9h0.7v0.7h-0.7zM264.9 110.0h0.7v0.7h-0.7zM264.1 125.6h0.7v0.7h-0.7zM274.2 123.1h0.7v0.7h-0.7zM263.8 118.8h0.7v0.7h-0.7zM268.4 117.9h0.7v0.7h-0.7zM275.5 118.0h0.7v0.7h-0.7zM265.9 125.3h0.7v0.7h-0.7zM266.3 126.0h0.7v0.7h-0.7zM263.6 123.3h0.7v0.7h-0.7zM269.6 113.3h0.7v0.7h-0.7zM272.5 116.2h0.7v0.7h-0.7zM269.1 127.6h0.7v0.7h-0.7z" fill="#777"/>
<path d="M279.2 122.5h0.7v0.7h-0.7zM267.3 131.4h0.7v0.7h-0.7zM275.1 132.6h0.7v0.7h-0.7zM264.2 126.3h0.7v0.7h-0.7zM273.4 111.3h0.7v0.7h-0.7zM266.6 120.6h0.7v0.7h-0.7zM277.7 125.6h0.7v0.7h-0.7zM263.9 115.6h0.7v0.7h-0.7zM271.3 111.4h0.7v0.7h-0.7zM278.3 129.4h0.7v0.7h-0.7zM278.7 114.0h0.7v0.7h-0.7zM276.3 115.7h0.7v0.7h-0.7zM264.5 109.5h0.7v0.7h-0.7zM263.1 125.2h0.7v0.7h-0.7zM263.8 119.6h0.7v0.7h-0.7zM267.3 124.0h0.7v0.7h-0.7zM268.7 110.9h0.7v0.7h-0.7zM278.4 118.5h0.7v0.7h-0.7zM275.6 126.0h0.7v0.7h-0.7zM273.7 117.2h0.7v0.7h-0.7zM265.7 115.7h0.7v0.7h-0.7zM272.3 113.1h0.7v0.7h-0.7zM269.3 109.6h0.7v0.7h-0.7zM264.7 113.1h0.7v0.7h-0.7zM274.1 113.5h0.7v0.7h-0.7zM268.7 133.6h0.7v0.7h-0.7zM273.0 113.1h0.7v0.7h-0.7zM280.7 118.1h0.7v0.7h-0.7zM268.1 125.0h0.7v0.7h-0.7zM262.2 116.7h0.7v0.7h-0.7zM271.4 131.0h0.7v0.7h-0.7zM265.2 122.0h0.7v0.7h-0.7zM268.4 109.7h0.7v0.7h-0.7zM269.6 133.3h0.7v0.7h-0.7zM269.5 109.1h0.7v0.7h-0.7zM271.1 123.0h0.7v0.7h-0.7zM266.8 109.8h0.7v0.7h-0.7zM272.7 111.5h0.7v0.7h-0.7zM272.6 118.7h0.7v0.7h-0.7zM264.8 110.8h0.7v0.7h-0.7zM263.9 126.0h0.7v0.7h-0.7zM269.6 114.2h0.7v0.7h-0.7zM267.8 132.5h0.7v0.7h-0.7zM267.7 123.6h0.7v0.7h-0.7zM273.8 116.6h0.7v0.7h-0.7zM264.4 117.2h0.7v0.7h-0.7z" fill="#999"/>
<path d="M276.3 114.0h0.7v0.7h-0.7zM263.4 116.8h0.7v0.7h-0.7zM263.6 118.1h0.7v0.7h-0.7zM276.7 121.6h0.7v0.7h-0.7zM266.8 127.1h0.7v0.7h-0.7zM269.9 119.3h0.7v0.7h-0.7zM270.7 133.0h0.7v0.7h-0.7zM268.7 129.5h0.7v0.7h-0.7zM274.3 122.6h0.7v0.7h-0.7zM276.6 131.1h0.7v0.7h-0.7zM271.1 122.7h0.7v0.7h-0.7zM267.0 125.8h0.7v0.7h-0.7zM271.0 112.4h0.7v0.7h-0.7zM263.2 116.8h0.7v0.7h-0.7zM263.6 127.4h0.7v0.7h-0.7zM265.7 113.6h0.7v0.7h-0.7zM273.2 110.2h0.7v0.7h-0.7zM268.6 109.1h0.7v0.7h-0.7zM269.7 133.5h0.7v0.7h-0.7zM266.7 110.7h0.7v0.7h-0.7zM274.8 119.7h0.7v0.7h-0.7zM273.1 110.2h0.7v0.7h-0.7zM277.6 112.5h0.7v0.7h-0.7zM266.6 108.7h0.7v0.7h-0.7zM270.4 113.1h0.7v0.7h-0.7zM271.4 133.7h0.7v0.7h-0.7zM264.0 110.0h0.7v0.7h-0.7zM270.8 130.8h0.7v0.7h-0.7zM276.2 115.6h0.7v0.7h-0.7zM270.0 110.7h0.7v0.7h-0.7zM272.8 119.2h0.7v0.7h-0.7zM266.2 132.3h0.7v0.7h-0.7zM270.1 116.1h0.7v0.7h-0.7zM264.6 112.7h0.7v0.7h-0.7zM278.5 126.7h0.7v0.7h-0.7z" fill="#888"/>
<path d="M264.8 122.3h0.7v0.7h-0.7zM265.6 132.4h0.7v0.7h-0.7zM273.7 129.6h0.7v0.7h-0.7zM272.0 111.2h0.7v0.7h-0.7zM274.5 110.8h0.7v0.7h-0.7zM266.1 128.4h0.7v0.7h-0.7zM278.6 129.7h0.7v0.7h-0.7zM279.4 125.0h0.7v0.7h-0.7zM269.4 111.0h0.7v0.7h-0.7zM272.0 118.8h0.7v0.7h-0.7zM277.2 109.1h0.7v0.7h-0.7zM268.8 131.9h0.7v0.7h-0.7zM268.4 111.3h0.7v0.7h-0.7zM276.3 109.3h0.7v0.7h-0.7zM267.9 113.7h0.7v0.7h-0.7zM276.6 126.6h0.7v0.7h-0.7zM267.2 126.7h0.7v0.7h-0.7zM272.3 120.2h0.7v0.7h-0.7zM272.0 117.8h0.7v0.7h-0.7zM270.5 131.1h0.7v0.7h-0.7zM270.6 107.6h0.7v0.7h-0.7zM272.6 112.2h0.7v0.7h-0.7zM276.9 114.5h0.7v0.7h-0.7zM261.8 129.7h0.7v0.7h-0.7zM266.8 121.1h0.7v0.7h-0.7zM264.0 117.2h0.7v0.7h-0.7zM276.5 126.7h0.7v0.7h-0.7zM269.6 124.0h0.7v0.7h-0.7zM272.3 120.1h0.7v0.7h-0.7zM279.2 114.0h0.7v0.7h-0.7zM263.8 113.3h0.7v0.7h-0.7zM270.5 132.2h0.7v0.7h-0.7zM276.7 113.1h0.7v0.7h-0.7zM263.3 128.3h0.7v0.7h-0.7zM277.1 119.8h0.7v0.7h-0.7zM269.9 123.3h0.7v0.7h-0.7zM266.6 120.4h0.7v0.7h-0.7zM276.5 112.0h0.7v0.7h-0.7zM272.2 113.1h0.7v0.7h-0.7zM265.4 110.4h0.7v0.7h-0.7zM266.9 119.9h0.7v0.7h-0.7zM277.0 130.4h0.7v0.7h-0.7zM264.2 133.5h0.7v0.7h-0.7zM266.3 123.1h0.7v0.7h-0.7zM270.1 126.8h0.7v0.7h-0.7zM269.7 131.9h0.7v0.7h-0.7z" fill="#aaa"/>
<path d="M262.87,110.17 C263.36,109.38 264.55,109.49 265.43,109.28 C266.32,109.08 267.21,108.98 268.19,108.93 C269.18,108.88 270.18,108.97 271.35,108.97 C272.52,108.96 274.22,108.77 275.20,108.93 C276.18,109.09 276.56,109.58 277.26,109.94 C277.95,110.29 278.91,110.11 279.35,111.06 C279.80,112.00 279.85,114.11 279.94,115.61 C280.04,117.11 279.92,118.69 279.91,120.07 C279.89,121.45 279.89,122.58 279.85,123.87 C279.81,125.17 279.98,126.83 279.68,127.84 C279.39,128.84 278.54,129.22 278.09,129.92 C277.65,130.62 277.73,131.60 277.00,132.04 C276.27,132.47 274.84,132.39 273.69,132.53 C272.55,132.67 271.22,132.88 270.11,132.87 C269.01,132.86 268.08,132.53 267.08,132.47 C266.08,132.41 264.74,132.89 264.10,132.53 C263.45,132.16 263.54,131.03 263.21,130.28 C262.88,129.53 262.25,129.27 262.11,128.03 C261.97,126.79 262.37,124.48 262.40,122.83 C262.42,121.18 262.24,119.62 262.25,118.15 C262.27,116.67 262.37,115.33 262.48,114.00 C262.58,112.67 262.38,110.95 262.87,110.17Z" fill="none" stroke="#000" stroke-opacity="0.60" stroke-width="0.45" stroke-dasharray="0.7 0.45"/>
<path d="M263.65,110.84 C264.04,110.26 264.99,110.52 265.66,110.37 C266.33,110.22 266.54,110.04 267.65,109.93 C268.76,109.82 271.07,109.71 272.33,109.70 C273.59,109.68 274.43,109.68 275.20,109.85 C275.97,110.02 276.34,110.41 276.96,110.72 C277.57,111.03 278.52,110.92 278.88,111.72 C279.24,112.52 279.06,114.17 279.13,115.54 C279.19,116.91 279.31,118.51 279.27,119.93 C279.24,121.35 278.99,122.68 278.89,124.04 C278.79,125.41 278.89,127.19 278.67,128.11 C278.46,129.04 277.91,129.05 277.59,129.59 C277.27,130.13 277.45,131.02 276.76,131.34 C276.07,131.66 274.55,131.39 273.44,131.52 C272.32,131.64 271.09,132.03 270.05,132.08 C269.01,132.13 268.12,131.88 267.18,131.82 C266.25,131.76 264.99,132.05 264.46,131.72 C263.93,131.40 264.25,130.50 264.00,129.87 C263.75,129.23 263.11,129.09 262.96,127.92 C262.80,126.74 263.04,124.49 263.08,122.82 C263.11,121.16 263.14,119.43 263.18,117.94 C263.22,116.45 263.26,115.05 263.33,113.87 C263.41,112.68 263.26,111.43 263.65,110.84Z" fill="none" stroke="#000" stroke-opacity="0.45" stroke-width="0.45"/>
<path d="M264.21,111.27 C264.56,110.83 265.41,111.32 265.92,111.19 C266.43,111.06 266.12,110.60 267.27,110.50 C268.42,110.40 271.47,110.54 272.81,110.59 C274.15,110.65 274.64,110.69 275.31,110.82 C275.97,110.95 276.37,111.14 276.81,111.38 C277.24,111.61 277.68,111.55 277.92,112.24 C278.17,112.93 278.22,114.24 278.28,115.52 C278.34,116.79 278.31,118.46 278.30,119.87 C278.28,121.28 278.26,122.64 278.20,123.98 C278.14,125.32 278.11,127.05 277.93,127.92 C277.75,128.79 277.38,128.78 277.11,129.21 C276.85,129.64 276.94,130.24 276.36,130.51 C275.77,130.78 274.67,130.74 273.62,130.83 C272.56,130.92 271.13,131.06 270.04,131.05 C268.96,131.05 267.91,130.84 267.10,130.81 C266.29,130.79 265.60,131.11 265.18,130.90 C264.76,130.70 264.78,130.07 264.59,129.59 C264.39,129.10 264.16,129.10 264.02,127.98 C263.88,126.86 263.77,124.58 263.75,122.87 C263.74,121.17 263.93,119.25 263.94,117.75 C263.96,116.25 263.80,114.95 263.84,113.87 C263.89,112.79 263.86,111.72 264.21,111.27Z" fill="none" stroke="#000" stroke-opacity="0.45" stroke-width="0.45"/>
<path d="M265.06,112.13 C265.31,111.73 265.89,111.86 266.22,111.79 C266.54,111.72 265.79,111.76 267.01,111.71 C268.24,111.65 272.20,111.46 273.57,111.46 C274.94,111.45 274.72,111.56 275.21,111.67 C275.69,111.78 276.11,111.97 276.47,112.10 C276.84,112.22 277.25,111.86 277.40,112.44 C277.55,113.02 277.38,114.34 277.38,115.58 C277.38,116.83 277.43,118.51 277.41,119.93 C277.39,121.34 277.29,122.73 277.28,124.08 C277.27,125.44 277.45,127.26 277.35,128.07 C277.26,128.88 276.90,128.65 276.71,128.94 C276.52,129.23 276.79,129.67 276.23,129.82 C275.67,129.97 274.37,129.78 273.36,129.85 C272.34,129.93 271.19,130.20 270.15,130.26 C269.10,130.32 267.84,130.26 267.08,130.20 C266.32,130.14 265.87,130.10 265.59,129.89 C265.31,129.68 265.50,129.30 265.40,128.95 C265.30,128.60 265.09,128.79 265.00,127.78 C264.92,126.78 264.97,124.59 264.88,122.93 C264.79,121.27 264.47,119.27 264.45,117.81 C264.43,116.36 264.68,115.13 264.78,114.18 C264.88,113.23 264.82,112.53 265.06,112.13Z" fill="none" stroke="#000" stroke-opacity="0.60" stroke-width="0.45" stroke-dasharray="0.7 0.45"/>
<path d="M264.00,114.00 C264.53,112.58 266.20,112.50 266.80,113.50 C267.40,114.50 267.10,118.67 267.60,120.00 C268.10,121.33 269.30,120.25 269.80,121.50 C270.30,122.75 270.63,125.87 270.60,127.50 C270.57,129.13 270.37,130.57 269.60,131.30 C268.83,132.03 266.97,132.12 266.00,131.90 C265.03,131.68 264.20,131.65 263.80,130.00 C263.40,128.35 263.57,124.67 263.60,122.00 C263.63,119.33 263.47,115.42 264.00,114.00Z" fill="#c4c4c4" fill-opacity="1" stroke="none"/>
<path d="M263.98,114.05 C264.25,113.28 265.08,113.66 265.53,113.55 C265.98,113.44 266.40,112.84 266.70,113.39 C266.99,113.94 267.11,115.76 267.29,116.85 C267.47,117.95 267.51,119.32 267.77,119.95 C268.03,120.58 268.49,120.33 268.85,120.61 C269.21,120.89 269.70,120.99 269.94,121.64 C270.18,122.30 270.16,123.53 270.30,124.53 C270.44,125.53 270.85,126.79 270.79,127.62 C270.72,128.46 270.12,128.93 269.90,129.53 C269.69,130.14 269.84,130.86 269.49,131.23 C269.15,131.59 268.38,131.63 267.82,131.71 C267.27,131.79 266.66,131.87 266.17,131.71 C265.68,131.56 265.26,131.11 264.87,130.80 C264.49,130.49 264.04,130.64 263.85,129.85 C263.66,129.06 263.79,127.36 263.74,126.06 C263.69,124.77 263.51,123.37 263.53,122.06 C263.56,120.75 263.81,119.52 263.88,118.19 C263.96,116.85 263.70,114.82 263.98,114.05Z" fill="none" stroke="#000" stroke-opacity="0.80" stroke-width="0.45"/>
<path d="M264.40,114.62 C264.61,114.01 265.10,114.25 265.46,114.20 C265.82,114.16 266.32,113.89 266.55,114.33 C266.78,114.77 266.76,115.88 266.84,116.83 C266.92,117.77 266.80,119.36 267.04,120.02 C267.28,120.67 267.99,120.52 268.29,120.77 C268.59,121.02 268.68,120.86 268.84,121.50 C269.01,122.14 269.02,123.58 269.25,124.61 C269.49,125.64 270.17,126.89 270.26,127.68 C270.35,128.47 269.93,128.84 269.82,129.36 C269.70,129.87 269.91,130.50 269.57,130.77 C269.24,131.04 268.40,130.90 267.81,131.00 C267.22,131.09 266.44,131.47 266.03,131.36 C265.62,131.25 265.65,130.63 265.35,130.35 C265.06,130.06 264.45,130.38 264.25,129.67 C264.06,128.95 264.21,127.31 264.18,126.06 C264.15,124.81 264.06,123.51 264.07,122.14 C264.08,120.78 264.18,119.12 264.24,117.86 C264.29,116.61 264.20,115.23 264.40,114.62Z" fill="none" stroke="#000" stroke-opacity="0.85" stroke-width="0.45"/>
<path d="M264.54,115.10 C264.69,114.59 265.13,115.08 265.42,115.01 C265.70,114.95 266.05,114.37 266.23,114.71 C266.42,115.04 266.40,116.14 266.53,117.02 C266.65,117.90 266.80,119.34 266.98,119.99 C267.16,120.64 267.42,120.64 267.63,120.91 C267.84,121.19 268.12,121.03 268.25,121.63 C268.37,122.24 268.11,123.53 268.39,124.57 C268.67,125.61 269.78,127.09 269.94,127.86 C270.10,128.64 269.47,128.82 269.34,129.22 C269.20,129.61 269.39,130.08 269.13,130.23 C268.87,130.39 268.30,130.09 267.80,130.17 C267.31,130.25 266.54,130.76 266.17,130.71 C265.80,130.66 265.81,130.07 265.57,129.86 C265.32,129.65 264.85,130.11 264.71,129.44 C264.56,128.78 264.71,127.10 264.69,125.88 C264.66,124.66 264.57,123.42 264.53,122.12 C264.50,120.82 264.49,119.23 264.49,118.06 C264.49,116.89 264.38,115.60 264.54,115.10Z" fill="none" stroke="#000" stroke-opacity="0.80" stroke-width="0.45"/>
<path d="M265.14,115.95 C265.24,115.63 265.27,115.87 265.45,115.79 C265.63,115.70 266.06,115.30 266.21,115.46 C266.36,115.61 266.28,115.92 266.36,116.71 C266.43,117.50 266.54,119.48 266.64,120.20 C266.73,120.92 266.83,120.82 266.95,121.03 C267.07,121.25 267.23,120.95 267.35,121.51 C267.48,122.08 267.36,123.34 267.68,124.43 C268.00,125.52 269.05,127.34 269.29,128.06 C269.52,128.79 269.15,128.56 269.10,128.79 C269.06,129.02 269.23,129.28 269.01,129.45 C268.80,129.62 268.29,129.78 267.81,129.82 C267.34,129.86 266.53,129.73 266.18,129.69 C265.82,129.65 265.87,129.66 265.70,129.56 C265.54,129.47 265.26,129.72 265.19,129.13 C265.12,128.54 265.33,127.26 265.28,126.03 C265.23,124.80 264.97,123.12 264.89,121.74 C264.82,120.36 264.79,118.71 264.83,117.75 C264.87,116.78 265.03,116.28 265.14,115.95Z" fill="none" stroke="#000" stroke-opacity="0.60" stroke-width="0.45"/>
<rect x="262.30" y="149.20" width="0.7" height="1.2" fill="#333"/>
<rect x="262.35" y="149.20" width="0.7" height="1.2" fill="#333"/>
<rect x="265.31" y="149.20" width="0.7" height="1.2" fill="#333"/>
<rect x="265.17" y="149.20" width="0.7" height="1.2" fill="#333"/>
<rect x="264.75" y="149.20" width="0.7" height="1.2" fill="#333"/>
<rect x="265.57" y="149.20" width="0.7" height="1.2" fill="#333"/>
<rect x="264.03" y="149.20" width="0.7" height="1.2" fill="#333"/>
<rect x="265.19" y="149.20" width="0.7" height="1.2" fill="#333"/>
<path d="M139.9 193.0h0.7v0.7h-0.7zM138.1 194.9h0.7v0.7h-0.7zM125.3 184.4h0.7v0.7h-0.7zM118.6 195.2h0.7v0.7h-0.7zM147.4 184.1h0.7v0.7h-0.7zM143.8 188.0h0.7v0.7h-0.7zM153.8 193.8h0.7v0.7h-0.7zM126.0 175.3h0.7v0.7h-0.7zM140.0 179.3h0.7v0.7h-0.7zM137.9 176.8h0.7v0.7h-0.7zM132.8 180.7h0.7v0.7h-0.7zM137.7 200.8h0.7v0.7h-0.7zM133.2 181.5h0.7v0.7h-0.7zM150.4 194.2h0.7v0.7h-0.7zM130.0 178.4h0.7v0.7h-0.7zM140.1 194.5h0.7v0.7h-0.7zM138.6 204.6h0.7v0.7h-0.7zM153.8 170.2h0.7v0.7h-0.7zM140.7 184.5h0.7v0.7h-0.7zM140.1 188.5h0.7v0.7h-0.7zM134.4 181.7h0.7v0.7h-0.7zM130.0 176.2h0.7v0.7h-0.7zM143.5 171.0h0.7v0.7h-0.7zM137.2 192.6h0.7v0.7h-0.7zM129.5 201.9h0.7v0.7h-0.7zM152.7 186.4h0.7v0.7h-0.7zM149.6 175.5h0.7v0.7h-0.7zM151.1 172.0h0.7v0.7h-0.7zM136.7 178.0h0.7v0.7h-0.7zM144.9 169.4h0.7v0.7h-0.7zM136.1 185.1h0.7v0.7h-0.7zM144.2 180.8h0.7v0.7h-0.7zM130.3 188.8h0.7v0.7h-0.7zM142.9 202.9h0.7v0.7h-0.7zM134.0 197.4h0.7v0.7h-0.7zM130.7 200.6h0.7v0.7h-0.7zM144.1 196.3h0.7v0.7h-0.7zM133.6 183.9h0.7v0.7h-0.7zM135.3 182.4h0.7v0.7h-0.7zM143.3 176.3h0.7v0.7h-0.7zM129.9 201.0h0.7v0.7h-0.7zM131.4 181.2h0.7v0.7h-0.7zM135.8 198.6h0.7v0.7h-0.7zM131.8 181.5h0.7v0.7h-0.7zM146.3 182.2h0.7v0.7h-0.7zM138.3 195.1h0.7v0.7h-0.7zM132.7 190.4h0.7v0.7h-0.7zM151.5 186.3h0.7v0.7h-0.7zM138.0 170.8h0.7v0.7h-0.7zM135.3 205.7h0.7v0.7h-0.7zM140.8 176.1h0.7v0.7h-0.7zM152.1 190.1h0.7v0.7h-0.7zM148.9 191.0h0.7v0.7h-0.7zM149.7 169.5h0.7v0.7h-0.7zM149.1 176.5h0.7v0.7h-0.7zM141.5 170.1h0.7v0.7h-0.7zM153.5 180.7h0.7v0.7h-0.7zM128.7 189.1h0.7v0.7h-0.7zM127.9 184.1h0.7v0.7h-0.7zM135.4 200.3h0.7v0.7h-0.7zM146.9 176.5h0.7v0.7h-0.7zM128.5 186.2h0.7v0.7h-0.7zM141.8 174.9h0.7v0.7h-0.7zM129.7 195.5h0.7v0.7h-0.7zM144.4 180.7h0.7v0.7h-0.7zM136.8 179.2h0.7v0.7h-0.7zM130.5 199.1h0.7v0.7h-0.7zM132.9 202.1h0.7v0.7h-0.7zM148.4 168.6h0.7v0.7h-0.7zM152.5 171.1h0.7v0.7h-0.7zM140.0 202.3h0.7v0.7h-0.7zM134.9 184.9h0.7v0.7h-0.7z" fill="#aaa"/>
<path d="M139.1 168.8h0.7v0.7h-0.7zM148.4 184.0h0.7v0.7h-0.7zM130.7 169.5h0.7v0.7h-0.7zM140.2 193.2h0.7v0.7h-0.7zM145.5 192.9h0.7v0.7h-0.7zM135.8 185.3h0.7v0.7h-0.7zM142.5 184.3h0.7v0.7h-0.7zM140.2 204.8h0.7v0.7h-0.7zM147.8 191.7h0.7v0.7h-0.7zM144.7 199.1h0.7v0.7h-0.7zM130.7 199.8h0.7v0.7h-0.7zM141.7 200.6h0.7v0.7h-0.7zM139.0 173.3h0.7v0.7h-0.7zM149.0 181.1h0.7v0.7h-0.7zM135.3 200.3h0.7v0.7h-0.7zM132.8 189.7h0.7v0.7h-0.7zM133.0 202.3h0.7v0.7h-0.7zM145.7 199.7h0.7v0.7h-0.7zM133.8 190.0h0.7v0.7h-0.7zM154.4 183.3h0.7v0.7h-0.7zM137.9 202.6h0.7v0.7h-0.7zM133.9 193.6h0.7v0.7h-0.7zM146.9 170.1h0.7v0.7h-0.7zM128.1 183.1h0.7v0.7h-0.7zM135.4 180.6h0.7v0.7h-0.7zM128.9 190.2h0.7v0.7h-0.7zM129.7 198.2h0.7v0.7h-0.7zM154.7 177.6h0.7v0.7h-0.7zM131.4 175.8h0.7v0.7h-0.7zM139.5 170.7h0.7v0.7h-0.7zM133.8 188.5h0.7v0.7h-0.7zM135.1 192.7h0.7v0.7h-0.7zM134.1 204.5h0.7v0.7h-0.7zM142.3 203.6h0.7v0.7h-0.7zM145.9 195.1h0.7v0.7h-0.7zM134.9 182.1h0.7v0.7h-0.7zM143.0 187.7h0.7v0.7h-0.7zM145.7 193.8h0.7v0.7h-0.7zM145.4 183.1h0.7v0.7h-0.7zM153.0 182.1h0.7v0.7h-0.7zM143.4 175.1h0.7v0.7h-0.7zM144.9 185.0h0.7v0.7h-0.7zM148.7 184.8h0.7v0.7h-0.7zM142.0 179.0h0.7v0.7h-0.7zM147.6 193.0h0.7v0.7h-0.7zM138.7 179.6h0.7v0.7h-0.7zM133.1 182.6h0.7v0.7h-0.7zM144.5 191.7h0.7v0.7h-0.7zM141.4 180.5h0.7v0.7h-0.7zM149.2 193.2h0.7v0.7h-0.7zM147.0 175.0h0.7v0.7h-0.7zM134.9 194.1h0.7v0.7h-0.7zM139.6 183.3h0.7v0.7h-0.7zM128.8 182.5h0.7v0.7h-0.7zM142.2 185.8h0.7v0.7h-0.7zM131.5 195.2h0.7v0.7h-0.7zM139.5 179.8h0.7v0.7h-0.7zM152.3 184.8h0.7v0.7h-0.7zM136.9 193.3h0.7v0.7h-0.7zM145.0 177.4h0.7v0.7h-0.7zM147.4 180.8h0.7v0.7h-0.7zM135.1 195.2h0.7v0.7h-0.7zM143.2 196.1h0.7v0.7h-0.7zM131.4 187.9h0.7v0.7h-0.7z" fill="#777"/>
<path d="M133.0 190.5h0.7v0.7h-0.7zM130.4 178.2h0.7v0.7h-0.7zM127.3 184.7h0.7v0.7h-0.7zM145.6 175.7h0.7v0.7h-0.7zM139.4 208.0h0.7v0.7h-0.7zM150.6 189.4h0.7v0.7h-0.7zM141.0 192.2h0.7v0.7h-0.7zM135.4 199.4h0.7v0.7h-0.7zM143.2 176.1h0.7v0.7h-0.7zM132.0 205.5h0.7v0.7h-0.7zM128.9 190.1h0.7v0.7h-0.7zM131.9 180.7h0.7v0.7h-0.7zM131.6 184.6h0.7v0.7h-0.7zM124.9 176.5h0.7v0.7h-0.7zM128.4 170.0h0.7v0.7h-0.7zM146.4 210.7h0.7v0.7h-0.7zM136.7 199.9h0.7v0.7h-0.7zM147.0 173.8h0.7v0.7h-0.7zM128.2 185.1h0.7v0.7h-0.7zM149.8 173.0h0.7v0.7h-0.7zM132.0 179.9h0.7v0.7h-0.7zM137.5 171.9h0.7v0.7h-0.7zM135.3 173.1h0.7v0.7h-0.7zM137.5 176.2h0.7v0.7h-0.7zM144.6 182.7h0.7v0.7h-0.7zM133.0 182.8h0.7v0.7h-0.7zM133.3 174.0h0.7v0.7h-0.7zM143.0 191.0h0.7v0.7h-0.7zM149.4 176.8h0.7v0.7h-0.7zM135.0 186.9h0.7v0.7h-0.7zM129.5 176.4h0.7v0.7h-0.7zM146.7 178.1h0.7v0.7h-0.7zM140.8 176.9h0.7v0.7h-0.7zM132.7 178.5h0.7v0.7h-0.7zM141.3 191.4h0.7v0.7h-0.7zM154.6 173.5h0.7v0.7h-0.7zM136.3 179.2h0.7v0.7h-0.7zM130.7 197.7h0.7v0.7h-0.7zM152.7 185.4h0.7v0.7h-0.7zM140.5 170.9h0.7v0.7h-0.7zM136.6 195.4h0.7v0.7h-0.7zM146.7 173.0h0.7v0.7h-0.7zM149.0 194.4h0.7v0.7h-0.7zM143.2 176.4h0.7v0.7h-0.7zM142.9 191.3h0.7v0.7h-0.7zM149.1 187.9h0.7v0.7h-0.7zM129.0 175.2h0.7v0.7h-0.7zM138.0 186.4h0.7v0.7h-0.7zM151.2 190.4h0.7v0.7h-0.7zM150.6 186.0h0.7v0.7h-0.7zM130.8 182.2h0.7v0.7h-0.7zM146.4 190.5h0.7v0.7h-0.7zM129.5 187.9h0.7v0.7h-0.7zM148.9 171.8h0.7v0.7h-0.7zM137.2 182.8h0.7v0.7h-0.7zM145.6 187.3h0.7v0.7h-0.7zM137.5 188.0h0.7v0.7h-0.7zM144.1 170.2h0.7v0.7h-0.7zM131.8 200.0h0.7v0.7h-0.7zM147.1 168.8h0.7v0.7h-0.7zM149.3 185.0h0.7v0.7h-0.7zM128.0 178.7h0.7v0.7h-0.7zM145.9 179.5h0.7v0.7h-0.7zM141.3 185.3h0.7v0.7h-0.7zM150.1 170.8h0.7v0.7h-0.7zM134.7 188.8h0.7v0.7h-0.7zM136.9 178.9h0.7v0.7h-0.7zM152.9 180.7h0.7v0.7h-0.7zM134.7 205.8h0.7v0.7h-0.7zM127.6 185.9h0.7v0.7h-0.7zM132.2 188.4h0.7v0.7h-0.7zM150.0 184.7h0.7v0.7h-0.7zM138.2 202.5h0.7v0.7h-0.7zM151.6 187.3h0.7v0.7h-0.7zM148.7 171.6h0.7v0.7h-0.7zM149.0 188.9h0.7v0.7h-0.7zM150.8 192.9h0.7v0.7h-0.7zM142.6 180.7h0.7v0.7h-0.7zM147.2 187.1h0.7v0.7h-0.7zM145.8 188.1h0.7v0.7h-0.7zM138.3 198.1h0.7v0.7h-0.7zM132.4 204.0h0.7v0.7h-0.7zM132.5 183.7h0.7v0.7h-0.7zM143.6 185.9h0.7v0.7h-0.7zM140.8 170.8h0.7v0.7h-0.7zM154.5 181.2h0.7v0.7h-0.7zM142.3 181.8h0.7v0.7h-0.7zM132.2 174.2h0.7v0.7h-0.7zM142.8 199.8h0.7v0.7h-0.7zM141.3 202.1h0.7v0.7h-0.7zM150.2 178.4h0.7v0.7h-0.7zM140.3 198.5h0.7v0.7h-0.7zM150.2 173.3h0.7v0.7h-0.7zM130.8 196.7h0.7v0.7h-0.7zM151.3 174.9h0.7v0.7h-0.7zM143.2 199.5h0.7v0.7h-0.7zM133.9 176.9h0.7v0.7h-0.7zM141.4 189.4h0.7v0.7h-0.7zM134.0 196.7h0.7v0.7h-0.7z" fill="#999"/>
<path d="M151.0 181.9h0.7v0.7h-0.7zM145.6 168.3h0.7v0.7h-0.7zM159.1 191.6h0.7v0.7h-0.7zM146.6 191.6h0.7v0.7h-0.7zM142.6 208.7h0.7v0.7h-0.7zM144.8 185.9h0.7v0.7h-0.7zM118.3 202.4h0.7v0.7h-0.7zM136.1 182.2h0.7v0.7h-0.7zM150.9 187.9h0.7v0.7h-0.7zM154.9 171.6h0.7v0.7h-0.7zM132.2 185.4h0.7v0.7h-0.7zM140.0 200.6h0.7v0.7h-0.7zM132.7 193.2h0.7v0.7h-0.7zM151.4 174.5h0.7v0.7h-0.7zM128.3 197.4h0.7v0.7h-0.7zM151.0 182.8h0.7v0.7h-0.7zM138.7 188.4h0.7v0.7h-0.7zM130.1 178.9h0.7v0.7h-0.7zM141.7 200.5h0.7v0.7h-0.7zM140.8 204.2h0.7v0.7h-0.7zM145.7 171.8h0.7v0.7h-0.7zM132.7 180.9h0.7v0.7h-0.7zM145.3 190.8h0.7v0.7h-0.7zM137.3 187.4h0.7v0.7h-0.7zM134.3 202.0h0.7v0.7h-0.7zM129.8 199.6h0.7v0.7h-0.7zM143.2 200.9h0.7v0.7h-0.7zM129.2 178.4h0.7v0.7h-0.7zM130.9 177.5h0.7v0.7h-0.7zM130.2 187.5h0.7v0.7h-0.7zM138.7 203.2h0.7v0.7h-0.7zM148.2 172.4h0.7v0.7h-0.7zM129.6 176.6h0.7v0.7h-0.7zM128.8 181.1h0.7v0.7h-0.7zM137.6 199.0h0.7v0.7h-0.7zM137.8 180.6h0.7v0.7h-0.7zM142.4 181.9h0.7v0.7h-0.7zM146.4 171.8h0.7v0.7h-0.7zM151.5 176.6h0.7v0.7h-0.7zM147.4 177.1h0.7v0.7h-0.7zM131.5 194.6h0.7v0.7h-0.7zM139.2 172.8h0.7v0.7h-0.7zM134.8 199.0h0.7v0.7h-0.7zM127.8 193.7h0.7v0.7h-0.7zM147.6 191.0h0.7v0.7h-0.7zM142.8 196.2h0.7v0.7h-0.7zM140.4 196.4h0.7v0.7h-0.7zM137.0 171.1h0.7v0.7h-0.7zM127.8 187.8h0.7v0.7h-0.7zM130.4 175.4h0.7v0.7h-0.7zM133.0 200.1h0.7v0.7h-0.7zM150.9 176.3h0.7v0.7h-0.7zM130.7 203.5h0.7v0.7h-0.7zM137.3 187.7h0.7v0.7h-0.7zM150.1 177.2h0.7v0.7h-0.7zM152.3 170.2h0.7v0.7h-0.7zM153.9 170.5h0.7v0.7h-0.7zM142.2 173.5h0.7v0.7h-0.7zM137.7 199.7h0.7v0.7h-0.7zM145.6 188.7h0.7v0.7h-0.7zM139.9 172.1h0.7v0.7h-0.7zM128.6 201.6h0.7v0.7h-0.7zM131.5 196.6h0.7v0.7h-0.7zM140.4 200.7h0.7v0.7h-0.7zM132.2 191.4h0.7v0.7h-0.7zM137.8 184.2h0.7v0.7h-0.7zM134.6 189.0h0.7v0.7h-0.7zM142.5 201.9h0.7v0.7h-0.7zM131.5 175.5h0.7v0.7h-0.7zM141.9 193.5h0.7v0.7h-0.7zM147.0 186.8h0.7v0.7h-0.7zM128.2 199.2h0.7v0.7h-0.7zM133.4 198.6h0.7v0.7h-0.7zM132.5 178.3h0.7v0.7h-0.7z" fill="#888"/>
<path d="M164.0 203.6h0.7v0.7h-0.7zM144.1 198.4h0.7v0.7h-0.7zM128.3 187.7h0.7v0.7h-0.7zM133.6 187.1h0.7v0.7h-0.7zM155.9 183.0h0.7v0.7h-0.7zM165.2 192.3h0.7v0.7h-0.7z" fill="#bbb"/>
<path d="M135.4 178.5h0.7v0.7h-0.7zM137.7 201.4h0.7v0.7h-0.7zM144.2 194.3h0.7v0.7h-0.7zM138.5 197.4h0.7v0.7h-0.7zM143.2 183.8h0.7v0.7h-0.7zM151.9 171.8h0.7v0.7h-0.7zM129.8 201.7h0.7v0.7h-0.7zM131.2 178.4h0.7v0.7h-0.7zM142.2 186.6h0.7v0.7h-0.7zM145.9 190.2h0.7v0.7h-0.7zM152.7 173.1h0.7v0.7h-0.7zM142.2 175.6h0.7v0.7h-0.7zM145.7 175.8h0.7v0.7h-0.7zM139.3 172.9h0.7v0.7h-0.7zM126.5 193.8h0.7v0.7h-0.7zM129.2 182.4h0.7v0.7h-0.7zM146.8 174.6h0.7v0.7h-0.7zM148.8 176.6h0.7v0.7h-0.7zM139.3 181.6h0.7v0.7h-0.7zM134.3 181.2h0.7v0.7h-0.7zM135.6 184.0h0.7v0.7h-0.7zM140.5 175.2h0.7v0.7h-0.7zM130.2 195.4h0.7v0.7h-0.7zM154.6 183.6h0.7v0.7h-0.7zM128.3 183.1h0.7v0.7h-0.7zM150.6 173.2h0.7v0.7h-0.7zM136.1 177.3h0.7v0.7h-0.7zM133.5 198.4h0.7v0.7h-0.7zM143.4 177.4h0.7v0.7h-0.7zM139.9 182.8h0.7v0.7h-0.7zM145.2 175.3h0.7v0.7h-0.7zM147.4 169.3h0.7v0.7h-0.7zM134.7 178.1h0.7v0.7h-0.7zM153.6 186.1h0.7v0.7h-0.7zM136.2 173.9h0.7v0.7h-0.7zM149.0 171.3h0.7v0.7h-0.7zM150.0 176.3h0.7v0.7h-0.7zM140.8 182.9h0.7v0.7h-0.7zM142.7 197.1h0.7v0.7h-0.7zM146.6 186.9h0.7v0.7h-0.7zM136.7 194.2h0.7v0.7h-0.7zM155.1 178.9h0.7v0.7h-0.7zM149.6 189.4h0.7v0.7h-0.7zM142.4 199.4h0.7v0.7h-0.7zM150.6 189.2h0.7v0.7h-0.7zM153.6 176.6h0.7v0.7h-0.7zM151.0 185.9h0.7v0.7h-0.7zM146.3 184.6h0.7v0.7h-0.7zM130.1 190.3h0.7v0.7h-0.7zM147.1 169.9h0.7v0.7h-0.7zM142.5 183.0h0.7v0.7h-0.7zM145.6 191.5h0.7v0.7h-0.7zM144.5 195.2h0.7v0.7h-0.7zM137.1 187.3h0.7v0.7h-0.7zM146.4 200.0h0.7v0.7h-0.7zM144.3 188.3h0.7v0.7h-0.7zM129.4 188.0h0.7v0.7h-0.7zM148.9 178.9h0.7v0.7h-0.7zM139.3 172.7h0.7v0.7h-0.7zM155.8 174.3h0.7v0.7h-0.7zM140.1 197.1h0.7v0.7h-0.7zM144.5 187.9h0.7v0.7h-0.7zM146.7 187.6h0.7v0.7h-0.7z" fill="#666"/>
<path d="M128.59,177.92 C129.22,176.92 130.52,176.81 131.48,176.18 C132.44,175.55 133.27,174.67 134.36,174.13 C135.45,173.59 136.88,173.34 138.00,172.95 C139.13,172.55 140.05,172.10 141.10,171.77 C142.16,171.45 143.24,171.21 144.35,170.98 C145.46,170.75 146.83,170.47 147.78,170.42 C148.73,170.36 149.34,170.53 150.07,170.64 C150.81,170.76 151.71,170.69 152.20,171.11 C152.70,171.52 152.76,172.48 153.04,173.13 C153.33,173.78 153.80,174.13 153.90,174.98 C154.00,175.84 153.77,177.12 153.67,178.28 C153.57,179.43 153.56,180.73 153.28,181.93 C153.01,183.12 152.50,184.12 152.01,185.43 C151.52,186.74 151.08,188.43 150.33,189.78 C149.59,191.12 148.47,192.27 147.53,193.48 C146.60,194.68 145.70,195.95 144.74,196.99 C143.77,198.03 142.62,198.95 141.73,199.70 C140.85,200.44 140.30,201.07 139.43,201.45 C138.55,201.84 137.47,201.86 136.50,201.99 C135.53,202.12 134.39,202.37 133.61,202.22 C132.82,202.06 132.39,201.45 131.78,201.05 C131.17,200.66 130.44,200.54 129.96,199.85 C129.48,199.16 129.27,197.96 128.90,196.92 C128.53,195.88 127.91,194.83 127.73,193.62 C127.54,192.40 127.86,190.95 127.80,189.65 C127.73,188.34 127.37,187.03 127.35,185.79 C127.34,184.55 127.50,183.49 127.70,182.18 C127.91,180.87 127.96,178.92 128.59,177.92Z" fill="none" stroke="#000" stroke-opacity="0.45" stroke-width="0.45" stroke-dasharray="0.7 0.45"/>
<path d="M129.98,179.94 C130.61,179.01 131.90,178.63 132.92,177.95 C133.94,177.28 135.08,176.45 136.09,175.90 C137.10,175.34 137.95,175.09 139.00,174.61 C140.05,174.14 141.39,173.41 142.37,173.04 C143.35,172.68 144.08,172.55 144.90,172.42 C145.72,172.28 146.56,172.21 147.28,172.22 C148.00,172.24 148.63,172.41 149.21,172.49 C149.79,172.57 150.41,172.44 150.79,172.72 C151.16,173.00 151.26,173.70 151.49,174.17 C151.72,174.63 152.09,174.81 152.16,175.50 C152.23,176.20 151.98,177.43 151.91,178.35 C151.83,179.26 151.96,180.11 151.74,181.01 C151.51,181.92 151.11,182.65 150.56,183.76 C150.01,184.88 149.21,186.50 148.43,187.70 C147.64,188.89 146.81,189.74 145.87,190.91 C144.92,192.08 143.75,193.68 142.76,194.73 C141.78,195.77 140.73,196.56 139.97,197.18 C139.20,197.80 138.88,198.20 138.16,198.46 C137.43,198.72 136.37,198.67 135.62,198.75 C134.86,198.83 134.23,199.05 133.62,198.97 C133.01,198.88 132.48,198.52 131.97,198.22 C131.47,197.92 130.99,197.74 130.59,197.16 C130.20,196.58 129.89,195.58 129.59,194.75 C129.30,193.92 128.96,193.09 128.81,192.19 C128.65,191.29 128.66,190.40 128.66,189.36 C128.66,188.32 128.74,186.94 128.81,185.96 C128.88,184.98 128.90,184.49 129.09,183.49 C129.29,182.48 129.34,180.86 129.98,179.94Z" fill="none" stroke="#000" stroke-opacity="0.45" stroke-width="0.45" stroke-dasharray="0.7 0.45"/>
<path d="M138.50,178.00 C138.67,176.50 139.08,175.08 140.00,174.00 C140.92,172.92 142.50,172.08 144.00,171.50 C145.50,170.92 147.50,170.50 149.00,170.50 C150.50,170.50 152.17,170.58 153.00,171.50 C153.83,172.42 154.08,174.42 154.00,176.00 C153.92,177.58 153.50,179.67 152.50,181.00 C151.50,182.33 149.75,183.25 148.00,184.00 C146.25,184.75 143.50,185.67 142.00,185.50 C140.50,185.33 139.58,184.25 139.00,183.00 C138.42,181.75 138.33,179.50 138.50,178.00Z" fill="#d4d4d4" fill-opacity="1" stroke="none"/>
<path d="M138.56,177.92 C138.66,177.14 139.17,176.46 139.38,175.83 C139.59,175.21 139.40,174.67 139.82,174.18 C140.24,173.70 141.17,173.39 141.89,172.92 C142.60,172.44 143.36,171.63 144.10,171.32 C144.84,171.01 145.54,171.18 146.34,171.06 C147.13,170.93 148.07,170.59 148.86,170.57 C149.65,170.54 150.38,170.76 151.07,170.89 C151.76,171.03 152.56,170.90 152.99,171.38 C153.42,171.87 153.47,173.02 153.65,173.80 C153.83,174.58 154.17,175.24 154.08,176.05 C153.98,176.86 153.32,177.83 153.07,178.65 C152.83,179.48 153.08,180.37 152.61,181.01 C152.15,181.65 151.04,182.00 150.29,182.50 C149.53,183.00 149.00,183.64 148.10,184.01 C147.21,184.39 145.95,184.54 144.91,184.76 C143.87,184.97 142.62,185.36 141.89,185.30 C141.15,185.24 140.97,184.80 140.51,184.40 C140.04,184.00 139.38,183.53 139.09,182.88 C138.80,182.24 138.84,181.36 138.75,180.53 C138.67,179.71 138.46,178.70 138.56,177.92Z" fill="none" stroke="#000" stroke-opacity="0.50" stroke-width="0.45"/>
<path d="M139.23,178.18 C139.32,177.61 139.57,177.21 139.80,176.68 C140.04,176.14 140.16,175.44 140.63,174.97 C141.10,174.49 141.99,174.24 142.61,173.82 C143.24,173.40 143.66,172.77 144.37,172.44 C145.08,172.12 146.08,172.05 146.89,171.86 C147.69,171.67 148.51,171.31 149.20,171.32 C149.88,171.32 150.47,171.73 151.00,171.89 C151.52,172.05 152.02,171.95 152.35,172.28 C152.68,172.61 152.82,173.25 152.97,173.86 C153.12,174.48 153.32,175.30 153.25,175.98 C153.18,176.66 152.75,177.32 152.55,177.95 C152.35,178.58 152.55,179.19 152.04,179.77 C151.53,180.34 150.28,180.92 149.50,181.40 C148.71,181.88 148.17,182.28 147.33,182.66 C146.48,183.04 145.27,183.40 144.41,183.68 C143.54,183.97 142.74,184.47 142.16,184.37 C141.57,184.26 141.34,183.46 140.91,183.07 C140.47,182.68 139.82,182.49 139.55,182.00 C139.28,181.51 139.33,180.77 139.28,180.14 C139.23,179.50 139.14,178.76 139.23,178.18Z" fill="none" stroke="#000" stroke-opacity="0.50" stroke-width="0.45"/>
<path d="M139.77,178.39 C139.78,177.96 140.01,177.69 140.20,177.26 C140.39,176.83 140.45,176.25 140.92,175.82 C141.40,175.39 142.42,175.03 143.07,174.68 C143.73,174.33 144.11,174.00 144.85,173.72 C145.59,173.43 146.78,173.24 147.52,172.99 C148.27,172.74 148.79,172.29 149.32,172.21 C149.84,172.12 150.23,172.33 150.68,172.46 C151.12,172.58 151.75,172.69 151.99,172.96 C152.23,173.23 152.06,173.64 152.12,174.07 C152.17,174.51 152.31,175.09 152.31,175.57 C152.32,176.05 152.30,176.47 152.14,176.96 C151.99,177.45 151.86,177.98 151.38,178.51 C150.89,179.04 149.97,179.65 149.22,180.16 C148.46,180.66 147.76,181.18 146.84,181.54 C145.93,181.90 144.55,182.10 143.71,182.33 C142.87,182.56 142.28,182.97 141.82,182.92 C141.35,182.87 141.22,182.25 140.93,182.03 C140.64,181.80 140.20,181.94 140.07,181.57 C139.94,181.20 140.22,180.34 140.17,179.81 C140.12,179.28 139.76,178.82 139.77,178.39Z" fill="none" stroke="#000" stroke-opacity="0.45" stroke-width="0.45"/>
<path d="M140.79,178.46 C140.77,178.15 140.63,178.04 140.76,177.75 C140.89,177.46 141.09,177.05 141.56,176.72 C142.04,176.39 142.93,176.13 143.62,175.77 C144.30,175.41 145.00,174.92 145.68,174.55 C146.36,174.19 147.03,173.82 147.70,173.60 C148.37,173.37 149.22,173.26 149.69,173.20 C150.16,173.15 150.27,173.23 150.51,173.28 C150.74,173.33 150.94,173.27 151.11,173.48 C151.28,173.70 151.48,174.25 151.54,174.58 C151.60,174.92 151.53,175.19 151.46,175.49 C151.39,175.79 151.25,176.03 151.12,176.39 C150.98,176.74 151.10,177.20 150.66,177.63 C150.23,178.05 149.29,178.52 148.51,178.91 C147.72,179.31 146.82,179.57 145.96,179.98 C145.09,180.38 144.01,181.05 143.32,181.35 C142.62,181.64 142.10,181.79 141.80,181.74 C141.51,181.68 141.72,181.22 141.56,181.04 C141.39,180.87 140.92,180.89 140.81,180.66 C140.69,180.43 140.87,180.03 140.87,179.66 C140.87,179.29 140.81,178.78 140.79,178.46Z" fill="none" stroke="#000" stroke-opacity="0.60" stroke-width="0.45" stroke-dasharray="0.7 0.45"/>
<path d="M139.8,177 C140.5,174 144,172.2 148.5,171.6 C150.5,171.3 152,172 152.4,174" stroke="#111" stroke-opacity="0.85" stroke-width="0.9" fill="none"/>
<path d="M146.5 182.0h0.7v0.7h-0.7zM146.2 173.6h0.7v0.7h-0.7zM147.9 180.3h0.7v0.7h-0.7zM141.3 183.2h0.7v0.7h-0.7zM150.4 179.5h0.7v0.7h-0.7zM145.8 181.1h0.7v0.7h-0.7zM147.4 174.7h0.7v0.7h-0.7zM148.9 177.1h0.7v0.7h-0.7zM144.7 184.8h0.7v0.7h-0.7zM143.7 181.8h0.7v0.7h-0.7zM147.5 177.8h0.7v0.7h-0.7zM143.7 181.0h0.7v0.7h-0.7zM146.6 175.5h0.7v0.7h-0.7z" fill="#666"/>
<path d="M150.9 173.7h0.7v0.7h-0.7zM145.5 184.3h0.7v0.7h-0.7zM148.8 181.8h0.7v0.7h-0.7zM152.9 174.5h0.7v0.7h-0.7zM151.9 171.7h0.7v0.7h-0.7zM148.4 181.8h0.7v0.7h-0.7zM147.8 171.7h0.7v0.7h-0.7zM150.6 172.2h0.7v0.7h-0.7zM146.7 176.2h0.7v0.7h-0.7zM153.8 176.5h0.7v0.7h-0.7zM149.9 176.2h0.7v0.7h-0.7zM141.2 175.8h0.7v0.7h-0.7zM140.0 175.8h0.7v0.7h-0.7zM139.0 182.2h0.7v0.7h-0.7zM139.8 178.3h0.7v0.7h-0.7zM146.6 176.8h0.7v0.7h-0.7zM152.9 177.7h0.7v0.7h-0.7zM152.1 178.9h0.7v0.7h-0.7zM145.0 178.6h0.7v0.7h-0.7zM148.2 180.9h0.7v0.7h-0.7zM141.8 179.3h0.7v0.7h-0.7zM151.7 175.9h0.7v0.7h-0.7z" fill="#777"/>
<path d="M145.6 183.2h0.7v0.7h-0.7zM147.5 179.5h0.7v0.7h-0.7zM147.5 179.5h0.7v0.7h-0.7zM153.4 175.3h0.7v0.7h-0.7zM142.9 181.3h0.7v0.7h-0.7zM143.8 173.6h0.7v0.7h-0.7zM141.2 183.6h0.7v0.7h-0.7zM145.1 180.4h0.7v0.7h-0.7zM147.4 175.4h0.7v0.7h-0.7zM149.0 176.6h0.7v0.7h-0.7zM147.5 181.2h0.7v0.7h-0.7zM144.6 182.9h0.7v0.7h-0.7zM149.8 174.2h0.7v0.7h-0.7zM140.3 183.7h0.7v0.7h-0.7zM147.9 183.1h0.7v0.7h-0.7zM143.6 175.3h0.7v0.7h-0.7zM143.9 173.7h0.7v0.7h-0.7zM142.1 179.1h0.7v0.7h-0.7zM151.9 177.9h0.7v0.7h-0.7zM147.2 175.2h0.7v0.7h-0.7zM144.0 184.9h0.7v0.7h-0.7zM146.7 179.0h0.7v0.7h-0.7zM153.7 176.2h0.7v0.7h-0.7zM142.5 179.4h0.7v0.7h-0.7zM149.2 173.2h0.7v0.7h-0.7z" fill="#555"/>
<path d="M133.50,188.80 C133.50,189.97 133.44,191.27 133.33,192.31 C133.22,193.34 133.05,194.25 132.83,195.02 C132.62,195.80 132.35,196.47 132.05,196.96 C131.75,197.45 131.41,197.80 131.03,197.97 C130.65,198.14 130.15,198.14 129.77,197.97 C129.39,197.80 129.05,197.45 128.75,196.96 C128.45,196.47 128.18,195.80 127.97,195.02 C127.75,194.25 127.58,193.34 127.47,192.31 C127.36,191.27 127.30,189.97 127.30,188.80 C127.30,187.63 127.36,186.33 127.47,185.29 C127.58,184.26 127.75,183.35 127.97,182.58 C128.18,181.80 128.45,181.13 128.75,180.64 C129.05,180.15 129.39,179.80 129.77,179.63 C130.15,179.46 130.65,179.46 131.03,179.63 C131.41,179.80 131.75,180.15 132.05,180.64 C132.35,181.13 132.62,181.80 132.83,182.58 C133.05,183.35 133.22,184.26 133.33,185.29 C133.44,186.33 133.50,187.63 133.50,188.80Z" fill="#bdbdbd" fill-opacity="1" stroke="none"/>
<path d="M133.62,188.80 C133.61,189.40 133.49,190.12 133.41,190.69 C133.34,191.26 133.26,191.70 133.18,192.20 C133.09,192.69 132.95,193.16 132.89,193.66 C132.83,194.16 132.86,194.82 132.81,195.21 C132.77,195.59 132.74,195.69 132.61,195.95 C132.49,196.22 132.21,196.55 132.05,196.80 C131.89,197.06 131.83,197.25 131.64,197.47 C131.45,197.69 131.14,198.06 130.90,198.12 C130.66,198.18 130.41,197.84 130.22,197.85 C130.03,197.86 129.94,198.25 129.76,198.17 C129.58,198.09 129.26,197.58 129.11,197.37 C128.97,197.16 128.96,197.16 128.87,196.89 C128.77,196.63 128.70,196.12 128.53,195.80 C128.36,195.47 127.97,195.33 127.86,194.95 C127.75,194.56 127.91,193.92 127.86,193.51 C127.80,193.09 127.59,192.93 127.54,192.46 C127.49,191.99 127.64,191.29 127.57,190.68 C127.50,190.06 127.17,189.42 127.12,188.79 C127.07,188.16 127.23,187.46 127.27,186.90 C127.31,186.33 127.29,185.91 127.37,185.39 C127.45,184.87 127.66,184.28 127.75,183.79 C127.83,183.29 127.75,182.75 127.88,182.40 C128.01,182.06 128.39,181.97 128.53,181.71 C128.67,181.45 128.58,181.11 128.74,180.82 C128.89,180.54 129.29,180.24 129.45,180.02 C129.61,179.80 129.50,179.56 129.67,179.51 C129.84,179.45 130.22,179.63 130.45,179.67 C130.68,179.71 130.85,179.67 131.04,179.74 C131.22,179.80 131.37,179.88 131.55,180.06 C131.73,180.24 132.00,180.56 132.12,180.82 C132.24,181.08 132.17,181.29 132.26,181.60 C132.36,181.91 132.56,182.26 132.69,182.68 C132.82,183.09 132.94,183.60 133.05,184.07 C133.17,184.54 133.33,184.97 133.40,185.48 C133.46,185.98 133.41,186.53 133.45,187.08 C133.48,187.64 133.62,188.20 133.62,188.80Z" fill="none" stroke="#000" stroke-opacity="0.70" stroke-width="0.45"/>
<path d="M133.22,188.92 C133.21,189.48 132.93,189.86 132.90,190.39 C132.87,190.93 133.07,191.56 133.06,192.13 C133.05,192.71 132.94,193.35 132.85,193.84 C132.76,194.32 132.64,194.72 132.53,195.05 C132.42,195.37 132.29,195.57 132.18,195.79 C132.06,196.02 132.00,196.20 131.84,196.41 C131.68,196.61 131.36,196.91 131.20,197.04 C131.05,197.18 131.05,197.19 130.92,197.23 C130.79,197.27 130.62,197.23 130.42,197.28 C130.23,197.33 129.93,197.57 129.77,197.53 C129.61,197.49 129.58,197.22 129.48,197.05 C129.37,196.87 129.26,196.72 129.12,196.49 C128.98,196.26 128.79,195.92 128.64,195.67 C128.50,195.41 128.34,195.33 128.27,194.98 C128.21,194.63 128.32,194.05 128.27,193.58 C128.23,193.12 128.10,192.69 127.99,192.19 C127.89,191.70 127.66,191.20 127.64,190.63 C127.62,190.05 127.81,189.31 127.88,188.73 C127.94,188.15 128.04,187.69 128.04,187.13 C128.03,186.58 127.80,185.95 127.84,185.40 C127.88,184.84 128.15,184.24 128.26,183.79 C128.37,183.34 128.44,183.01 128.50,182.69 C128.55,182.36 128.49,182.11 128.57,181.84 C128.66,181.58 128.88,181.31 129.01,181.08 C129.14,180.85 129.20,180.59 129.35,180.46 C129.50,180.33 129.73,180.35 129.92,180.30 C130.10,180.25 130.28,180.21 130.48,180.17 C130.67,180.12 130.96,179.97 131.08,180.02 C131.20,180.06 131.10,180.27 131.22,180.45 C131.35,180.62 131.69,180.84 131.82,181.08 C131.96,181.32 131.95,181.66 132.03,181.90 C132.10,182.14 132.13,182.17 132.27,182.53 C132.41,182.89 132.79,183.62 132.86,184.09 C132.94,184.56 132.70,184.86 132.72,185.36 C132.73,185.85 132.88,186.47 132.97,187.06 C133.05,187.66 133.24,188.37 133.22,188.92Z" fill="none" stroke="#000" stroke-opacity="0.85" stroke-width="0.45"/>
<path d="M132.71,188.86 C132.74,189.46 132.70,190.08 132.69,190.63 C132.67,191.18 132.66,191.66 132.62,192.15 C132.57,192.65 132.46,193.15 132.41,193.59 C132.35,194.04 132.34,194.52 132.27,194.83 C132.21,195.15 132.14,195.29 132.02,195.50 C131.89,195.70 131.63,195.96 131.51,196.08 C131.39,196.21 131.42,196.13 131.31,196.25 C131.20,196.37 130.99,196.73 130.86,196.81 C130.72,196.89 130.63,196.71 130.49,196.72 C130.34,196.73 130.16,196.91 130.00,196.87 C129.85,196.84 129.65,196.64 129.55,196.50 C129.45,196.36 129.50,196.20 129.41,196.02 C129.31,195.83 129.08,195.62 128.98,195.39 C128.89,195.16 128.92,194.92 128.83,194.62 C128.74,194.33 128.51,194.03 128.44,193.62 C128.37,193.21 128.40,192.68 128.41,192.17 C128.42,191.66 128.50,191.12 128.48,190.55 C128.47,189.99 128.39,189.36 128.32,188.76 C128.26,188.17 128.09,187.61 128.10,187.00 C128.11,186.39 128.28,185.63 128.38,185.13 C128.48,184.62 128.66,184.38 128.72,183.97 C128.77,183.56 128.65,182.98 128.68,182.67 C128.71,182.36 128.77,182.33 128.87,182.11 C128.97,181.89 129.18,181.54 129.30,181.37 C129.43,181.19 129.48,181.14 129.60,181.05 C129.71,180.97 129.85,180.89 129.98,180.87 C130.12,180.84 130.26,180.93 130.41,180.89 C130.56,180.85 130.75,180.58 130.89,180.62 C131.03,180.66 131.13,180.96 131.26,181.14 C131.39,181.31 131.57,181.48 131.66,181.67 C131.74,181.87 131.71,182.11 131.77,182.32 C131.83,182.52 131.94,182.62 132.00,182.91 C132.05,183.21 132.01,183.67 132.08,184.07 C132.15,184.46 132.36,184.79 132.43,185.28 C132.50,185.76 132.46,186.40 132.51,187.00 C132.56,187.59 132.68,188.25 132.71,188.86Z" fill="none" stroke="#000" stroke-opacity="0.95" stroke-width="0.45"/>
<path d="M132.00,188.88 C131.98,189.40 132.12,189.77 132.11,190.38 C132.10,190.98 131.97,191.94 131.92,192.48 C131.87,193.01 131.81,193.24 131.79,193.58 C131.76,193.92 131.78,194.23 131.77,194.51 C131.76,194.80 131.80,195.12 131.70,195.29 C131.60,195.46 131.29,195.42 131.16,195.52 C131.03,195.62 130.98,195.76 130.90,195.88 C130.81,196.01 130.72,196.23 130.66,196.25 C130.60,196.28 130.69,196.05 130.55,196.01 C130.42,195.98 130.01,196.07 129.86,196.03 C129.72,195.99 129.76,195.84 129.70,195.76 C129.63,195.68 129.52,195.65 129.46,195.57 C129.41,195.49 129.40,195.46 129.37,195.28 C129.33,195.11 129.32,194.82 129.25,194.53 C129.19,194.24 129.05,193.86 128.98,193.52 C128.91,193.17 128.85,192.98 128.83,192.46 C128.82,191.94 128.94,190.99 128.90,190.41 C128.85,189.83 128.57,189.50 128.56,188.96 C128.55,188.42 128.81,187.75 128.82,187.15 C128.83,186.55 128.63,185.86 128.62,185.34 C128.60,184.82 128.64,184.43 128.73,184.03 C128.83,183.63 129.12,183.17 129.18,182.92 C129.24,182.67 128.99,182.71 129.08,182.55 C129.16,182.40 129.58,182.14 129.69,181.98 C129.80,181.81 129.64,181.65 129.72,181.58 C129.80,181.51 130.07,181.61 130.18,181.56 C130.28,181.50 130.22,181.30 130.35,181.26 C130.47,181.22 130.84,181.29 130.95,181.34 C131.06,181.39 130.93,181.44 131.00,181.57 C131.08,181.70 131.31,181.95 131.40,182.12 C131.48,182.29 131.46,182.46 131.51,182.60 C131.56,182.74 131.62,182.71 131.70,182.96 C131.78,183.21 131.93,183.72 132.00,184.12 C132.06,184.53 132.08,184.86 132.11,185.38 C132.15,185.89 132.21,186.63 132.19,187.21 C132.17,187.80 132.01,188.35 132.00,188.88Z" fill="none" stroke="#000" stroke-opacity="0.90" stroke-width="0.45"/>
<path d="M131.82,188.81 C131.83,189.35 131.60,189.78 131.56,190.36 C131.52,190.93 131.63,191.66 131.58,192.25 C131.53,192.83 131.32,193.47 131.27,193.86 C131.22,194.25 131.34,194.44 131.30,194.58 C131.25,194.73 131.04,194.63 131.02,194.74 C131.00,194.85 131.19,195.15 131.17,195.25 C131.16,195.36 131.04,195.30 130.93,195.38 C130.81,195.46 130.56,195.69 130.49,195.72 C130.42,195.75 130.56,195.58 130.50,195.58 C130.45,195.58 130.27,195.74 130.17,195.71 C130.08,195.68 130.01,195.45 129.94,195.38 C129.87,195.30 129.78,195.39 129.73,195.28 C129.69,195.17 129.71,194.88 129.68,194.73 C129.64,194.58 129.58,194.55 129.54,194.36 C129.49,194.17 129.42,193.93 129.40,193.62 C129.37,193.30 129.40,193.00 129.39,192.48 C129.37,191.96 129.35,191.12 129.31,190.51 C129.26,189.89 129.11,189.38 129.10,188.77 C129.09,188.17 129.21,187.41 129.24,186.86 C129.26,186.31 129.26,185.93 129.25,185.46 C129.23,185.00 129.12,184.45 129.15,184.09 C129.19,183.74 129.37,183.54 129.46,183.33 C129.54,183.12 129.61,183.00 129.67,182.83 C129.74,182.66 129.82,182.41 129.84,182.32 C129.86,182.24 129.71,182.34 129.79,182.30 C129.87,182.25 130.22,182.10 130.30,182.04 C130.38,181.98 130.23,181.97 130.29,181.95 C130.35,181.93 130.56,181.87 130.66,181.90 C130.75,181.93 130.75,182.05 130.85,182.14 C130.95,182.22 131.16,182.28 131.25,182.41 C131.35,182.54 131.41,182.77 131.41,182.91 C131.41,183.05 131.24,183.06 131.24,183.24 C131.25,183.42 131.37,183.62 131.42,183.97 C131.48,184.33 131.58,184.87 131.60,185.39 C131.61,185.91 131.49,186.55 131.53,187.12 C131.56,187.69 131.82,188.27 131.82,188.81Z" fill="none" stroke="#000" stroke-opacity="0.70" stroke-width="0.45"/>
<rect x="130.96" y="217.80" width="0.7" height="1.2" fill="#333"/>
<rect x="134.26" y="217.80" width="0.7" height="1.2" fill="#333"/>
<rect x="131.95" y="217.80" width="0.7" height="1.2" fill="#333"/>
<rect x="133.15" y="217.80" width="0.7" height="1.2" fill="#333"/>
<rect x="135.97" y="217.80" width="0.7" height="1.2" fill="#333"/>
<rect x="130.24" y="217.80" width="0.7" height="1.2" fill="#333"/>
<rect x="128.04" y="217.80" width="0.7" height="1.2" fill="#333"/>
<rect x="135.16" y="217.80" width="0.7" height="1.2" fill="#333"/>
<rect x="132.20" y="217.80" width="0.7" height="1.2" fill="#333"/>
<rect x="133.17" y="217.80" width="0.7" height="1.2" fill="#333"/>
<rect x="134.64" y="217.80" width="0.7" height="1.2" fill="#333"/>
<rect x="135.12" y="217.80" width="0.7" height="1.2" fill="#333"/>
<path d="M186.0 209.4h0.7v0.7h-0.7zM201.3 206.2h0.7v0.7h-0.7zM211.5 187.7h0.7v0.7h-0.7zM218.2 187.3h0.7v0.7h-0.7zM202.0 195.9h0.7v0.7h-0.7zM210.1 171.3h0.7v0.7h-0.7zM218.7 181.0h0.7v0.7h-0.7zM196.7 184.0h0.7v0.7h-0.7zM214.1 187.9h0.7v0.7h-0.7zM219.9 182.0h0.7v0.7h-0.7zM213.5 197.2h0.7v0.7h-0.7zM204.2 205.8h0.7v0.7h-0.7zM194.9 192.8h0.7v0.7h-0.7zM196.8 200.9h0.7v0.7h-0.7zM218.5 201.4h0.7v0.7h-0.7zM194.3 184.9h0.7v0.7h-0.7zM203.6 196.0h0.7v0.7h-0.7zM211.6 173.3h0.7v0.7h-0.7zM205.1 178.7h0.7v0.7h-0.7zM204.5 192.7h0.7v0.7h-0.7zM219.8 182.8h0.7v0.7h-0.7zM206.4 200.5h0.7v0.7h-0.7zM212.3 200.0h0.7v0.7h-0.7zM218.0 174.3h0.7v0.7h-0.7zM219.5 193.6h0.7v0.7h-0.7zM213.3 186.2h0.7v0.7h-0.7zM215.6 192.6h0.7v0.7h-0.7zM217.8 187.0h0.7v0.7h-0.7zM214.5 196.8h0.7v0.7h-0.7zM212.4 202.0h0.7v0.7h-0.7zM204.2 206.1h0.7v0.7h-0.7zM204.4 196.8h0.7v0.7h-0.7zM205.4 196.7h0.7v0.7h-0.7zM211.7 184.4h0.7v0.7h-0.7zM199.6 182.8h0.7v0.7h-0.7zM202.7 196.0h0.7v0.7h-0.7zM206.4 174.9h0.7v0.7h-0.7zM198.2 181.6h0.7v0.7h-0.7zM213.2 203.5h0.7v0.7h-0.7zM200.2 196.9h0.7v0.7h-0.7zM199.1 182.1h0.7v0.7h-0.7zM212.5 176.3h0.7v0.7h-0.7zM219.3 196.1h0.7v0.7h-0.7zM207.4 178.1h0.7v0.7h-0.7zM203.8 205.0h0.7v0.7h-0.7zM216.6 192.7h0.7v0.7h-0.7zM205.0 177.0h0.7v0.7h-0.7zM210.5 182.6h0.7v0.7h-0.7zM205.6 188.7h0.7v0.7h-0.7zM206.6 198.3h0.7v0.7h-0.7zM212.2 182.0h0.7v0.7h-0.7zM211.9 174.3h0.7v0.7h-0.7zM210.9 193.0h0.7v0.7h-0.7zM195.0 183.6h0.7v0.7h-0.7zM197.9 186.5h0.7v0.7h-0.7zM204.5 204.7h0.7v0.7h-0.7zM200.4 199.1h0.7v0.7h-0.7zM208.5 204.2h0.7v0.7h-0.7zM199.8 191.7h0.7v0.7h-0.7zM195.9 184.2h0.7v0.7h-0.7zM197.3 189.3h0.7v0.7h-0.7zM212.4 181.4h0.7v0.7h-0.7zM199.7 204.0h0.7v0.7h-0.7zM216.1 186.7h0.7v0.7h-0.7zM214.6 177.0h0.7v0.7h-0.7zM213.1 188.1h0.7v0.7h-0.7zM213.4 173.9h0.7v0.7h-0.7zM204.5 184.2h0.7v0.7h-0.7zM207.5 197.7h0.7v0.7h-0.7zM220.0 180.4h0.7v0.7h-0.7zM198.1 189.7h0.7v0.7h-0.7zM212.6 178.8h0.7v0.7h-0.7zM205.2 179.7h0.7v0.7h-0.7zM202.1 198.5h0.7v0.7h-0.7zM199.1 193.2h0.7v0.7h-0.7zM209.9 183.4h0.7v0.7h-0.7zM219.3 196.4h0.7v0.7h-0.7zM206.0 194.5h0.7v0.7h-0.7zM218.2 193.2h0.7v0.7h-0.7zM206.6 196.8h0.7v0.7h-0.7zM215.0 180.1h0.7v0.7h-0.7zM202.7 199.3h0.7v0.7h-0.7zM203.1 203.6h0.7v0.7h-0.7zM218.9 195.5h0.7v0.7h-0.7zM208.3 192.9h0.7v0.7h-0.7zM200.8 204.3h0.7v0.7h-0.7zM197.6 180.2h0.7v0.7h-0.7zM212.3 195.5h0.7v0.7h-0.7zM201.3 185.1h0.7v0.7h-0.7zM209.0 172.9h0.7v0.7h-0.7zM205.8 193.7h0.7v0.7h-0.7zM203.3 195.1h0.7v0.7h-0.7zM196.2 181.0h0.7v0.7h-0.7zM194.3 186.5h0.7v0.7h-0.7zM202.6 198.6h0.7v0.7h-0.7z" fill="#777"/>
<path d="M185.8 197.8h0.7v0.7h-0.7zM210.6 187.3h0.7v0.7h-0.7zM193.8 194.7h0.7v0.7h-0.7zM204.8 202.2h0.7v0.7h-0.7zM218.3 183.1h0.7v0.7h-0.7zM196.3 204.0h0.7v0.7h-0.7zM196.7 180.0h0.7v0.7h-0.7zM197.8 178.0h0.7v0.7h-0.7zM207.0 184.8h0.7v0.7h-0.7zM214.4 188.0h0.7v0.7h-0.7zM217.5 175.5h0.7v0.7h-0.7zM194.3 195.3h0.7v0.7h-0.7zM210.7 203.6h0.7v0.7h-0.7zM212.5 185.5h0.7v0.7h-0.7zM203.3 200.4h0.7v0.7h-0.7zM210.7 203.9h0.7v0.7h-0.7zM210.0 191.3h0.7v0.7h-0.7zM203.7 181.2h0.7v0.7h-0.7zM212.6 187.3h0.7v0.7h-0.7zM214.7 179.1h0.7v0.7h-0.7zM204.2 182.9h0.7v0.7h-0.7zM218.4 183.5h0.7v0.7h-0.7zM220.7 182.7h0.7v0.7h-0.7zM208.0 196.4h0.7v0.7h-0.7zM201.8 201.8h0.7v0.7h-0.7zM214.3 191.0h0.7v0.7h-0.7zM204.2 200.8h0.7v0.7h-0.7zM218.2 191.7h0.7v0.7h-0.7zM198.4 198.1h0.7v0.7h-0.7zM204.5 176.9h0.7v0.7h-0.7zM213.7 179.7h0.7v0.7h-0.7zM207.9 203.2h0.7v0.7h-0.7zM196.5 203.1h0.7v0.7h-0.7zM197.4 193.0h0.7v0.7h-0.7zM202.7 189.0h0.7v0.7h-0.7zM219.8 179.1h0.7v0.7h-0.7zM204.4 180.1h0.7v0.7h-0.7zM199.3 179.8h0.7v0.7h-0.7zM206.3 173.7h0.7v0.7h-0.7zM198.0 202.2h0.7v0.7h-0.7zM218.2 183.3h0.7v0.7h-0.7zM204.3 190.6h0.7v0.7h-0.7zM205.4 187.5h0.7v0.7h-0.7zM216.2 190.9h0.7v0.7h-0.7zM205.6 202.7h0.7v0.7h-0.7zM212.0 183.6h0.7v0.7h-0.7zM211.3 194.5h0.7v0.7h-0.7zM215.0 195.6h0.7v0.7h-0.7zM204.6 176.4h0.7v0.7h-0.7zM201.2 204.0h0.7v0.7h-0.7zM211.1 206.0h0.7v0.7h-0.7zM205.3 180.4h0.7v0.7h-0.7zM216.2 199.6h0.7v0.7h-0.7zM210.0 203.3h0.7v0.7h-0.7zM216.7 194.7h0.7v0.7h-0.7zM212.9 196.1h0.7v0.7h-0.7zM219.3 177.9h0.7v0.7h-0.7zM221.3 188.4h0.7v0.7h-0.7zM207.9 188.8h0.7v0.7h-0.7zM209.1 191.5h0.7v0.7h-0.7zM200.8 190.5h0.7v0.7h-0.7zM214.9 180.6h0.7v0.7h-0.7zM199.6 197.4h0.7v0.7h-0.7zM208.0 180.2h0.7v0.7h-0.7zM217.2 186.5h0.7v0.7h-0.7zM204.9 187.4h0.7v0.7h-0.7zM213.0 196.0h0.7v0.7h-0.7zM193.9 195.7h0.7v0.7h-0.7zM208.4 174.0h0.7v0.7h-0.7zM198.0 199.3h0.7v0.7h-0.7zM205.5 203.5h0.7v0.7h-0.7zM208.0 197.4h0.7v0.7h-0.7zM211.0 188.6h0.7v0.7h-0.7zM201.7 205.0h0.7v0.7h-0.7zM200.0 192.7h0.7v0.7h-0.7zM197.8 201.1h0.7v0.7h-0.7zM209.2 182.8h0.7v0.7h-0.7zM213.1 184.0h0.7v0.7h-0.7zM199.2 198.2h0.7v0.7h-0.7zM202.4 205.5h0.7v0.7h-0.7zM193.7 191.0h0.7v0.7h-0.7zM220.8 183.3h0.7v0.7h-0.7z" fill="#999"/>
<path d="M199.9 197.9h0.7v0.7h-0.7zM219.0 179.9h0.7v0.7h-0.7zM202.8 197.0h0.7v0.7h-0.7zM210.3 182.8h0.7v0.7h-0.7zM218.5 201.1h0.7v0.7h-0.7zM202.5 198.2h0.7v0.7h-0.7zM226.6 188.6h0.7v0.7h-0.7zM194.5 191.3h0.7v0.7h-0.7zM195.4 185.9h0.7v0.7h-0.7zM201.0 197.5h0.7v0.7h-0.7zM199.4 178.9h0.7v0.7h-0.7zM210.1 176.4h0.7v0.7h-0.7zM197.1 186.1h0.7v0.7h-0.7zM193.8 189.1h0.7v0.7h-0.7zM200.1 190.0h0.7v0.7h-0.7zM201.7 184.5h0.7v0.7h-0.7zM214.1 182.1h0.7v0.7h-0.7zM201.8 185.5h0.7v0.7h-0.7zM211.4 199.8h0.7v0.7h-0.7zM210.8 200.4h0.7v0.7h-0.7zM209.1 204.7h0.7v0.7h-0.7zM197.6 188.0h0.7v0.7h-0.7zM197.0 190.4h0.7v0.7h-0.7zM216.6 198.3h0.7v0.7h-0.7zM215.3 196.1h0.7v0.7h-0.7zM215.9 186.7h0.7v0.7h-0.7zM199.0 190.2h0.7v0.7h-0.7zM197.4 201.4h0.7v0.7h-0.7zM197.1 192.0h0.7v0.7h-0.7zM200.4 196.6h0.7v0.7h-0.7zM220.2 179.1h0.7v0.7h-0.7zM212.3 184.2h0.7v0.7h-0.7zM205.5 201.7h0.7v0.7h-0.7zM193.2 186.9h0.7v0.7h-0.7zM213.8 176.0h0.7v0.7h-0.7zM204.6 185.0h0.7v0.7h-0.7zM207.8 197.3h0.7v0.7h-0.7zM202.6 191.2h0.7v0.7h-0.7zM201.4 185.0h0.7v0.7h-0.7zM205.1 177.6h0.7v0.7h-0.7zM203.7 196.3h0.7v0.7h-0.7zM202.3 202.7h0.7v0.7h-0.7zM199.7 187.5h0.7v0.7h-0.7zM201.0 187.3h0.7v0.7h-0.7zM198.8 186.8h0.7v0.7h-0.7zM204.5 188.5h0.7v0.7h-0.7zM216.0 190.4h0.7v0.7h-0.7zM214.4 183.3h0.7v0.7h-0.7zM210.2 181.6h0.7v0.7h-0.7zM209.4 202.0h0.7v0.7h-0.7zM207.4 205.4h0.7v0.7h-0.7zM213.6 195.5h0.7v0.7h-0.7zM210.3 194.5h0.7v0.7h-0.7zM212.0 179.8h0.7v0.7h-0.7zM202.7 179.0h0.7v0.7h-0.7zM200.2 188.8h0.7v0.7h-0.7zM203.4 190.9h0.7v0.7h-0.7zM194.4 194.2h0.7v0.7h-0.7zM205.3 187.9h0.7v0.7h-0.7zM214.7 187.2h0.7v0.7h-0.7zM206.2 176.8h0.7v0.7h-0.7zM197.7 194.2h0.7v0.7h-0.7zM201.0 203.1h0.7v0.7h-0.7zM208.1 191.2h0.7v0.7h-0.7zM205.0 190.9h0.7v0.7h-0.7zM200.1 182.7h0.7v0.7h-0.7zM217.7 175.5h0.7v0.7h-0.7zM200.7 198.7h0.7v0.7h-0.7zM210.6 190.9h0.7v0.7h-0.7zM206.9 188.0h0.7v0.7h-0.7zM202.2 193.1h0.7v0.7h-0.7zM210.2 175.8h0.7v0.7h-0.7zM196.8 185.7h0.7v0.7h-0.7zM201.9 196.2h0.7v0.7h-0.7zM200.5 193.6h0.7v0.7h-0.7zM204.7 191.4h0.7v0.7h-0.7z" fill="#888"/>
<path d="M207.8 187.1h0.7v0.7h-0.7zM205.5 193.1h0.7v0.7h-0.7zM210.0 202.5h0.7v0.7h-0.7zM202.9 191.1h0.7v0.7h-0.7zM201.8 190.1h0.7v0.7h-0.7zM194.4 199.1h0.7v0.7h-0.7zM218.6 175.1h0.7v0.7h-0.7zM219.3 174.3h0.7v0.7h-0.7zM202.2 184.3h0.7v0.7h-0.7zM192.3 181.9h0.7v0.7h-0.7zM214.2 181.4h0.7v0.7h-0.7zM193.2 190.5h0.7v0.7h-0.7zM196.1 190.0h0.7v0.7h-0.7zM204.9 205.6h0.7v0.7h-0.7zM209.9 193.9h0.7v0.7h-0.7zM196.2 183.4h0.7v0.7h-0.7zM219.3 191.4h0.7v0.7h-0.7zM201.6 204.4h0.7v0.7h-0.7zM205.0 177.6h0.7v0.7h-0.7zM213.9 196.9h0.7v0.7h-0.7zM197.5 203.4h0.7v0.7h-0.7zM212.8 175.3h0.7v0.7h-0.7zM208.6 191.0h0.7v0.7h-0.7zM215.5 177.3h0.7v0.7h-0.7zM210.3 198.3h0.7v0.7h-0.7zM194.9 186.7h0.7v0.7h-0.7zM219.2 199.5h0.7v0.7h-0.7zM219.2 196.5h0.7v0.7h-0.7zM199.8 195.9h0.7v0.7h-0.7zM195.3 197.5h0.7v0.7h-0.7zM200.2 183.7h0.7v0.7h-0.7zM208.2 183.0h0.7v0.7h-0.7zM218.1 198.0h0.7v0.7h-0.7zM213.1 182.2h0.7v0.7h-0.7zM207.4 187.9h0.7v0.7h-0.7zM193.5 186.3h0.7v0.7h-0.7zM207.3 191.5h0.7v0.7h-0.7zM207.7 197.9h0.7v0.7h-0.7zM214.1 203.1h0.7v0.7h-0.7zM206.6 174.8h0.7v0.7h-0.7zM202.4 188.4h0.7v0.7h-0.7zM205.1 187.6h0.7v0.7h-0.7zM207.6 197.8h0.7v0.7h-0.7zM216.3 197.4h0.7v0.7h-0.7zM209.5 175.3h0.7v0.7h-0.7zM202.0 195.9h0.7v0.7h-0.7zM207.8 173.7h0.7v0.7h-0.7zM196.6 184.7h0.7v0.7h-0.7zM197.0 184.9h0.7v0.7h-0.7zM214.7 180.5h0.7v0.7h-0.7zM194.8 180.4h0.7v0.7h-0.7zM204.4 198.4h0.7v0.7h-0.7zM212.3 179.9h0.7v0.7h-0.7zM198.0 187.5h0.7v0.7h-0.7zM194.8 199.8h0.7v0.7h-0.7zM203.4 191.6h0.7v0.7h-0.7zM217.6 178.6h0.7v0.7h-0.7zM204.8 199.7h0.7v0.7h-0.7zM197.8 199.2h0.7v0.7h-0.7zM213.2 191.5h0.7v0.7h-0.7zM207.0 203.4h0.7v0.7h-0.7zM218.5 190.1h0.7v0.7h-0.7zM209.7 204.5h0.7v0.7h-0.7zM213.5 203.6h0.7v0.7h-0.7zM202.6 181.7h0.7v0.7h-0.7zM200.7 202.2h0.7v0.7h-0.7zM207.8 195.5h0.7v0.7h-0.7zM216.3 195.6h0.7v0.7h-0.7zM204.3 204.2h0.7v0.7h-0.7zM204.8 179.0h0.7v0.7h-0.7zM219.3 179.0h0.7v0.7h-0.7zM215.0 179.7h0.7v0.7h-0.7zM220.7 191.7h0.7v0.7h-0.7zM215.8 183.3h0.7v0.7h-0.7zM194.8 186.9h0.7v0.7h-0.7zM193.9 183.7h0.7v0.7h-0.7zM196.3 191.2h0.7v0.7h-0.7z" fill="#aaa"/>
<path d="M208.9 177.6h0.7v0.7h-0.7zM213.9 198.7h0.7v0.7h-0.7zM221.0 187.7h0.7v0.7h-0.7zM194.8 185.8h0.7v0.7h-0.7zM201.7 180.7h0.7v0.7h-0.7zM205.0 189.2h0.7v0.7h-0.7zM200.6 182.8h0.7v0.7h-0.7zM207.6 192.4h0.7v0.7h-0.7zM215.0 181.9h0.7v0.7h-0.7z" fill="#bbb"/>
<path d="M214.8 196.1h0.7v0.7h-0.7zM206.8 174.3h0.7v0.7h-0.7zM217.8 183.4h0.7v0.7h-0.7zM216.3 181.1h0.7v0.7h-0.7zM195.7 201.6h0.7v0.7h-0.7zM201.9 184.1h0.7v0.7h-0.7zM195.0 199.3h0.7v0.7h-0.7zM205.6 190.7h0.7v0.7h-0.7zM198.5 193.8h0.7v0.7h-0.7zM204.0 198.4h0.7v0.7h-0.7zM206.5 200.9h0.7v0.7h-0.7zM201.9 190.2h0.7v0.7h-0.7zM207.3 201.3h0.7v0.7h-0.7zM204.5 191.4h0.7v0.7h-0.7zM197.8 184.4h0.7v0.7h-0.7zM212.6 188.2h0.7v0.7h-0.7zM217.6 198.4h0.7v0.7h-0.7zM213.9 198.6h0.7v0.7h-0.7zM216.8 189.0h0.7v0.7h-0.7zM200.8 183.7h0.7v0.7h-0.7zM218.4 195.3h0.7v0.7h-0.7zM193.1 195.4h0.7v0.7h-0.7zM195.6 200.6h0.7v0.7h-0.7zM206.2 178.4h0.7v0.7h-0.7zM194.4 184.4h0.7v0.7h-0.7zM200.4 180.5h0.7v0.7h-0.7zM201.8 175.0h0.7v0.7h-0.7zM202.1 196.0h0.7v0.7h-0.7zM218.1 199.9h0.7v0.7h-0.7zM195.7 192.0h0.7v0.7h-0.7zM208.0 184.3h0.7v0.7h-0.7zM216.5 191.8h0.7v0.7h-0.7zM201.5 198.4h0.7v0.7h-0.7zM213.1 185.0h0.7v0.7h-0.7zM212.1 187.3h0.7v0.7h-0.7zM204.3 181.0h0.7v0.7h-0.7zM202.0 188.6h0.7v0.7h-0.7zM196.6 189.7h0.7v0.7h-0.7zM197.6 192.9h0.7v0.7h-0.7zM201.1 193.9h0.7v0.7h-0.7zM217.8 178.8h0.7v0.7h-0.7zM211.6 200.6h0.7v0.7h-0.7zM213.0 195.1h0.7v0.7h-0.7zM201.5 191.0h0.7v0.7h-0.7zM201.7 204.1h0.7v0.7h-0.7zM212.0 190.3h0.7v0.7h-0.7zM216.7 191.4h0.7v0.7h-0.7zM203.3 179.9h0.7v0.7h-0.7zM193.4 180.8h0.7v0.7h-0.7zM199.8 182.9h0.7v0.7h-0.7zM220.7 191.1h0.7v0.7h-0.7zM210.4 185.4h0.7v0.7h-0.7zM205.3 204.0h0.7v0.7h-0.7zM196.5 194.6h0.7v0.7h-0.7zM198.1 199.7h0.7v0.7h-0.7zM202.7 180.9h0.7v0.7h-0.7zM200.5 189.5h0.7v0.7h-0.7zM204.9 176.9h0.7v0.7h-0.7zM219.1 184.5h0.7v0.7h-0.7zM211.6 205.1h0.7v0.7h-0.7zM203.7 201.4h0.7v0.7h-0.7zM196.1 202.2h0.7v0.7h-0.7zM209.8 200.6h0.7v0.7h-0.7zM201.5 199.1h0.7v0.7h-0.7zM207.3 187.2h0.7v0.7h-0.7zM198.3 201.5h0.7v0.7h-0.7zM202.2 183.3h0.7v0.7h-0.7zM209.9 195.5h0.7v0.7h-0.7zM201.0 196.0h0.7v0.7h-0.7zM203.3 176.5h0.7v0.7h-0.7zM221.2 188.1h0.7v0.7h-0.7zM200.4 179.0h0.7v0.7h-0.7zM208.4 199.9h0.7v0.7h-0.7zM208.6 173.5h0.7v0.7h-0.7zM220.7 185.0h0.7v0.7h-0.7zM199.5 175.9h0.7v0.7h-0.7zM215.0 189.5h0.7v0.7h-0.7zM216.2 190.3h0.7v0.7h-0.7zM209.2 176.4h0.7v0.7h-0.7zM220.1 182.9h0.7v0.7h-0.7zM199.3 183.6h0.7v0.7h-0.7zM195.7 181.6h0.7v0.7h-0.7zM194.4 179.9h0.7v0.7h-0.7zM209.7 200.0h0.7v0.7h-0.7zM201.1 186.6h0.7v0.7h-0.7z" fill="#666"/>
<path d="M195.01,181.47 C195.55,180.42 196.88,179.83 197.82,179.00 C198.76,178.18 199.67,177.12 200.67,176.51 C201.68,175.91 202.81,175.74 203.85,175.38 C204.88,175.02 205.88,174.55 206.89,174.35 C207.91,174.15 208.91,174.26 209.94,174.18 C210.97,174.09 212.14,173.75 213.05,173.85 C213.96,173.94 214.56,174.52 215.40,174.75 C216.24,174.98 217.49,174.74 218.08,175.22 C218.67,175.70 218.61,176.78 218.93,177.62 C219.26,178.46 219.86,178.99 220.04,180.27 C220.23,181.55 220.05,183.59 220.05,185.30 C220.05,187.02 220.27,188.98 220.03,190.57 C219.79,192.16 219.02,193.45 218.62,194.84 C218.21,196.23 218.33,197.80 217.60,198.89 C216.86,199.98 215.26,200.54 214.22,201.38 C213.18,202.23 212.46,203.51 211.34,203.97 C210.22,204.43 208.76,204.12 207.49,204.15 C206.22,204.18 204.90,204.29 203.74,204.14 C202.58,204.00 201.52,203.58 200.55,203.27 C199.58,202.96 198.67,202.97 197.92,202.28 C197.17,201.59 196.65,200.12 196.03,199.13 C195.41,198.13 194.48,197.43 194.20,196.31 C193.93,195.18 194.40,193.68 194.37,192.38 C194.34,191.08 193.98,189.69 194.01,188.51 C194.05,187.33 194.39,186.48 194.56,185.31 C194.73,184.14 194.47,182.52 195.01,181.47Z" fill="none" stroke="#000" stroke-opacity="0.42" stroke-width="0.45" stroke-dasharray="0.7 0.45"/>
<path d="M196.74,183.43 C197.32,182.41 198.56,181.40 199.45,180.55 C200.34,179.70 201.09,179.01 202.08,178.36 C203.07,177.70 204.42,177.05 205.38,176.63 C206.34,176.21 207.02,176.02 207.83,175.84 C208.65,175.65 209.46,175.57 210.29,175.52 C211.13,175.47 212.13,175.50 212.85,175.55 C213.57,175.61 213.97,175.67 214.63,175.86 C215.28,176.06 216.28,176.25 216.79,176.73 C217.30,177.21 217.39,178.08 217.70,178.74 C218.00,179.41 218.51,179.72 218.61,180.71 C218.71,181.69 218.32,183.29 218.28,184.64 C218.25,186.00 218.68,187.51 218.41,188.85 C218.15,190.18 217.21,191.32 216.71,192.65 C216.21,193.98 216.18,195.71 215.41,196.83 C214.63,197.95 213.01,198.61 212.05,199.37 C211.09,200.13 210.56,201.01 209.63,201.38 C208.70,201.75 207.49,201.48 206.47,201.58 C205.45,201.68 204.41,202.08 203.52,201.98 C202.64,201.88 201.98,201.28 201.16,200.96 C200.34,200.65 199.27,200.59 198.60,200.09 C197.94,199.59 197.60,198.71 197.18,197.96 C196.76,197.21 196.27,196.54 196.07,195.60 C195.87,194.66 196.02,193.36 195.98,192.34 C195.93,191.31 195.81,190.38 195.81,189.44 C195.80,188.51 195.80,187.73 195.95,186.73 C196.11,185.73 196.16,184.46 196.74,183.43Z" fill="none" stroke="#000" stroke-opacity="0.45" stroke-width="0.45" stroke-dasharray="0.7 0.45"/>
<path d="M215.9 180.6h0.7v0.7h-0.7zM211.7 187.6h0.7v0.7h-0.7zM208.2 182.4h0.7v0.7h-0.7zM208.7 196.7h0.7v0.7h-0.7zM211.7 199.4h0.7v0.7h-0.7zM207.8 193.0h0.7v0.7h-0.7zM210.5 201.6h0.7v0.7h-0.7zM211.1 200.3h0.7v0.7h-0.7zM214.1 188.5h0.7v0.7h-0.7zM206.5 186.3h0.7v0.7h-0.7zM213.5 180.5h0.7v0.7h-0.7zM211.9 174.9h0.7v0.7h-0.7zM217.9 180.4h0.7v0.7h-0.7zM211.8 192.2h0.7v0.7h-0.7zM212.9 192.0h0.7v0.7h-0.7zM216.9 183.7h0.7v0.7h-0.7zM207.5 185.5h0.7v0.7h-0.7zM211.2 188.7h0.7v0.7h-0.7zM214.3 191.4h0.7v0.7h-0.7zM211.4 178.8h0.7v0.7h-0.7zM207.1 199.9h0.7v0.7h-0.7zM208.3 185.0h0.7v0.7h-0.7zM217.3 186.8h0.7v0.7h-0.7zM213.2 198.9h0.7v0.7h-0.7zM215.2 185.9h0.7v0.7h-0.7zM211.8 175.2h0.7v0.7h-0.7zM213.9 194.3h0.7v0.7h-0.7zM216.1 176.2h0.7v0.7h-0.7z" fill="#aaa"/>
<path d="M207.9 195.6h0.7v0.7h-0.7zM208.2 198.7h0.7v0.7h-0.7zM207.6 186.8h0.7v0.7h-0.7zM217.5 178.7h0.7v0.7h-0.7zM214.5 196.6h0.7v0.7h-0.7zM215.9 188.2h0.7v0.7h-0.7zM208.8 191.2h0.7v0.7h-0.7zM217.5 182.1h0.7v0.7h-0.7zM210.5 183.6h0.7v0.7h-0.7zM208.2 196.1h0.7v0.7h-0.7zM207.3 193.5h0.7v0.7h-0.7zM209.4 197.3h0.7v0.7h-0.7zM206.9 192.6h0.7v0.7h-0.7zM209.6 199.7h0.7v0.7h-0.7zM217.0 176.5h0.7v0.7h-0.7zM211.8 185.4h0.7v0.7h-0.7zM210.2 192.3h0.7v0.7h-0.7zM215.0 184.6h0.7v0.7h-0.7zM217.7 179.0h0.7v0.7h-0.7zM211.1 193.7h0.7v0.7h-0.7zM213.0 190.4h0.7v0.7h-0.7zM208.1 195.8h0.7v0.7h-0.7zM208.4 186.7h0.7v0.7h-0.7zM218.3 183.1h0.7v0.7h-0.7zM210.3 178.6h0.7v0.7h-0.7zM207.1 184.8h0.7v0.7h-0.7zM210.8 177.2h0.7v0.7h-0.7zM212.9 178.6h0.7v0.7h-0.7zM217.5 179.4h0.7v0.7h-0.7zM209.5 196.9h0.7v0.7h-0.7zM213.4 172.9h0.7v0.7h-0.7z" fill="#999"/>
<path d="M206.4 199.7h0.7v0.7h-0.7zM211.9 184.3h0.7v0.7h-0.7zM211.1 189.4h0.7v0.7h-0.7zM207.7 196.7h0.7v0.7h-0.7zM215.1 174.9h0.7v0.7h-0.7zM214.5 186.1h0.7v0.7h-0.7zM206.8 194.7h0.7v0.7h-0.7zM208.3 192.5h0.7v0.7h-0.7zM209.8 199.6h0.7v0.7h-0.7zM208.4 184.1h0.7v0.7h-0.7zM206.4 188.8h0.7v0.7h-0.7zM209.6 192.3h0.7v0.7h-0.7zM217.5 183.1h0.7v0.7h-0.7zM212.7 174.3h0.7v0.7h-0.7zM212.2 187.2h0.7v0.7h-0.7zM216.1 175.2h0.7v0.7h-0.7zM212.0 185.7h0.7v0.7h-0.7zM209.1 180.9h0.7v0.7h-0.7zM212.9 175.2h0.7v0.7h-0.7zM215.2 181.8h0.7v0.7h-0.7zM209.6 196.6h0.7v0.7h-0.7zM209.3 193.5h0.7v0.7h-0.7zM215.5 175.0h0.7v0.7h-0.7zM214.2 175.7h0.7v0.7h-0.7zM208.9 196.4h0.7v0.7h-0.7zM210.0 179.8h0.7v0.7h-0.7zM215.0 179.0h0.7v0.7h-0.7zM216.9 189.8h0.7v0.7h-0.7zM208.9 188.4h0.7v0.7h-0.7zM209.9 185.3h0.7v0.7h-0.7zM211.8 197.6h0.7v0.7h-0.7zM209.3 194.8h0.7v0.7h-0.7zM218.0 180.5h0.7v0.7h-0.7z" fill="#666"/>
<path d="M216.2 187.3h0.7v0.7h-0.7zM216.0 178.9h0.7v0.7h-0.7zM210.9 195.4h0.7v0.7h-0.7zM209.4 179.3h0.7v0.7h-0.7zM215.5 190.8h0.7v0.7h-0.7zM214.4 187.3h0.7v0.7h-0.7zM212.4 195.7h0.7v0.7h-0.7zM215.5 184.7h0.7v0.7h-0.7zM213.9 189.7h0.7v0.7h-0.7zM208.1 190.4h0.7v0.7h-0.7zM213.7 175.1h0.7v0.7h-0.7zM216.1 176.2h0.7v0.7h-0.7zM213.3 184.3h0.7v0.7h-0.7zM212.7 193.2h0.7v0.7h-0.7zM208.7 189.2h0.7v0.7h-0.7zM208.0 193.5h0.7v0.7h-0.7zM212.1 190.9h0.7v0.7h-0.7zM208.9 190.4h0.7v0.7h-0.7zM212.0 198.9h0.7v0.7h-0.7zM211.7 181.4h0.7v0.7h-0.7zM214.3 175.8h0.7v0.7h-0.7zM214.8 180.3h0.7v0.7h-0.7zM207.9 190.1h0.7v0.7h-0.7zM207.1 189.4h0.7v0.7h-0.7zM217.8 179.1h0.7v0.7h-0.7zM217.4 176.0h0.7v0.7h-0.7zM213.7 177.0h0.7v0.7h-0.7zM214.4 190.3h0.7v0.7h-0.7zM206.1 192.2h0.7v0.7h-0.7zM212.4 187.4h0.7v0.7h-0.7z" fill="#777"/>
<path d="M217.0 181.4h0.7v0.7h-0.7zM209.0 194.6h0.7v0.7h-0.7zM216.9 183.4h0.7v0.7h-0.7zM211.2 184.1h0.7v0.7h-0.7zM214.2 186.0h0.7v0.7h-0.7zM209.9 186.1h0.7v0.7h-0.7zM206.1 187.8h0.7v0.7h-0.7zM210.0 182.6h0.7v0.7h-0.7zM210.5 193.9h0.7v0.7h-0.7zM216.2 181.8h0.7v0.7h-0.7zM205.6 190.1h0.7v0.7h-0.7zM215.3 173.5h0.7v0.7h-0.7zM216.0 174.2h0.7v0.7h-0.7zM216.4 188.5h0.7v0.7h-0.7zM215.5 184.6h0.7v0.7h-0.7zM211.5 182.0h0.7v0.7h-0.7zM206.5 199.3h0.7v0.7h-0.7zM210.3 176.6h0.7v0.7h-0.7z" fill="#888"/>
<path d="M215.29,188.07 C215.00,189.27 214.60,190.58 214.21,191.61 C213.82,192.64 213.39,193.51 212.96,194.25 C212.52,194.98 212.04,195.59 211.58,196.01 C211.12,196.43 210.64,196.69 210.17,196.75 C209.70,196.82 209.14,196.68 208.75,196.40 C208.37,196.12 208.07,195.67 207.86,195.08 C207.65,194.49 207.51,193.73 207.47,192.88 C207.43,192.03 207.47,191.05 207.61,189.96 C207.74,188.87 208.01,187.52 208.31,186.33 C208.60,185.13 209.00,183.82 209.39,182.79 C209.78,181.76 210.21,180.89 210.64,180.15 C211.08,179.42 211.56,178.81 212.02,178.39 C212.48,177.97 212.96,177.71 213.43,177.65 C213.90,177.58 214.46,177.72 214.85,178.00 C215.23,178.28 215.53,178.73 215.74,179.32 C215.95,179.91 216.09,180.67 216.13,181.52 C216.17,182.37 216.13,183.35 215.99,184.44 C215.86,185.53 215.59,186.88 215.29,188.07Z" fill="#dadada" fill-opacity="1" stroke="none"/>
<path d="M215.46,188.12 C215.33,188.72 215.00,189.40 214.81,190.00 C214.62,190.59 214.54,191.21 214.31,191.66 C214.07,192.12 213.61,192.28 213.40,192.74 C213.19,193.19 213.24,194.01 213.04,194.39 C212.85,194.76 212.47,194.72 212.22,195.01 C211.97,195.30 211.76,195.94 211.56,196.14 C211.35,196.35 211.23,196.15 210.98,196.23 C210.73,196.32 210.29,196.60 210.05,196.64 C209.82,196.68 209.75,196.52 209.56,196.48 C209.37,196.43 209.14,196.49 208.91,196.36 C208.68,196.24 208.38,195.89 208.18,195.71 C207.98,195.52 207.83,195.52 207.72,195.23 C207.60,194.94 207.52,194.37 207.48,193.95 C207.43,193.52 207.43,193.08 207.42,192.69 C207.42,192.31 207.37,192.08 207.43,191.62 C207.48,191.16 207.64,190.48 207.75,189.93 C207.86,189.38 207.99,188.89 208.11,188.31 C208.22,187.72 208.32,187.04 208.45,186.42 C208.58,185.80 208.71,185.16 208.88,184.56 C209.05,183.97 209.26,183.37 209.48,182.83 C209.70,182.30 209.99,181.77 210.21,181.34 C210.43,180.92 210.62,180.58 210.80,180.26 C210.99,179.93 211.12,179.73 211.31,179.41 C211.50,179.09 211.69,178.55 211.93,178.35 C212.18,178.15 212.52,178.30 212.75,178.21 C212.99,178.11 213.08,177.82 213.32,177.78 C213.56,177.75 213.96,177.94 214.20,177.99 C214.44,178.04 214.56,177.93 214.77,178.07 C214.98,178.20 215.28,178.58 215.45,178.81 C215.63,179.05 215.73,179.19 215.82,179.46 C215.91,179.73 215.96,180.10 215.99,180.44 C216.02,180.79 215.96,181.08 216.00,181.53 C216.05,181.98 216.28,182.69 216.25,183.16 C216.22,183.63 215.93,183.82 215.81,184.36 C215.69,184.90 215.60,185.76 215.54,186.39 C215.48,187.02 215.58,187.52 215.46,188.12Z" fill="none" stroke="#000" stroke-opacity="0.65" stroke-width="0.45"/>
<path d="M214.64,188.05 C214.50,188.65 214.24,189.10 214.12,189.65 C214.00,190.20 214.06,190.82 213.90,191.33 C213.74,191.85 213.37,192.28 213.16,192.72 C212.95,193.16 212.84,193.61 212.65,193.97 C212.45,194.33 212.20,194.58 212.01,194.86 C211.83,195.14 211.74,195.48 211.54,195.64 C211.34,195.80 211.03,195.71 210.83,195.84 C210.63,195.96 210.52,196.32 210.34,196.40 C210.15,196.47 209.98,196.33 209.72,196.29 C209.46,196.25 208.98,196.29 208.78,196.14 C208.58,195.98 208.60,195.55 208.53,195.36 C208.46,195.17 208.44,195.24 208.35,194.98 C208.26,194.73 208.04,194.17 207.97,193.81 C207.90,193.45 207.96,193.22 207.94,192.81 C207.93,192.40 207.88,191.79 207.89,191.35 C207.89,190.92 207.89,190.67 207.97,190.19 C208.05,189.70 208.24,189.07 208.37,188.47 C208.50,187.87 208.56,187.20 208.74,186.58 C208.92,185.96 209.26,185.38 209.45,184.75 C209.65,184.11 209.74,183.27 209.93,182.77 C210.12,182.27 210.41,182.20 210.60,181.76 C210.79,181.32 210.92,180.54 211.07,180.13 C211.22,179.72 211.28,179.55 211.51,179.28 C211.74,179.02 212.24,178.72 212.45,178.56 C212.66,178.40 212.63,178.40 212.77,178.33 C212.90,178.25 213.03,178.16 213.27,178.11 C213.50,178.07 213.97,178.01 214.17,178.07 C214.37,178.13 214.31,178.31 214.47,178.46 C214.64,178.61 215.03,178.78 215.16,178.97 C215.30,179.16 215.22,179.40 215.30,179.60 C215.38,179.80 215.54,179.85 215.64,180.17 C215.74,180.49 215.94,181.02 215.91,181.50 C215.88,181.97 215.54,182.54 215.48,183.02 C215.42,183.50 215.63,183.87 215.54,184.37 C215.45,184.87 215.10,185.40 214.95,186.01 C214.80,186.63 214.78,187.44 214.64,188.05Z" fill="none" stroke="#000" stroke-opacity="0.80" stroke-width="0.45"/>
<path d="M214.36,187.61 C214.21,188.20 213.79,188.81 213.61,189.41 C213.42,190.01 213.39,190.67 213.25,191.22 C213.11,191.76 212.96,192.18 212.79,192.68 C212.62,193.18 212.41,193.88 212.24,194.21 C212.08,194.54 212.00,194.45 211.81,194.67 C211.61,194.88 211.29,195.33 211.08,195.52 C210.88,195.72 210.74,195.77 210.58,195.84 C210.41,195.92 210.26,195.97 210.09,195.98 C209.92,195.99 209.73,195.95 209.56,195.89 C209.39,195.84 209.17,195.74 209.07,195.65 C208.97,195.56 209.05,195.52 208.93,195.35 C208.82,195.18 208.50,194.83 208.39,194.62 C208.28,194.42 208.29,194.33 208.28,194.09 C208.28,193.85 208.32,193.60 208.36,193.17 C208.41,192.75 208.53,192.07 208.57,191.54 C208.61,191.01 208.54,190.53 208.59,190.01 C208.65,189.50 208.80,188.99 208.92,188.44 C209.03,187.89 209.12,187.32 209.26,186.71 C209.40,186.10 209.55,185.42 209.75,184.79 C209.95,184.16 210.25,183.45 210.46,182.93 C210.66,182.41 210.85,182.11 210.99,181.66 C211.13,181.21 211.11,180.54 211.29,180.20 C211.47,179.86 211.86,179.82 212.07,179.62 C212.29,179.42 212.40,179.17 212.57,179.02 C212.73,178.87 212.88,178.83 213.05,178.72 C213.23,178.62 213.46,178.45 213.61,178.39 C213.77,178.33 213.86,178.33 213.99,178.34 C214.12,178.35 214.26,178.32 214.37,178.43 C214.48,178.55 214.52,178.83 214.63,179.02 C214.74,179.20 214.89,179.35 215.02,179.55 C215.14,179.75 215.29,179.89 215.37,180.20 C215.44,180.52 215.52,181.02 215.46,181.45 C215.41,181.88 215.13,182.36 215.03,182.79 C214.94,183.22 214.97,183.50 214.88,184.02 C214.80,184.53 214.60,185.28 214.51,185.88 C214.43,186.48 214.51,187.03 214.36,187.61Z" fill="none" stroke="#000" stroke-opacity="0.80" stroke-width="0.45"/>
<path d="M213.52,187.49 C213.39,188.12 213.45,189.01 213.34,189.60 C213.23,190.20 213.09,190.55 212.87,191.07 C212.65,191.59 212.23,192.26 212.03,192.73 C211.83,193.20 211.78,193.56 211.67,193.88 C211.56,194.19 211.51,194.45 211.37,194.63 C211.24,194.81 211.01,194.84 210.85,194.96 C210.68,195.09 210.46,195.33 210.37,195.39 C210.28,195.46 210.42,195.32 210.30,195.33 C210.18,195.34 209.81,195.43 209.64,195.43 C209.47,195.43 209.35,195.41 209.26,195.32 C209.18,195.22 209.21,194.99 209.11,194.86 C209.02,194.74 208.75,194.73 208.71,194.56 C208.68,194.39 208.88,194.05 208.89,193.84 C208.89,193.64 208.71,193.67 208.72,193.31 C208.73,192.95 208.83,192.18 208.92,191.70 C209.01,191.22 209.13,190.99 209.26,190.45 C209.39,189.90 209.58,189.07 209.68,188.45 C209.78,187.82 209.73,187.28 209.87,186.70 C210.01,186.13 210.34,185.58 210.52,184.99 C210.69,184.40 210.73,183.71 210.90,183.17 C211.07,182.63 211.40,182.23 211.54,181.75 C211.67,181.28 211.61,180.72 211.73,180.33 C211.85,179.95 212.05,179.64 212.25,179.44 C212.45,179.24 212.76,179.23 212.92,179.14 C213.09,179.05 213.14,178.98 213.24,178.89 C213.34,178.80 213.38,178.62 213.51,178.59 C213.65,178.57 213.93,178.70 214.05,178.77 C214.17,178.84 214.14,178.88 214.25,179.00 C214.35,179.11 214.59,179.36 214.68,179.46 C214.77,179.56 214.71,179.47 214.77,179.60 C214.83,179.72 215.01,179.93 215.01,180.20 C215.02,180.47 214.84,180.81 214.78,181.20 C214.71,181.59 214.65,182.08 214.63,182.54 C214.60,183.01 214.70,183.46 214.62,184.01 C214.54,184.55 214.35,185.21 214.17,185.79 C213.98,186.37 213.66,186.85 213.52,187.49Z" fill="none" stroke="#000" stroke-opacity="0.60" stroke-width="0.45"/>
<path d="M213.04,187.66 C212.89,188.29 212.95,188.86 212.82,189.41 C212.69,189.97 212.45,190.45 212.27,190.98 C212.09,191.52 211.91,192.13 211.77,192.61 C211.63,193.09 211.55,193.59 211.42,193.87 C211.30,194.16 211.17,194.14 211.02,194.32 C210.87,194.50 210.65,194.85 210.51,194.94 C210.38,195.03 210.29,194.81 210.22,194.85 C210.15,194.89 210.14,195.13 210.09,195.18 C210.04,195.24 209.98,195.23 209.92,195.18 C209.86,195.13 209.84,194.97 209.73,194.87 C209.63,194.76 209.38,194.64 209.28,194.54 C209.18,194.45 209.13,194.36 209.14,194.27 C209.14,194.19 209.31,194.22 209.31,194.02 C209.31,193.83 209.08,193.49 209.11,193.11 C209.14,192.74 209.42,192.23 209.51,191.77 C209.61,191.31 209.63,190.88 209.69,190.34 C209.76,189.80 209.78,189.11 209.90,188.51 C210.02,187.91 210.25,187.33 210.42,186.77 C210.59,186.21 210.78,185.76 210.92,185.16 C211.06,184.55 211.11,183.68 211.26,183.14 C211.42,182.59 211.67,182.32 211.84,181.89 C212.01,181.45 212.15,180.90 212.27,180.51 C212.39,180.12 212.43,179.74 212.56,179.56 C212.69,179.37 212.93,179.46 213.06,179.41 C213.19,179.36 213.24,179.34 213.32,179.26 C213.40,179.18 213.43,178.96 213.54,178.94 C213.65,178.92 213.89,179.11 213.98,179.14 C214.07,179.17 214.04,179.02 214.08,179.10 C214.12,179.19 214.17,179.53 214.23,179.66 C214.28,179.78 214.39,179.76 214.42,179.85 C214.44,179.94 214.39,180.02 214.38,180.21 C214.38,180.40 214.43,180.62 214.39,181.00 C214.36,181.38 214.23,182.00 214.17,182.49 C214.12,182.97 214.14,183.39 214.07,183.91 C214.00,184.43 213.92,184.98 213.75,185.61 C213.58,186.23 213.20,187.03 213.04,187.66Z" fill="none" stroke="#000" stroke-opacity="0.60" stroke-width="0.45" stroke-dasharray="0.7 0.45"/>
<path d="M205.4 195.4h0.7v0.7h-0.7zM199.4 192.3h0.7v0.7h-0.7zM197.6 195.0h0.7v0.7h-0.7zM196.0 201.0h0.7v0.7h-0.7zM197.6 201.4h0.7v0.7h-0.7zM196.1 203.5h0.7v0.7h-0.7zM206.4 192.1h0.7v0.7h-0.7zM204.7 197.2h0.7v0.7h-0.7zM197.7 191.3h0.7v0.7h-0.7zM199.0 191.9h0.7v0.7h-0.7zM205.6 191.2h0.7v0.7h-0.7zM207.1 194.2h0.7v0.7h-0.7zM197.7 201.2h0.7v0.7h-0.7zM195.3 198.0h0.7v0.7h-0.7zM203.0 199.5h0.7v0.7h-0.7zM204.0 197.6h0.7v0.7h-0.7zM205.9 197.9h0.7v0.7h-0.7zM205.6 198.3h0.7v0.7h-0.7zM201.5 192.1h0.7v0.7h-0.7z" fill="#666"/>
<path d="M203.7 196.9h0.7v0.7h-0.7zM195.0 196.2h0.7v0.7h-0.7zM205.1 193.4h0.7v0.7h-0.7zM197.8 195.7h0.7v0.7h-0.7zM202.5 192.0h0.7v0.7h-0.7zM196.3 196.1h0.7v0.7h-0.7zM203.1 188.7h0.7v0.7h-0.7zM195.5 196.2h0.7v0.7h-0.7zM202.1 204.1h0.7v0.7h-0.7zM201.4 190.9h0.7v0.7h-0.7zM204.6 201.8h0.7v0.7h-0.7zM203.6 194.5h0.7v0.7h-0.7zM200.0 196.8h0.7v0.7h-0.7zM198.2 200.5h0.7v0.7h-0.7zM199.3 200.3h0.7v0.7h-0.7zM202.0 190.4h0.7v0.7h-0.7zM198.0 199.7h0.7v0.7h-0.7zM198.7 204.1h0.7v0.7h-0.7zM202.1 196.1h0.7v0.7h-0.7z" fill="#777"/>
<path d="M206.9 193.9h0.7v0.7h-0.7zM199.0 201.5h0.7v0.7h-0.7zM205.9 197.0h0.7v0.7h-0.7zM197.0 194.7h0.7v0.7h-0.7zM196.9 201.0h0.7v0.7h-0.7zM203.1 198.0h0.7v0.7h-0.7zM196.4 194.1h0.7v0.7h-0.7zM199.8 204.0h0.7v0.7h-0.7zM202.1 192.1h0.7v0.7h-0.7zM197.1 191.7h0.7v0.7h-0.7zM195.3 195.5h0.7v0.7h-0.7zM201.6 201.0h0.7v0.7h-0.7zM206.4 198.1h0.7v0.7h-0.7zM201.1 193.1h0.7v0.7h-0.7z" fill="#aaa"/>
<path d="M200.5 193.4h0.7v0.7h-0.7zM199.3 195.8h0.7v0.7h-0.7zM205.0 193.4h0.7v0.7h-0.7zM205.5 196.4h0.7v0.7h-0.7zM201.5 197.8h0.7v0.7h-0.7zM201.2 197.6h0.7v0.7h-0.7zM198.5 199.1h0.7v0.7h-0.7zM199.7 190.8h0.7v0.7h-0.7zM197.0 193.6h0.7v0.7h-0.7zM200.1 191.5h0.7v0.7h-0.7zM205.9 196.0h0.7v0.7h-0.7zM196.5 201.5h0.7v0.7h-0.7zM204.7 200.1h0.7v0.7h-0.7zM199.2 204.2h0.7v0.7h-0.7zM202.6 188.7h0.7v0.7h-0.7zM197.1 193.1h0.7v0.7h-0.7zM198.3 203.9h0.7v0.7h-0.7zM204.1 193.9h0.7v0.7h-0.7zM199.1 193.7h0.7v0.7h-0.7zM196.6 201.9h0.7v0.7h-0.7z" fill="#999"/>
<path d="M200.0 195.0h0.7v0.7h-0.7zM199.3 188.7h0.7v0.7h-0.7zM203.3 197.0h0.7v0.7h-0.7zM198.5 196.1h0.7v0.7h-0.7zM205.3 192.1h0.7v0.7h-0.7zM201.4 203.1h0.7v0.7h-0.7zM203.1 194.9h0.7v0.7h-0.7zM205.1 195.5h0.7v0.7h-0.7zM199.3 194.4h0.7v0.7h-0.7zM197.7 203.6h0.7v0.7h-0.7zM199.5 197.5h0.7v0.7h-0.7zM194.8 201.5h0.7v0.7h-0.7zM205.6 199.7h0.7v0.7h-0.7zM197.6 199.5h0.7v0.7h-0.7zM195.6 195.5h0.7v0.7h-0.7zM203.4 201.6h0.7v0.7h-0.7zM196.9 202.5h0.7v0.7h-0.7zM204.6 189.0h0.7v0.7h-0.7z" fill="#888"/>
<path d="M203.75,197.46 C203.51,198.19 203.15,199.02 202.79,199.56 C202.44,200.10 202.05,200.46 201.63,200.71 C201.21,200.96 200.76,201.09 200.25,201.06 C199.74,201.02 199.00,200.78 198.57,200.51 C198.13,200.24 197.85,199.87 197.65,199.42 C197.46,198.97 197.36,198.45 197.39,197.80 C197.42,197.16 197.62,196.27 197.85,195.54 C198.09,194.81 198.45,193.98 198.81,193.44 C199.16,192.90 199.55,192.54 199.97,192.29 C200.39,192.04 200.84,191.91 201.35,191.94 C201.86,191.98 202.60,192.22 203.03,192.49 C203.47,192.76 203.75,193.13 203.95,193.58 C204.14,194.03 204.24,194.55 204.21,195.20 C204.18,195.84 203.98,196.73 203.75,197.46Z" fill="#bbbbbb" fill-opacity="1" stroke="none"/>
<path d="M203.75,197.39 C203.63,197.73 203.31,198.09 203.14,198.46 C202.96,198.83 202.88,199.29 202.71,199.59 C202.54,199.90 202.31,200.12 202.13,200.28 C201.95,200.45 201.80,200.47 201.61,200.56 C201.43,200.66 201.21,200.76 201.01,200.86 C200.82,200.97 200.67,201.21 200.42,201.20 C200.18,201.19 199.82,200.93 199.52,200.81 C199.23,200.68 198.87,200.57 198.67,200.44 C198.47,200.32 198.50,200.22 198.31,200.06 C198.11,199.90 197.65,199.75 197.49,199.50 C197.33,199.25 197.35,198.83 197.34,198.55 C197.32,198.27 197.40,198.10 197.43,197.81 C197.45,197.52 197.40,197.22 197.46,196.81 C197.52,196.40 197.63,195.73 197.78,195.35 C197.93,194.97 198.24,194.85 198.39,194.52 C198.54,194.19 198.55,193.62 198.69,193.36 C198.83,193.11 198.98,193.18 199.23,192.99 C199.47,192.80 199.93,192.35 200.15,192.23 C200.37,192.11 200.31,192.29 200.54,192.27 C200.77,192.25 201.29,192.11 201.54,192.11 C201.80,192.10 201.80,192.14 202.07,192.22 C202.34,192.30 202.92,192.45 203.18,192.58 C203.44,192.72 203.53,192.85 203.63,193.04 C203.73,193.23 203.74,193.50 203.79,193.71 C203.84,193.91 203.87,194.04 203.92,194.29 C203.98,194.53 204.15,194.83 204.14,195.19 C204.13,195.55 203.92,196.08 203.86,196.45 C203.79,196.82 203.87,197.06 203.75,197.39Z" fill="none" stroke="#000" stroke-opacity="0.85" stroke-width="0.45"/>
<path d="M203.08,197.18 C202.98,197.58 203.04,198.12 202.91,198.46 C202.77,198.81 202.40,199.03 202.24,199.23 C202.09,199.43 202.09,199.53 201.96,199.67 C201.83,199.80 201.69,199.92 201.47,200.06 C201.24,200.19 200.81,200.38 200.63,200.46 C200.44,200.54 200.49,200.55 200.34,200.53 C200.19,200.51 199.97,200.45 199.72,200.35 C199.47,200.25 199.04,200.03 198.83,199.93 C198.62,199.84 198.61,199.90 198.47,199.78 C198.32,199.65 197.99,199.41 197.95,199.19 C197.90,198.97 198.20,198.70 198.22,198.46 C198.24,198.23 198.06,198.03 198.05,197.79 C198.04,197.55 198.11,197.35 198.17,197.01 C198.22,196.67 198.27,196.13 198.38,195.74 C198.49,195.36 198.68,195.07 198.85,194.71 C199.02,194.36 199.27,193.83 199.40,193.61 C199.52,193.38 199.45,193.52 199.60,193.35 C199.74,193.18 200.05,192.74 200.27,192.59 C200.49,192.45 200.70,192.51 200.90,192.47 C201.11,192.43 201.33,192.32 201.49,192.34 C201.65,192.37 201.69,192.52 201.88,192.60 C202.07,192.67 202.41,192.65 202.63,192.77 C202.85,192.90 203.06,193.17 203.22,193.34 C203.39,193.51 203.55,193.62 203.63,193.80 C203.71,193.97 203.67,194.16 203.71,194.39 C203.75,194.63 203.91,194.93 203.87,195.21 C203.83,195.49 203.59,195.73 203.46,196.06 C203.33,196.39 203.17,196.78 203.08,197.18Z" fill="none" stroke="#000" stroke-opacity="0.90" stroke-width="0.45"/>
<path d="M202.81,197.23 C202.72,197.58 202.52,197.74 202.38,198.05 C202.24,198.37 202.11,198.90 201.97,199.15 C201.83,199.39 201.71,199.41 201.55,199.52 C201.38,199.63 201.14,199.73 200.97,199.79 C200.80,199.85 200.67,199.84 200.55,199.88 C200.43,199.91 200.36,199.99 200.25,200.00 C200.14,200.01 200.04,200.02 199.88,199.94 C199.73,199.86 199.47,199.66 199.30,199.52 C199.14,199.38 198.99,199.19 198.90,199.11 C198.80,199.02 198.81,199.09 198.74,198.99 C198.67,198.90 198.52,198.72 198.48,198.53 C198.44,198.35 198.46,198.13 198.51,197.88 C198.55,197.63 198.68,197.39 198.73,197.06 C198.78,196.72 198.73,196.22 198.80,195.88 C198.87,195.54 199.03,195.33 199.17,195.03 C199.30,194.72 199.46,194.28 199.63,194.04 C199.80,193.79 200.07,193.65 200.20,193.53 C200.32,193.41 200.28,193.34 200.39,193.30 C200.51,193.26 200.71,193.36 200.89,193.31 C201.06,193.26 201.29,193.02 201.45,193.01 C201.60,192.99 201.63,193.14 201.81,193.21 C201.99,193.29 202.35,193.34 202.53,193.45 C202.70,193.56 202.77,193.76 202.88,193.86 C202.99,193.97 203.15,193.99 203.19,194.10 C203.23,194.20 203.09,194.32 203.12,194.51 C203.14,194.70 203.37,194.98 203.34,195.22 C203.31,195.45 203.00,195.60 202.91,195.93 C202.83,196.27 202.90,196.87 202.81,197.23Z" fill="none" stroke="#000" stroke-opacity="0.85" stroke-width="0.45"/>
<path d="M201.97,197.07 C201.88,197.38 201.78,197.56 201.71,197.85 C201.65,198.14 201.70,198.64 201.59,198.82 C201.49,199.01 201.23,198.87 201.08,198.94 C200.94,199.02 200.80,199.20 200.71,199.25 C200.63,199.30 200.66,199.25 200.56,199.25 C200.46,199.26 200.21,199.26 200.11,199.30 C200.01,199.33 200.08,199.52 199.97,199.46 C199.85,199.41 199.52,199.07 199.44,198.99 C199.35,198.90 199.50,199.04 199.46,198.97 C199.42,198.90 199.29,198.68 199.20,198.55 C199.12,198.43 198.96,198.33 198.95,198.21 C198.95,198.10 199.13,198.01 199.16,197.87 C199.19,197.72 199.06,197.67 199.12,197.36 C199.18,197.04 199.39,196.36 199.51,195.98 C199.63,195.61 199.74,195.37 199.84,195.10 C199.95,194.84 199.99,194.61 200.11,194.39 C200.23,194.18 200.47,193.93 200.58,193.83 C200.68,193.73 200.66,193.79 200.73,193.79 C200.80,193.78 200.88,193.84 200.99,193.79 C201.10,193.74 201.28,193.47 201.38,193.48 C201.48,193.50 201.47,193.78 201.60,193.86 C201.73,193.94 202.03,193.93 202.14,193.98 C202.24,194.02 202.15,194.04 202.24,194.12 C202.33,194.20 202.60,194.33 202.67,194.45 C202.74,194.57 202.68,194.70 202.66,194.83 C202.64,194.96 202.61,195.05 202.54,195.25 C202.48,195.44 202.36,195.69 202.26,196.00 C202.17,196.30 202.06,196.76 201.97,197.07Z" fill="none" stroke="#000" stroke-opacity="0.60" stroke-width="0.45"/>
<rect x="195.70" y="217.50" width="0.7" height="1.2" fill="#333"/>
<rect x="202.51" y="217.50" width="0.7" height="1.2" fill="#333"/>
<rect x="195.60" y="217.50" width="0.7" height="1.2" fill="#333"/>
<rect x="199.13" y="217.50" width="0.7" height="1.2" fill="#333"/>
<rect x="198.19" y="217.50" width="0.7" height="1.2" fill="#333"/>
<rect x="196.66" y="217.50" width="0.7" height="1.2" fill="#333"/>
<rect x="201.58" y="217.50" width="0.7" height="1.2" fill="#333"/>
<rect x="195.52" y="217.50" width="0.7" height="1.2" fill="#333"/>
<rect x="194.72" y="217.50" width="0.7" height="1.2" fill="#333"/>
<rect x="201.29" y="217.50" width="0.7" height="1.2" fill="#333"/>
<path d="M276.9 189.3h0.7v0.7h-0.7zM270.7 190.9h0.7v0.7h-0.7zM290.3 189.5h0.7v0.7h-0.7zM276.1 187.6h0.7v0.7h-0.7zM277.4 190.1h0.7v0.7h-0.7zM274.1 189.4h0.7v0.7h-0.7zM271.8 193.9h0.7v0.7h-0.7zM276.2 199.0h0.7v0.7h-0.7zM275.1 201.7h0.7v0.7h-0.7zM289.6 202.8h0.7v0.7h-0.7zM278.2 192.1h0.7v0.7h-0.7zM292.4 200.5h0.7v0.7h-0.7zM284.0 193.7h0.7v0.7h-0.7zM274.7 180.7h0.7v0.7h-0.7zM269.8 190.9h0.7v0.7h-0.7zM266.2 192.7h0.7v0.7h-0.7zM268.2 186.1h0.7v0.7h-0.7zM267.6 174.8h0.7v0.7h-0.7zM275.0 194.6h0.7v0.7h-0.7zM269.4 183.4h0.7v0.7h-0.7zM268.1 179.7h0.7v0.7h-0.7zM274.2 191.3h0.7v0.7h-0.7zM274.3 181.3h0.7v0.7h-0.7zM275.2 191.7h0.7v0.7h-0.7zM263.0 177.2h0.7v0.7h-0.7zM270.3 184.0h0.7v0.7h-0.7zM273.8 200.2h0.7v0.7h-0.7zM269.5 183.6h0.7v0.7h-0.7zM273.2 197.0h0.7v0.7h-0.7zM274.8 198.3h0.7v0.7h-0.7zM262.5 179.4h0.7v0.7h-0.7zM270.8 192.1h0.7v0.7h-0.7zM262.9 196.1h0.7v0.7h-0.7zM274.5 180.6h0.7v0.7h-0.7zM266.8 189.4h0.7v0.7h-0.7zM269.6 177.2h0.7v0.7h-0.7zM265.1 197.8h0.7v0.7h-0.7zM268.8 179.9h0.7v0.7h-0.7zM267.2 201.4h0.7v0.7h-0.7zM266.4 188.8h0.7v0.7h-0.7zM265.6 196.3h0.7v0.7h-0.7zM267.6 186.0h0.7v0.7h-0.7zM272.0 175.6h0.7v0.7h-0.7zM272.6 179.4h0.7v0.7h-0.7zM266.2 200.4h0.7v0.7h-0.7zM264.0 191.7h0.7v0.7h-0.7zM272.8 192.5h0.7v0.7h-0.7zM275.7 193.9h0.7v0.7h-0.7zM267.8 194.1h0.7v0.7h-0.7zM268.5 187.2h0.7v0.7h-0.7zM266.2 185.3h0.7v0.7h-0.7zM269.3 186.7h0.7v0.7h-0.7zM264.7 177.3h0.7v0.7h-0.7zM271.6 194.6h0.7v0.7h-0.7zM264.8 179.6h0.7v0.7h-0.7zM270.9 179.0h0.7v0.7h-0.7zM267.9 195.7h0.7v0.7h-0.7z" fill="#aaa"/>
<path d="M272.9 188.4h0.7v0.7h-0.7zM285.3 184.6h0.7v0.7h-0.7zM272.6 187.7h0.7v0.7h-0.7zM274.2 187.1h0.7v0.7h-0.7zM288.1 184.4h0.7v0.7h-0.7zM283.4 187.8h0.7v0.7h-0.7zM259.5 198.6h0.7v0.7h-0.7zM281.8 201.0h0.7v0.7h-0.7zM268.2 190.4h0.7v0.7h-0.7zM283.1 177.7h0.7v0.7h-0.7zM265.4 202.5h0.7v0.7h-0.7zM271.7 175.6h0.7v0.7h-0.7zM273.0 184.4h0.7v0.7h-0.7zM267.9 182.9h0.7v0.7h-0.7zM272.5 193.9h0.7v0.7h-0.7zM266.6 197.6h0.7v0.7h-0.7zM273.7 187.5h0.7v0.7h-0.7zM270.8 177.9h0.7v0.7h-0.7zM262.9 192.6h0.7v0.7h-0.7zM273.8 185.7h0.7v0.7h-0.7zM264.2 184.2h0.7v0.7h-0.7zM273.2 184.4h0.7v0.7h-0.7zM268.7 176.2h0.7v0.7h-0.7zM266.4 177.4h0.7v0.7h-0.7zM272.0 188.6h0.7v0.7h-0.7zM270.6 194.4h0.7v0.7h-0.7zM264.0 194.6h0.7v0.7h-0.7zM263.3 193.8h0.7v0.7h-0.7zM271.2 189.9h0.7v0.7h-0.7zM262.9 200.0h0.7v0.7h-0.7zM271.8 191.0h0.7v0.7h-0.7zM272.3 191.3h0.7v0.7h-0.7zM262.8 179.6h0.7v0.7h-0.7zM272.1 188.9h0.7v0.7h-0.7zM272.5 196.5h0.7v0.7h-0.7zM271.7 185.7h0.7v0.7h-0.7zM264.1 189.4h0.7v0.7h-0.7zM262.5 187.5h0.7v0.7h-0.7zM270.2 194.3h0.7v0.7h-0.7zM270.2 182.3h0.7v0.7h-0.7zM273.5 192.5h0.7v0.7h-0.7zM273.0 177.2h0.7v0.7h-0.7zM268.2 194.7h0.7v0.7h-0.7zM265.1 196.0h0.7v0.7h-0.7zM274.9 198.3h0.7v0.7h-0.7zM268.4 178.8h0.7v0.7h-0.7zM263.5 176.4h0.7v0.7h-0.7zM274.8 202.4h0.7v0.7h-0.7zM265.0 202.7h0.7v0.7h-0.7zM268.2 202.7h0.7v0.7h-0.7zM268.3 178.8h0.7v0.7h-0.7zM266.8 193.5h0.7v0.7h-0.7zM273.9 181.4h0.7v0.7h-0.7zM266.1 203.4h0.7v0.7h-0.7zM270.4 186.2h0.7v0.7h-0.7zM270.6 190.3h0.7v0.7h-0.7zM266.2 200.2h0.7v0.7h-0.7zM269.2 180.1h0.7v0.7h-0.7zM271.4 181.9h0.7v0.7h-0.7zM274.0 201.9h0.7v0.7h-0.7zM272.6 197.5h0.7v0.7h-0.7z" fill="#888"/>
<path d="M277.3 184.0h0.7v0.7h-0.7zM278.6 184.9h0.7v0.7h-0.7zM269.1 195.1h0.7v0.7h-0.7zM271.5 190.1h0.7v0.7h-0.7zM278.0 199.7h0.7v0.7h-0.7zM283.7 198.9h0.7v0.7h-0.7zM265.7 190.6h0.7v0.7h-0.7zM274.8 191.8h0.7v0.7h-0.7zM268.7 188.1h0.7v0.7h-0.7zM262.2 187.9h0.7v0.7h-0.7zM270.2 189.3h0.7v0.7h-0.7zM268.0 191.9h0.7v0.7h-0.7zM267.9 198.4h0.7v0.7h-0.7zM264.7 190.0h0.7v0.7h-0.7zM268.2 187.8h0.7v0.7h-0.7zM271.8 190.6h0.7v0.7h-0.7zM264.8 182.6h0.7v0.7h-0.7zM273.4 180.6h0.7v0.7h-0.7zM271.4 184.5h0.7v0.7h-0.7zM269.2 189.6h0.7v0.7h-0.7zM273.2 191.9h0.7v0.7h-0.7zM272.2 199.6h0.7v0.7h-0.7zM262.9 194.5h0.7v0.7h-0.7zM264.5 199.0h0.7v0.7h-0.7zM268.7 182.1h0.7v0.7h-0.7zM267.9 188.6h0.7v0.7h-0.7zM263.4 181.0h0.7v0.7h-0.7zM266.6 200.9h0.7v0.7h-0.7zM273.3 193.3h0.7v0.7h-0.7zM271.3 194.5h0.7v0.7h-0.7zM269.1 187.7h0.7v0.7h-0.7zM270.8 181.0h0.7v0.7h-0.7zM274.9 193.4h0.7v0.7h-0.7zM274.2 189.4h0.7v0.7h-0.7zM266.9 189.4h0.7v0.7h-0.7zM266.2 203.5h0.7v0.7h-0.7zM269.7 175.0h0.7v0.7h-0.7zM273.2 192.4h0.7v0.7h-0.7zM266.5 184.2h0.7v0.7h-0.7zM265.5 176.8h0.7v0.7h-0.7zM262.7 190.5h0.7v0.7h-0.7zM272.2 177.8h0.7v0.7h-0.7zM272.2 202.2h0.7v0.7h-0.7zM264.4 193.0h0.7v0.7h-0.7zM270.9 178.9h0.7v0.7h-0.7zM265.7 188.3h0.7v0.7h-0.7zM270.2 186.2h0.7v0.7h-0.7zM271.9 195.3h0.7v0.7h-0.7zM264.1 177.8h0.7v0.7h-0.7zM274.8 188.8h0.7v0.7h-0.7zM266.2 183.8h0.7v0.7h-0.7zM264.9 200.0h0.7v0.7h-0.7zM266.7 202.1h0.7v0.7h-0.7zM273.2 190.6h0.7v0.7h-0.7zM273.7 194.9h0.7v0.7h-0.7zM268.0 203.0h0.7v0.7h-0.7zM271.3 189.9h0.7v0.7h-0.7zM274.6 203.1h0.7v0.7h-0.7zM265.8 196.5h0.7v0.7h-0.7zM264.8 188.4h0.7v0.7h-0.7zM273.7 192.8h0.7v0.7h-0.7zM263.4 184.3h0.7v0.7h-0.7zM270.4 176.5h0.7v0.7h-0.7zM274.6 183.7h0.7v0.7h-0.7zM265.6 196.4h0.7v0.7h-0.7zM274.8 193.7h0.7v0.7h-0.7z" fill="#999"/>
<path d="M284.8 196.8h0.7v0.7h-0.7zM288.3 188.2h0.7v0.7h-0.7zM271.5 200.8h0.7v0.7h-0.7zM280.5 204.7h0.7v0.7h-0.7zM281.5 191.5h0.7v0.7h-0.7zM276.8 211.2h0.7v0.7h-0.7zM263.0 186.2h0.7v0.7h-0.7zM270.0 198.8h0.7v0.7h-0.7zM271.4 184.4h0.7v0.7h-0.7z" fill="#bbb"/>
<path d="M283.4 201.4h0.7v0.7h-0.7zM272.3 188.8h0.7v0.7h-0.7zM289.6 185.0h0.7v0.7h-0.7zM271.0 189.6h0.7v0.7h-0.7zM267.6 193.8h0.7v0.7h-0.7zM262.1 191.1h0.7v0.7h-0.7zM269.8 194.0h0.7v0.7h-0.7zM264.9 200.4h0.7v0.7h-0.7zM269.3 174.9h0.7v0.7h-0.7zM271.2 185.2h0.7v0.7h-0.7zM273.1 202.2h0.7v0.7h-0.7zM268.3 199.2h0.7v0.7h-0.7zM274.4 189.4h0.7v0.7h-0.7zM265.2 201.9h0.7v0.7h-0.7zM268.4 190.1h0.7v0.7h-0.7zM264.5 179.3h0.7v0.7h-0.7zM269.8 184.4h0.7v0.7h-0.7zM268.6 191.2h0.7v0.7h-0.7zM267.8 185.7h0.7v0.7h-0.7zM264.7 191.4h0.7v0.7h-0.7zM274.4 182.6h0.7v0.7h-0.7zM274.3 197.8h0.7v0.7h-0.7zM264.9 188.6h0.7v0.7h-0.7zM271.5 189.9h0.7v0.7h-0.7zM264.1 196.3h0.7v0.7h-0.7zM272.3 200.9h0.7v0.7h-0.7zM273.3 182.1h0.7v0.7h-0.7zM273.5 201.0h0.7v0.7h-0.7zM268.0 181.4h0.7v0.7h-0.7zM274.1 194.3h0.7v0.7h-0.7zM268.5 199.8h0.7v0.7h-0.7zM269.8 194.8h0.7v0.7h-0.7zM272.4 185.4h0.7v0.7h-0.7zM269.6 180.9h0.7v0.7h-0.7zM269.7 198.1h0.7v0.7h-0.7zM269.0 176.9h0.7v0.7h-0.7zM263.6 194.9h0.7v0.7h-0.7zM262.3 192.2h0.7v0.7h-0.7zM267.3 176.4h0.7v0.7h-0.7zM263.5 186.8h0.7v0.7h-0.7zM264.8 180.3h0.7v0.7h-0.7zM264.5 193.6h0.7v0.7h-0.7zM270.3 175.7h0.7v0.7h-0.7zM266.6 186.1h0.7v0.7h-0.7zM274.1 178.4h0.7v0.7h-0.7zM265.3 188.7h0.7v0.7h-0.7zM268.8 188.7h0.7v0.7h-0.7zM265.7 189.4h0.7v0.7h-0.7zM267.1 180.2h0.7v0.7h-0.7zM264.2 177.6h0.7v0.7h-0.7zM271.6 184.0h0.7v0.7h-0.7zM274.9 198.4h0.7v0.7h-0.7zM268.2 204.5h0.7v0.7h-0.7zM271.0 189.2h0.7v0.7h-0.7z" fill="#777"/>
<path d="M269.2 175.9h0.7v0.7h-0.7zM263.0 177.9h0.7v0.7h-0.7zM264.7 182.0h0.7v0.7h-0.7zM274.5 193.3h0.7v0.7h-0.7zM271.9 185.9h0.7v0.7h-0.7zM272.5 196.0h0.7v0.7h-0.7zM263.8 176.1h0.7v0.7h-0.7zM267.2 185.9h0.7v0.7h-0.7zM262.5 190.3h0.7v0.7h-0.7zM268.9 182.4h0.7v0.7h-0.7zM272.9 196.8h0.7v0.7h-0.7zM263.9 193.1h0.7v0.7h-0.7zM272.0 181.8h0.7v0.7h-0.7zM274.7 196.6h0.7v0.7h-0.7zM269.5 201.6h0.7v0.7h-0.7zM270.8 177.2h0.7v0.7h-0.7zM266.6 201.0h0.7v0.7h-0.7zM269.9 198.1h0.7v0.7h-0.7zM269.3 188.0h0.7v0.7h-0.7zM264.1 198.0h0.7v0.7h-0.7zM272.5 181.0h0.7v0.7h-0.7zM269.6 186.7h0.7v0.7h-0.7zM275.2 186.9h0.7v0.7h-0.7zM271.2 190.8h0.7v0.7h-0.7zM270.5 179.0h0.7v0.7h-0.7zM272.4 184.4h0.7v0.7h-0.7zM267.0 187.1h0.7v0.7h-0.7zM266.5 196.2h0.7v0.7h-0.7zM263.1 176.2h0.7v0.7h-0.7zM270.0 190.7h0.7v0.7h-0.7zM268.1 180.7h0.7v0.7h-0.7zM264.6 183.4h0.7v0.7h-0.7zM268.5 179.3h0.7v0.7h-0.7zM269.3 187.6h0.7v0.7h-0.7zM273.0 187.6h0.7v0.7h-0.7zM263.1 181.6h0.7v0.7h-0.7zM272.3 177.5h0.7v0.7h-0.7zM272.0 175.8h0.7v0.7h-0.7zM266.1 188.7h0.7v0.7h-0.7zM262.9 200.5h0.7v0.7h-0.7zM264.7 187.7h0.7v0.7h-0.7zM270.8 192.7h0.7v0.7h-0.7zM263.8 180.5h0.7v0.7h-0.7zM269.2 180.2h0.7v0.7h-0.7zM270.4 201.6h0.7v0.7h-0.7zM271.8 201.1h0.7v0.7h-0.7zM269.6 201.8h0.7v0.7h-0.7zM264.8 176.6h0.7v0.7h-0.7zM268.7 187.5h0.7v0.7h-0.7zM264.7 181.4h0.7v0.7h-0.7zM263.9 185.9h0.7v0.7h-0.7zM273.7 180.3h0.7v0.7h-0.7zM265.6 193.3h0.7v0.7h-0.7zM273.3 179.3h0.7v0.7h-0.7zM273.6 186.1h0.7v0.7h-0.7zM262.8 180.3h0.7v0.7h-0.7z" fill="#666"/>
<path d="M263.38,176.95 C263.83,175.84 264.85,176.65 265.62,176.41 C266.40,176.17 267.18,175.53 268.02,175.50 C268.86,175.47 269.79,176.00 270.67,176.24 C271.54,176.48 272.75,175.83 273.28,176.93 C273.80,178.02 273.57,180.65 273.82,182.82 C274.07,184.99 274.65,187.66 274.77,189.93 C274.90,192.21 274.70,194.39 274.57,196.47 C274.44,198.55 274.60,201.30 273.99,202.40 C273.39,203.51 271.92,202.83 270.95,203.09 C269.98,203.35 268.98,204.04 268.15,203.96 C267.33,203.89 266.75,203.11 266.02,202.66 C265.29,202.21 264.21,202.37 263.78,201.29 C263.34,200.21 263.54,198.06 263.41,196.17 C263.28,194.28 263.07,192.12 262.99,189.95 C262.91,187.77 262.88,185.27 262.94,183.11 C263.01,180.94 262.94,178.07 263.38,176.95Z" fill="none" stroke="#000" stroke-opacity="0.38" stroke-width="0.45" stroke-dasharray="0.7 0.45"/>
<path d="M264.72,178.57 C265.01,177.72 265.71,178.23 266.24,178.08 C266.76,177.93 267.26,177.66 267.87,177.66 C268.47,177.66 269.24,177.98 269.87,178.08 C270.49,178.19 271.25,177.49 271.63,178.29 C272.01,179.09 271.93,180.95 272.16,182.89 C272.38,184.84 272.91,187.70 272.99,189.96 C273.07,192.21 272.77,194.56 272.63,196.43 C272.48,198.29 272.54,200.28 272.13,201.15 C271.72,202.02 270.82,201.45 270.16,201.65 C269.51,201.85 268.80,202.43 268.19,202.36 C267.58,202.29 267.04,201.58 266.49,201.25 C265.94,200.92 265.14,201.27 264.88,200.37 C264.61,199.47 264.95,197.53 264.89,195.83 C264.84,194.13 264.59,192.28 264.52,190.17 C264.46,188.06 264.48,185.11 264.51,183.18 C264.54,181.24 264.43,179.42 264.72,178.57Z" fill="none" stroke="#000" stroke-opacity="0.38" stroke-width="0.45" stroke-dasharray="0.7 0.45"/>
<path d="M273.7 186.0h0.7v0.7h-0.7zM284.0 183.4h0.7v0.7h-0.7zM282.0 191.2h0.7v0.7h-0.7zM280.9 187.6h0.7v0.7h-0.7zM279.8 176.9h0.7v0.7h-0.7zM275.8 193.8h0.7v0.7h-0.7zM280.3 176.4h0.7v0.7h-0.7zM276.6 178.9h0.7v0.7h-0.7zM285.1 176.0h0.7v0.7h-0.7zM281.9 171.4h0.7v0.7h-0.7zM284.4 194.2h0.7v0.7h-0.7zM282.4 182.9h0.7v0.7h-0.7zM287.5 183.7h0.7v0.7h-0.7zM285.1 183.1h0.7v0.7h-0.7zM285.4 182.0h0.7v0.7h-0.7zM278.0 186.4h0.7v0.7h-0.7zM275.5 175.9h0.7v0.7h-0.7zM278.5 201.4h0.7v0.7h-0.7zM277.2 182.4h0.7v0.7h-0.7zM279.5 172.8h0.7v0.7h-0.7zM273.6 175.7h0.7v0.7h-0.7zM287.2 176.8h0.7v0.7h-0.7zM275.8 189.0h0.7v0.7h-0.7zM276.3 186.5h0.7v0.7h-0.7zM280.7 190.5h0.7v0.7h-0.7zM275.4 189.3h0.7v0.7h-0.7zM276.1 181.2h0.7v0.7h-0.7zM283.1 180.9h0.7v0.7h-0.7zM284.3 190.7h0.7v0.7h-0.7zM283.7 171.9h0.7v0.7h-0.7zM278.9 195.4h0.7v0.7h-0.7zM283.5 194.1h0.7v0.7h-0.7zM284.6 174.9h0.7v0.7h-0.7zM281.2 176.4h0.7v0.7h-0.7zM284.9 194.3h0.7v0.7h-0.7zM283.5 183.5h0.7v0.7h-0.7zM274.3 184.2h0.7v0.7h-0.7zM277.2 185.6h0.7v0.7h-0.7zM273.5 177.7h0.7v0.7h-0.7zM275.7 182.4h0.7v0.7h-0.7zM274.0 194.3h0.7v0.7h-0.7z" fill="#888"/>
<path d="M277.7 172.5h0.7v0.7h-0.7zM281.9 194.6h0.7v0.7h-0.7zM280.0 200.1h0.7v0.7h-0.7zM284.2 176.2h0.7v0.7h-0.7zM283.3 193.3h0.7v0.7h-0.7zM279.6 198.6h0.7v0.7h-0.7zM283.5 192.5h0.7v0.7h-0.7zM284.9 183.4h0.7v0.7h-0.7zM279.9 203.8h0.7v0.7h-0.7zM276.5 199.3h0.7v0.7h-0.7zM286.8 191.4h0.7v0.7h-0.7zM280.7 190.6h0.7v0.7h-0.7zM280.1 190.1h0.7v0.7h-0.7zM283.3 197.5h0.7v0.7h-0.7zM283.7 175.2h0.7v0.7h-0.7zM279.4 194.6h0.7v0.7h-0.7zM276.9 200.4h0.7v0.7h-0.7zM285.0 178.3h0.7v0.7h-0.7zM282.3 197.3h0.7v0.7h-0.7zM282.7 182.5h0.7v0.7h-0.7zM275.9 182.2h0.7v0.7h-0.7zM283.0 185.1h0.7v0.7h-0.7zM284.4 200.7h0.7v0.7h-0.7zM278.8 177.1h0.7v0.7h-0.7zM276.8 202.8h0.7v0.7h-0.7zM282.3 190.7h0.7v0.7h-0.7zM273.4 184.0h0.7v0.7h-0.7zM285.2 194.0h0.7v0.7h-0.7zM285.0 177.5h0.7v0.7h-0.7zM282.1 193.0h0.7v0.7h-0.7zM281.9 178.7h0.7v0.7h-0.7zM277.3 189.8h0.7v0.7h-0.7zM278.0 195.3h0.7v0.7h-0.7zM278.5 195.4h0.7v0.7h-0.7zM276.1 184.2h0.7v0.7h-0.7zM277.9 199.2h0.7v0.7h-0.7zM274.7 190.0h0.7v0.7h-0.7zM278.1 172.4h0.7v0.7h-0.7zM278.2 189.6h0.7v0.7h-0.7zM277.7 188.3h0.7v0.7h-0.7zM286.4 191.6h0.7v0.7h-0.7zM278.5 199.7h0.7v0.7h-0.7zM274.8 174.7h0.7v0.7h-0.7z" fill="#aaa"/>
<path d="M287.2 183.6h0.7v0.7h-0.7zM284.9 174.2h0.7v0.7h-0.7zM278.1 199.9h0.7v0.7h-0.7zM283.3 191.6h0.7v0.7h-0.7zM273.7 179.2h0.7v0.7h-0.7zM273.8 184.9h0.7v0.7h-0.7zM273.4 181.7h0.7v0.7h-0.7zM281.9 180.1h0.7v0.7h-0.7zM283.1 184.3h0.7v0.7h-0.7zM283.0 190.9h0.7v0.7h-0.7zM279.7 177.9h0.7v0.7h-0.7zM274.0 193.0h0.7v0.7h-0.7zM287.3 183.6h0.7v0.7h-0.7zM285.3 182.1h0.7v0.7h-0.7zM275.8 180.1h0.7v0.7h-0.7zM285.9 190.6h0.7v0.7h-0.7zM274.3 191.5h0.7v0.7h-0.7zM278.8 195.3h0.7v0.7h-0.7zM279.5 185.6h0.7v0.7h-0.7zM282.0 177.8h0.7v0.7h-0.7zM276.2 198.5h0.7v0.7h-0.7zM277.7 181.5h0.7v0.7h-0.7zM275.0 181.7h0.7v0.7h-0.7zM273.8 175.1h0.7v0.7h-0.7zM286.4 192.5h0.7v0.7h-0.7zM287.3 180.5h0.7v0.7h-0.7zM284.7 188.5h0.7v0.7h-0.7zM286.5 187.4h0.7v0.7h-0.7zM282.6 202.4h0.7v0.7h-0.7zM274.4 188.2h0.7v0.7h-0.7zM282.7 185.6h0.7v0.7h-0.7zM278.3 201.5h0.7v0.7h-0.7zM283.9 181.2h0.7v0.7h-0.7zM286.9 175.6h0.7v0.7h-0.7zM284.7 184.1h0.7v0.7h-0.7zM274.4 188.0h0.7v0.7h-0.7zM282.3 198.0h0.7v0.7h-0.7zM286.9 183.7h0.7v0.7h-0.7zM273.3 180.1h0.7v0.7h-0.7z" fill="#666"/>
<path d="M283.7 176.9h0.7v0.7h-0.7zM280.0 194.6h0.7v0.7h-0.7zM284.1 190.7h0.7v0.7h-0.7zM287.5 173.9h0.7v0.7h-0.7zM283.4 177.6h0.7v0.7h-0.7zM279.1 181.6h0.7v0.7h-0.7zM275.2 181.7h0.7v0.7h-0.7zM277.9 174.4h0.7v0.7h-0.7zM278.7 201.0h0.7v0.7h-0.7zM282.1 195.1h0.7v0.7h-0.7zM280.8 187.2h0.7v0.7h-0.7zM279.6 201.5h0.7v0.7h-0.7zM284.4 184.1h0.7v0.7h-0.7zM278.4 191.9h0.7v0.7h-0.7zM278.1 186.7h0.7v0.7h-0.7zM281.9 196.7h0.7v0.7h-0.7zM280.6 183.3h0.7v0.7h-0.7zM277.7 193.3h0.7v0.7h-0.7zM275.6 194.0h0.7v0.7h-0.7zM275.1 186.1h0.7v0.7h-0.7zM275.1 181.5h0.7v0.7h-0.7zM285.4 183.6h0.7v0.7h-0.7zM278.8 173.2h0.7v0.7h-0.7zM276.8 173.8h0.7v0.7h-0.7zM280.0 198.5h0.7v0.7h-0.7zM282.1 171.5h0.7v0.7h-0.7zM278.7 181.0h0.7v0.7h-0.7zM285.2 196.4h0.7v0.7h-0.7zM283.5 177.1h0.7v0.7h-0.7zM279.2 194.7h0.7v0.7h-0.7zM281.0 194.5h0.7v0.7h-0.7zM281.7 177.6h0.7v0.7h-0.7zM282.0 177.6h0.7v0.7h-0.7zM276.7 181.2h0.7v0.7h-0.7zM284.9 182.7h0.7v0.7h-0.7zM277.7 175.7h0.7v0.7h-0.7z" fill="#999"/>
<path d="M281.5 202.7h0.7v0.7h-0.7zM277.5 180.8h0.7v0.7h-0.7zM282.1 197.5h0.7v0.7h-0.7zM283.5 192.3h0.7v0.7h-0.7zM273.6 175.0h0.7v0.7h-0.7zM278.3 188.1h0.7v0.7h-0.7zM280.9 202.3h0.7v0.7h-0.7zM285.7 186.2h0.7v0.7h-0.7zM273.8 180.7h0.7v0.7h-0.7zM276.3 194.3h0.7v0.7h-0.7zM284.9 194.1h0.7v0.7h-0.7zM273.3 175.7h0.7v0.7h-0.7zM286.5 177.1h0.7v0.7h-0.7zM286.8 191.4h0.7v0.7h-0.7zM278.4 175.9h0.7v0.7h-0.7zM283.2 185.3h0.7v0.7h-0.7zM274.6 190.0h0.7v0.7h-0.7zM282.8 171.5h0.7v0.7h-0.7zM280.0 195.1h0.7v0.7h-0.7zM283.9 172.4h0.7v0.7h-0.7zM287.4 180.7h0.7v0.7h-0.7zM282.2 196.3h0.7v0.7h-0.7zM281.3 181.2h0.7v0.7h-0.7zM276.9 202.6h0.7v0.7h-0.7zM284.0 183.9h0.7v0.7h-0.7zM273.8 179.0h0.7v0.7h-0.7zM286.2 179.5h0.7v0.7h-0.7zM279.1 190.3h0.7v0.7h-0.7zM286.2 181.8h0.7v0.7h-0.7zM287.1 186.6h0.7v0.7h-0.7zM281.8 188.5h0.7v0.7h-0.7zM280.8 184.3h0.7v0.7h-0.7zM280.8 185.7h0.7v0.7h-0.7zM279.1 194.4h0.7v0.7h-0.7zM280.0 191.7h0.7v0.7h-0.7zM283.5 194.5h0.7v0.7h-0.7zM281.4 198.0h0.7v0.7h-0.7zM274.1 195.0h0.7v0.7h-0.7zM283.9 179.8h0.7v0.7h-0.7zM286.4 172.8h0.7v0.7h-0.7zM279.6 184.6h0.7v0.7h-0.7z" fill="#777"/>
<path d="M275.00,177.50 C275.80,176.08 278.37,175.92 280.00,175.50 C281.63,175.08 283.77,174.58 284.80,175.00 C285.83,175.42 286.03,176.33 286.20,178.00 C286.37,179.67 285.97,182.50 285.80,185.00 C285.63,187.50 285.50,190.75 285.20,193.00 C284.90,195.25 284.70,197.37 284.00,198.50 C283.30,199.63 282.08,199.78 281.00,199.80 C279.92,199.82 278.40,199.90 277.50,198.60 C276.60,197.30 275.98,194.43 275.60,192.00 C275.22,189.57 275.30,186.42 275.20,184.00 C275.10,181.58 274.20,178.92 275.00,177.50Z" fill="#dcdcdc" fill-opacity="1" stroke="none"/>
<path d="M275.15,177.52 C275.61,176.80 276.89,176.74 277.68,176.39 C278.47,176.05 279.09,175.66 279.88,175.45 C280.66,175.24 281.53,175.19 282.38,175.13 C283.23,175.07 284.46,174.89 284.97,175.10 C285.47,175.31 285.22,175.91 285.42,176.39 C285.61,176.87 286.01,177.09 286.11,177.96 C286.22,178.83 286.08,180.46 286.06,181.61 C286.04,182.76 286.09,183.61 285.98,184.83 C285.87,186.06 285.48,187.59 285.38,188.95 C285.28,190.31 285.50,191.83 285.38,192.98 C285.27,194.14 284.92,194.97 284.69,195.88 C284.45,196.79 284.33,197.90 283.98,198.45 C283.64,199.00 283.07,199.00 282.61,199.21 C282.15,199.42 281.73,199.71 281.20,199.71 C280.67,199.71 280.02,199.37 279.43,199.19 C278.84,199.02 278.12,199.28 277.65,198.66 C277.17,198.03 276.94,196.57 276.58,195.44 C276.21,194.32 275.63,193.13 275.43,191.91 C275.24,190.69 275.45,189.43 275.40,188.13 C275.34,186.83 275.15,185.35 275.07,184.11 C275.00,182.87 274.92,181.79 274.94,180.69 C274.95,179.59 274.69,178.23 275.15,177.52Z" fill="none" stroke="#000" stroke-opacity="0.70" stroke-width="0.45"/>
<path d="M275.54,177.94 C275.90,177.32 277.04,177.41 277.81,177.09 C278.57,176.77 279.39,176.22 280.13,176.00 C280.86,175.79 281.49,175.86 282.22,175.78 C282.95,175.70 284.08,175.34 284.52,175.52 C284.96,175.70 284.70,176.36 284.87,176.85 C285.04,177.33 285.42,177.67 285.53,178.42 C285.64,179.18 285.57,180.28 285.52,181.40 C285.48,182.52 285.29,183.91 285.24,185.16 C285.18,186.41 285.24,187.61 285.18,188.89 C285.13,190.17 285.04,191.71 284.91,192.82 C284.78,193.93 284.57,194.71 284.39,195.55 C284.21,196.40 284.17,197.36 283.83,197.91 C283.50,198.46 282.83,198.62 282.38,198.85 C281.92,199.09 281.60,199.34 281.08,199.30 C280.56,199.26 279.75,198.79 279.24,198.62 C278.72,198.46 278.38,198.91 277.98,198.34 C277.58,197.76 277.14,196.23 276.83,195.16 C276.53,194.09 276.31,193.09 276.14,191.92 C275.96,190.75 275.89,189.46 275.80,188.15 C275.70,186.84 275.61,185.28 275.57,184.05 C275.54,182.82 275.61,181.78 275.60,180.76 C275.60,179.74 275.17,178.55 275.54,177.94Z" fill="none" stroke="#000" stroke-opacity="0.85" stroke-width="0.45"/>
<path d="M276.25,178.30 C276.57,177.68 277.55,177.47 278.21,177.21 C278.87,176.94 279.62,176.87 280.22,176.72 C280.83,176.56 281.19,176.35 281.82,176.29 C282.45,176.23 283.58,176.14 284.03,176.35 C284.48,176.56 284.37,177.20 284.52,177.56 C284.66,177.91 284.81,177.83 284.90,178.50 C284.98,179.18 285.07,180.53 285.03,181.62 C284.98,182.70 284.72,183.78 284.63,185.03 C284.54,186.27 284.54,187.78 284.48,189.10 C284.41,190.41 284.32,191.85 284.22,192.93 C284.12,194.01 284.05,194.77 283.88,195.58 C283.72,196.39 283.56,197.35 283.24,197.79 C282.93,198.23 282.42,198.07 282.00,198.22 C281.59,198.37 281.20,198.70 280.78,198.68 C280.35,198.66 279.93,198.25 279.47,198.10 C279.01,197.94 278.39,198.21 278.02,197.72 C277.66,197.23 277.48,196.07 277.27,195.14 C277.06,194.21 276.90,193.35 276.74,192.14 C276.58,190.93 276.45,189.18 276.34,187.85 C276.23,186.52 276.10,185.31 276.10,184.15 C276.09,182.99 276.26,181.87 276.28,180.90 C276.31,179.92 275.93,178.91 276.25,178.30Z" fill="none" stroke="#000" stroke-opacity="0.85" stroke-width="0.45"/>
<path d="M276.81,178.51 C277.10,178.02 277.72,177.90 278.27,177.69 C278.82,177.48 279.54,177.38 280.11,177.26 C280.68,177.13 281.13,177.05 281.66,176.95 C282.20,176.85 282.95,176.53 283.34,176.69 C283.74,176.85 283.80,177.55 284.02,177.91 C284.24,178.27 284.63,178.26 284.67,178.83 C284.70,179.40 284.34,180.33 284.24,181.32 C284.15,182.32 284.16,183.56 284.09,184.81 C284.01,186.07 283.85,187.48 283.80,188.85 C283.75,190.21 283.85,191.90 283.80,192.98 C283.76,194.07 283.70,194.67 283.53,195.37 C283.36,196.07 283.04,196.73 282.78,197.16 C282.53,197.59 282.29,197.79 281.98,197.95 C281.67,198.10 281.35,198.13 280.95,198.10 C280.55,198.07 279.99,197.90 279.56,197.76 C279.13,197.63 278.70,197.77 278.37,197.28 C278.05,196.80 277.79,195.72 277.60,194.87 C277.40,194.02 277.30,193.34 277.22,192.19 C277.14,191.04 277.18,189.34 277.12,187.95 C277.06,186.57 276.96,185.10 276.86,183.88 C276.77,182.66 276.57,181.52 276.57,180.63 C276.56,179.73 276.53,179.00 276.81,178.51Z" fill="none" stroke="#000" stroke-opacity="0.75" stroke-width="0.45"/>
<path d="M277.13,179.02 C277.38,178.57 278.20,178.41 278.71,178.19 C279.22,177.98 279.72,177.83 280.19,177.72 C280.66,177.61 281.01,177.59 281.52,177.53 C282.03,177.47 282.89,177.24 283.25,177.38 C283.61,177.52 283.61,178.06 283.70,178.39 C283.78,178.72 283.74,178.85 283.77,179.37 C283.80,179.88 283.91,180.53 283.88,181.48 C283.84,182.43 283.64,183.81 283.56,185.06 C283.47,186.31 283.44,187.67 283.38,188.98 C283.31,190.30 283.22,191.91 283.18,192.97 C283.14,194.02 283.24,194.63 283.15,195.29 C283.05,195.95 282.84,196.61 282.61,196.95 C282.37,197.29 282.08,197.23 281.76,197.33 C281.45,197.43 281.04,197.54 280.71,197.57 C280.39,197.59 280.10,197.59 279.79,197.49 C279.48,197.39 279.14,197.37 278.85,196.96 C278.56,196.54 278.29,195.84 278.05,195.01 C277.80,194.19 277.46,193.14 277.38,192.00 C277.30,190.86 277.59,189.54 277.55,188.19 C277.52,186.83 277.21,185.10 277.16,183.88 C277.11,182.66 277.26,181.70 277.25,180.89 C277.25,180.08 276.89,179.47 277.13,179.02Z" fill="none" stroke="#000" stroke-opacity="0.55" stroke-width="0.45"/>
<path d="M277.94,179.09 C278.10,178.74 278.45,178.92 278.85,178.74 C279.26,178.57 279.94,178.15 280.37,178.06 C280.79,177.97 281.03,178.24 281.40,178.21 C281.78,178.18 282.38,177.76 282.62,177.87 C282.86,177.98 282.71,178.58 282.83,178.85 C282.95,179.13 283.27,179.06 283.35,179.52 C283.44,179.97 283.36,180.70 283.32,181.61 C283.28,182.51 283.14,183.74 283.11,184.95 C283.08,186.15 283.19,187.49 283.17,188.83 C283.14,190.17 283.06,191.95 282.96,192.98 C282.86,194.02 282.65,194.45 282.56,195.03 C282.47,195.60 282.62,196.15 282.43,196.42 C282.24,196.69 281.68,196.51 281.43,196.65 C281.17,196.79 281.20,197.27 280.91,197.28 C280.62,197.29 280.03,196.86 279.70,196.71 C279.36,196.56 279.11,196.64 278.92,196.36 C278.72,196.08 278.65,195.77 278.52,195.04 C278.39,194.31 278.20,193.19 278.14,192.00 C278.07,190.81 278.20,189.27 278.14,187.92 C278.08,186.57 277.83,185.08 277.78,183.91 C277.73,182.73 277.81,181.66 277.84,180.86 C277.87,180.06 277.77,179.45 277.94,179.09Z" fill="none" stroke="#000" stroke-opacity="0.60" stroke-width="0.45" stroke-dasharray="0.7 0.45"/>
<rect x="267.25" y="217.40" width="0.7" height="1.2" fill="#333"/>
<rect x="270.92" y="217.40" width="0.7" height="1.2" fill="#333"/>
<rect x="275.66" y="217.40" width="0.7" height="1.2" fill="#333"/>
<rect x="274.77" y="217.40" width="0.7" height="1.2" fill="#333"/>
<rect x="272.24" y="217.40" width="0.7" height="1.2" fill="#333"/>
<rect x="274.62" y="217.40" width="0.7" height="1.2" fill="#333"/>
<rect x="270.86" y="217.40" width="0.7" height="1.2" fill="#333"/>
<rect x="270.97" y="217.40" width="0.7" height="1.2" fill="#333"/>
<rect x="272.96" y="217.40" width="0.7" height="1.2" fill="#333"/>
<rect x="268.02" y="217.40" width="0.7" height="1.2" fill="#333"/>
<path d="M41.80,96.10 H95.40 V149.50 H41.80" fill="none" stroke="#8f8f8f" stroke-width="0.8"/>
<line x1="41.80" y1="96.10" x2="41.80" y2="149.50" stroke="#c4c4c4" stroke-width="0.8" />
<line x1="57.50" y1="96.10" x2="57.50" y2="149.50" stroke="#4a4a4a" stroke-width="0.7" />
<line x1="41.80" y1="131.50" x2="95.40" y2="131.50" stroke="#4a4a4a" stroke-width="0.7" />
<text x="43.10" y="102.20" font-size="4.1" fill="#1a1a1a" text-anchor="start" font-weight="normal" >23.9</text>
<text x="90.90" y="102.20" font-size="4.1" fill="#1a1a1a" text-anchor="end" font-weight="normal" >74.4</text>
<text x="43.10" y="146.40" font-size="4.1" fill="#1a1a1a" text-anchor="start" font-weight="normal" >1.66</text>
<text x="93.00" y="146.40" font-size="4.1" fill="#1a1a1a" text-anchor="end" font-weight="normal" >2</text>
<path d="M113.50,96.10 H167.40 V150.00 H113.50" fill="none" stroke="#8f8f8f" stroke-width="0.8"/>
<line x1="113.50" y1="96.10" x2="113.50" y2="150.00" stroke="#c4c4c4" stroke-width="0.8" />
<line x1="127.10" y1="96.10" x2="127.10" y2="150.00" stroke="#4a4a4a" stroke-width="0.7" />
<line x1="113.50" y1="129.40" x2="167.40" y2="129.40" stroke="#4a4a4a" stroke-width="0.7" />
<text x="114.80" y="102.20" font-size="4.1" fill="#111" text-anchor="start" font-weight="normal" stroke="#111" stroke-width="0.1">50.6</text>
<text x="162.90" y="102.20" font-size="4.1" fill="#111" text-anchor="end" font-weight="normal" stroke="#111" stroke-width="0.1">29.2</text>
<text x="114.80" y="146.90" font-size="4.1" fill="#111" text-anchor="start" font-weight="normal" stroke="#111" stroke-width="0.1">18.6</text>
<text x="162.90" y="146.90" font-size="4.1" fill="#111" text-anchor="end" font-weight="normal" stroke="#111" stroke-width="0.1">1.45</text>
<path d="M182.50,96.00 H236.20 V149.80 H182.50" fill="none" stroke="#8f8f8f" stroke-width="0.8"/>
<line x1="182.50" y1="96.00" x2="182.50" y2="149.80" stroke="#c4c4c4" stroke-width="0.8" />
<line x1="197.40" y1="96.00" x2="197.40" y2="149.80" stroke="#4a4a4a" stroke-width="0.7" />
<line x1="182.50" y1="134.40" x2="236.20" y2="134.40" stroke="#4a4a4a" stroke-width="0.7" />
<text x="183.80" y="102.10" font-size="4.1" fill="#8a8a8a" text-anchor="start" font-weight="normal" >26.9</text>
<text x="231.70" y="102.10" font-size="4.1" fill="#8a8a8a" text-anchor="end" font-weight="normal" >72.0</text>
<text x="183.80" y="146.70" font-size="4.1" fill="#8a8a8a" text-anchor="start" font-weight="normal" >0.67</text>
<text x="231.70" y="146.70" font-size="4.1" fill="#8a8a8a" text-anchor="end" font-weight="normal" >0.36</text>
<path d="M250.60,96.10 H304.20 V149.80 H250.60" fill="none" stroke="#8f8f8f" stroke-width="0.8"/>
<line x1="250.60" y1="96.10" x2="250.60" y2="149.80" stroke="#c4c4c4" stroke-width="0.8" />
<line x1="271.40" y1="96.10" x2="271.40" y2="149.80" stroke="#4a4a4a" stroke-width="0.7" />
<line x1="250.60" y1="122.80" x2="304.20" y2="122.80" stroke="#4a4a4a" stroke-width="0.7" />
<text x="251.90" y="102.20" font-size="4.1" fill="#111" text-anchor="start" font-weight="normal" stroke="#111" stroke-width="0.1">36.9</text>
<text x="299.70" y="102.20" font-size="4.1" fill="#111" text-anchor="end" font-weight="normal" stroke="#111" stroke-width="0.1">10.8</text>
<text x="251.90" y="146.70" font-size="4.1" fill="#111" text-anchor="start" font-weight="normal" stroke="#111" stroke-width="0.1">45.2</text>
<text x="299.70" y="146.70" font-size="4.1" fill="#111" text-anchor="end" font-weight="normal" stroke="#111" stroke-width="0.1">7.06</text>
<path d="M113.30,164.80 H166.40 V218.40 H113.30" fill="none" stroke="#8f8f8f" stroke-width="0.8"/>
<line x1="113.30" y1="164.80" x2="113.30" y2="218.40" stroke="#c4c4c4" stroke-width="0.8" />
<line x1="138.50" y1="164.80" x2="138.50" y2="218.40" stroke="#4a4a4a" stroke-width="0.7" />
<line x1="113.30" y1="188.40" x2="166.40" y2="188.40" stroke="#4a4a4a" stroke-width="0.7" />
<text x="114.60" y="170.90" font-size="4.1" fill="#111" text-anchor="start" font-weight="normal" stroke="#111" stroke-width="0.1">24.8</text>
<text x="161.90" y="170.90" font-size="4.1" fill="#111" text-anchor="end" font-weight="normal" stroke="#111" stroke-width="0.1">41.7</text>
<text x="114.60" y="215.30" font-size="4.1" fill="#111" text-anchor="start" font-weight="normal" stroke="#111" stroke-width="0.1">20.8</text>
<text x="161.90" y="215.30" font-size="4.1" fill="#111" text-anchor="end" font-weight="normal" stroke="#111" stroke-width="0.1">9.69</text>
<path d="M182.80,164.80 H236.30 V218.10 H182.80" fill="none" stroke="#8f8f8f" stroke-width="0.8"/>
<line x1="182.80" y1="164.80" x2="182.80" y2="218.10" stroke="#c4c4c4" stroke-width="0.8" />
<line x1="205.20" y1="164.80" x2="205.20" y2="218.10" stroke="#4a4a4a" stroke-width="0.7" />
<line x1="182.80" y1="193.00" x2="236.30" y2="193.00" stroke="#4a4a4a" stroke-width="0.7" />
<text x="184.10" y="170.90" font-size="4.1" fill="#111" text-anchor="start" font-weight="normal" stroke="#111" stroke-width="0.1">14.1</text>
<text x="231.80" y="170.90" font-size="4.1" fill="#111" text-anchor="end" font-weight="normal" stroke="#111" stroke-width="0.1">39.2</text>
<text x="184.10" y="215.00" font-size="4.1" fill="#111" text-anchor="start" font-weight="normal" stroke="#111" stroke-width="0.1">25.9</text>
<text x="231.80" y="215.00" font-size="4.1" fill="#111" text-anchor="end" font-weight="normal" stroke="#111" stroke-width="0.1">20.8</text>
<path d="M250.40,164.80 H304.00 V218.00 H250.40" fill="none" stroke="#8f8f8f" stroke-width="0.8"/>
<line x1="250.40" y1="164.80" x2="250.40" y2="218.00" stroke="#c4c4c4" stroke-width="0.8" />
<line x1="272.30" y1="164.80" x2="272.30" y2="218.00" stroke="#4a4a4a" stroke-width="0.7" />
<line x1="250.40" y1="194.70" x2="304.00" y2="194.70" stroke="#4a4a4a" stroke-width="0.7" />
<text x="251.70" y="170.90" font-size="4.1" fill="#111" text-anchor="start" font-weight="normal" stroke="#111" stroke-width="0.1">16.7</text>
<text x="299.50" y="170.90" font-size="4.1" fill="#111" text-anchor="end" font-weight="normal" stroke="#111" stroke-width="0.1">57.5</text>
<text x="251.70" y="214.90" font-size="4.1" fill="#111" text-anchor="start" font-weight="normal" stroke="#111" stroke-width="0.1">9.56</text>
<text x="299.50" y="214.90" font-size="4.1" fill="#111" text-anchor="end" font-weight="normal" stroke="#111" stroke-width="0.1">16.5</text>
<rect x="41.10" y="136.20" width="1.4" height="4.30" fill="#222"/>
<rect x="112.80" y="133.80" width="1.4" height="4.20" fill="#222"/>
<rect x="181.80" y="135.50" width="1.4" height="3.00" fill="#222"/>
<rect x="249.90" y="142.80" width="1.4" height="3.20" fill="#222"/>
<rect x="112.60" y="198.80" width="1.4" height="3.70" fill="#222"/>
<rect x="182.10" y="205.50" width="1.4" height="3.50" fill="#222"/>
<rect x="249.70" y="205.50" width="1.4" height="3.50" fill="#222"/>
<line x1="40.30" y1="99.80" x2="41.80" y2="99.80" stroke="#111" stroke-width="0.8" />
<text transform="translate(40.00,101.25) scale(0.1)" font-size="39.0" fill="#1a1a1a" stroke="#1a1a1a" stroke-width="2.2" text-anchor="end">10<tspan font-size="24.2" dy="-11.7">5</tspan></text>
<line x1="40.30" y1="113.10" x2="41.80" y2="113.10" stroke="#111" stroke-width="0.8" />
<text transform="translate(40.00,114.55) scale(0.1)" font-size="39.0" fill="#1a1a1a" stroke="#1a1a1a" stroke-width="2.2" text-anchor="end">10<tspan font-size="24.2" dy="-11.7">4</tspan></text>
<line x1="40.30" y1="127.80" x2="41.80" y2="127.80" stroke="#111" stroke-width="0.8" />
<text transform="translate(40.00,129.25) scale(0.1)" font-size="39.0" fill="#1a1a1a" stroke="#1a1a1a" stroke-width="2.2" text-anchor="end">10<tspan font-size="24.2" dy="-11.7">3</tspan></text>
<line x1="40.30" y1="137.00" x2="41.80" y2="137.00" stroke="#111" stroke-width="0.8" />
<text transform="translate(40.00,138.45) scale(0.1)" font-size="39.0" fill="#1a1a1a" stroke="#1a1a1a" stroke-width="2.2" text-anchor="end">0</text>
<line x1="40.30" y1="145.20" x2="41.80" y2="145.20" stroke="#111" stroke-width="0.8" />
<text transform="translate(40.00,146.65) scale(0.1)" font-size="39.0" fill="#1a1a1a" stroke="#1a1a1a" stroke-width="2.2" text-anchor="end">-10<tspan font-size="24.2" dy="-11.7">3</tspan></text>
<line x1="51.50" y1="149.50" x2="51.50" y2="150.90" stroke="#111" stroke-width="0.8" />
<text transform="translate(51.50,156.05) scale(0.1)" font-size="39.0" fill="#1a1a1a" stroke="#1a1a1a" stroke-width="2.2" text-anchor="middle">0</text>
<line x1="63.80" y1="149.50" x2="63.80" y2="150.90" stroke="#111" stroke-width="0.8" />
<text transform="translate(64.40,156.05) scale(0.1)" font-size="39.0" fill="#1a1a1a" stroke="#1a1a1a" stroke-width="2.2" text-anchor="middle">10<tspan font-size="24.2" dy="-11.7">3</tspan></text>
<line x1="77.90" y1="149.50" x2="77.90" y2="150.90" stroke="#111" stroke-width="0.8" />
<text transform="translate(78.50,156.05) scale(0.1)" font-size="39.0" fill="#1a1a1a" stroke="#1a1a1a" stroke-width="2.2" text-anchor="middle">10<tspan font-size="24.2" dy="-11.7">4</tspan></text>
<line x1="89.30" y1="149.50" x2="89.30" y2="150.90" stroke="#111" stroke-width="0.8" />
<text transform="translate(89.90,156.05) scale(0.1)" font-size="39.0" fill="#1a1a1a" stroke="#1a1a1a" stroke-width="2.2" text-anchor="middle">10<tspan font-size="24.2" dy="-11.7">5</tspan></text>
<line x1="112.00" y1="101.30" x2="113.50" y2="101.30" stroke="#111" stroke-width="0.8" />
<text transform="translate(111.70,102.75) scale(0.1)" font-size="39.0" fill="#1a1a1a" stroke="#1a1a1a" stroke-width="2.2" text-anchor="end">10<tspan font-size="24.2" dy="-11.7">5</tspan></text>
<line x1="112.00" y1="111.00" x2="113.50" y2="111.00" stroke="#111" stroke-width="0.8" />
<text transform="translate(111.70,112.45) scale(0.1)" font-size="39.0" fill="#1a1a1a" stroke="#1a1a1a" stroke-width="2.2" text-anchor="end">10<tspan font-size="24.2" dy="-11.7">4</tspan></text>
<line x1="112.00" y1="120.30" x2="113.50" y2="120.30" stroke="#111" stroke-width="0.8" />
<text transform="translate(111.70,121.75) scale(0.1)" font-size="39.0" fill="#1a1a1a" stroke="#1a1a1a" stroke-width="2.2" text-anchor="end">10<tspan font-size="24.2" dy="-11.7">3</tspan></text>
<line x1="112.00" y1="131.00" x2="113.50" y2="131.00" stroke="#111" stroke-width="0.8" />
<text transform="translate(111.70,132.45) scale(0.1)" font-size="39.0" fill="#1a1a1a" stroke="#1a1a1a" stroke-width="2.2" text-anchor="end">10<tspan font-size="24.2" dy="-11.7">3</tspan></text>
<line x1="112.00" y1="136.00" x2="113.50" y2="136.00" stroke="#111" stroke-width="0.8" />
<text transform="translate(111.70,137.45) scale(0.1)" font-size="39.0" fill="#1a1a1a" stroke="#1a1a1a" stroke-width="2.2" text-anchor="end">0</text>
<line x1="112.00" y1="141.60" x2="113.50" y2="141.60" stroke="#111" stroke-width="0.8" />
<text transform="translate(111.70,143.05) scale(0.1)" font-size="39.0" fill="#1a1a1a" stroke="#1a1a1a" stroke-width="2.2" text-anchor="end">-10<tspan font-size="24.2" dy="-11.7">3</tspan></text>
<line x1="119.40" y1="150.00" x2="119.40" y2="151.40" stroke="#111" stroke-width="0.8" />
<text transform="translate(119.40,156.45) scale(0.1)" font-size="39.0" fill="#1a1a1a" stroke="#1a1a1a" stroke-width="2.2" text-anchor="middle">0</text>
<line x1="134.90" y1="150.00" x2="134.90" y2="151.40" stroke="#111" stroke-width="0.8" />
<text transform="translate(135.50,156.45) scale(0.1)" font-size="39.0" fill="#1a1a1a" stroke="#1a1a1a" stroke-width="2.2" text-anchor="middle">10<tspan font-size="24.2" dy="-11.7">3</tspan></text>
<line x1="145.80" y1="150.00" x2="145.80" y2="151.40" stroke="#111" stroke-width="0.8" />
<text transform="translate(146.40,156.45) scale(0.1)" font-size="39.0" fill="#1a1a1a" stroke="#1a1a1a" stroke-width="2.2" text-anchor="middle">10<tspan font-size="24.2" dy="-11.7">4</tspan></text>
<line x1="156.80" y1="150.00" x2="156.80" y2="151.40" stroke="#111" stroke-width="0.8" />
<text transform="translate(157.40,156.45) scale(0.1)" font-size="39.0" fill="#1a1a1a" stroke="#1a1a1a" stroke-width="2.2" text-anchor="middle">10<tspan font-size="24.2" dy="-11.7">5</tspan></text>
<line x1="181.00" y1="100.60" x2="182.50" y2="100.60" stroke="#111" stroke-width="0.8" />
<text transform="translate(180.70,102.05) scale(0.1)" font-size="39.0" fill="#1a1a1a" stroke="#1a1a1a" stroke-width="2.2" text-anchor="end">10<tspan font-size="24.2" dy="-11.7">5</tspan></text>
<line x1="181.00" y1="114.10" x2="182.50" y2="114.10" stroke="#111" stroke-width="0.8" />
<text transform="translate(180.70,115.55) scale(0.1)" font-size="39.0" fill="#1a1a1a" stroke="#1a1a1a" stroke-width="2.2" text-anchor="end">10<tspan font-size="24.2" dy="-11.7">4</tspan></text>
<line x1="181.00" y1="128.30" x2="182.50" y2="128.30" stroke="#111" stroke-width="0.8" />
<text transform="translate(180.70,129.75) scale(0.1)" font-size="39.0" fill="#1a1a1a" stroke="#1a1a1a" stroke-width="2.2" text-anchor="end">10<tspan font-size="24.2" dy="-11.7">3</tspan></text>
<line x1="181.00" y1="136.70" x2="182.50" y2="136.70" stroke="#111" stroke-width="0.8" />
<text transform="translate(180.70,138.15) scale(0.1)" font-size="39.0" fill="#1a1a1a" stroke="#1a1a1a" stroke-width="2.2" text-anchor="end">0</text>
<line x1="181.00" y1="145.40" x2="182.50" y2="145.40" stroke="#111" stroke-width="0.8" />
<text transform="translate(180.70,146.85) scale(0.1)" font-size="39.0" fill="#1a1a1a" stroke="#1a1a1a" stroke-width="2.2" text-anchor="end">-10<tspan font-size="24.2" dy="-11.7">3</tspan></text>
<line x1="186.30" y1="149.80" x2="186.30" y2="151.20" stroke="#111" stroke-width="0.8" />
<text transform="translate(186.90,156.05) scale(0.1)" font-size="39.0" fill="#1a1a1a" stroke="#1a1a1a" stroke-width="2.2" text-anchor="middle">-10<tspan font-size="24.2" dy="-11.7">3</tspan></text>
<line x1="195.20" y1="149.80" x2="195.20" y2="151.20" stroke="#111" stroke-width="0.8" />
<text transform="translate(195.20,156.05) scale(0.1)" font-size="39.0" fill="#1a1a1a" stroke="#1a1a1a" stroke-width="2.2" text-anchor="middle">0</text>
<line x1="204.20" y1="149.80" x2="204.20" y2="151.20" stroke="#111" stroke-width="0.8" />
<text transform="translate(204.80,156.05) scale(0.1)" font-size="39.0" fill="#1a1a1a" stroke="#1a1a1a" stroke-width="2.2" text-anchor="middle">10<tspan font-size="24.2" dy="-11.7">3</tspan></text>
<line x1="217.20" y1="149.80" x2="217.20" y2="151.20" stroke="#111" stroke-width="0.8" />
<text transform="translate(217.80,156.05) scale(0.1)" font-size="39.0" fill="#1a1a1a" stroke="#1a1a1a" stroke-width="2.2" text-anchor="middle">10<tspan font-size="24.2" dy="-11.7">4</tspan></text>
<line x1="231.00" y1="149.80" x2="231.00" y2="151.20" stroke="#111" stroke-width="0.8" />
<text transform="translate(231.60,156.05) scale(0.1)" font-size="39.0" fill="#1a1a1a" stroke="#1a1a1a" stroke-width="2.2" text-anchor="middle">10<tspan font-size="24.2" dy="-11.7">5</tspan></text>
<line x1="249.10" y1="97.70" x2="250.60" y2="97.70" stroke="#111" stroke-width="0.8" />
<text transform="translate(248.80,99.15) scale(0.1)" font-size="39.0" fill="#1a1a1a" stroke="#1a1a1a" stroke-width="2.2" text-anchor="end">10<tspan font-size="24.2" dy="-11.7">7</tspan></text>
<line x1="249.10" y1="105.00" x2="250.60" y2="105.00" stroke="#111" stroke-width="0.8" />
<text transform="translate(248.80,106.45) scale(0.1)" font-size="39.0" fill="#1a1a1a" stroke="#1a1a1a" stroke-width="2.2" text-anchor="end">10<tspan font-size="24.2" dy="-11.7">6</tspan></text>
<line x1="249.10" y1="112.30" x2="250.60" y2="112.30" stroke="#111" stroke-width="0.8" />
<text transform="translate(248.80,113.75) scale(0.1)" font-size="39.0" fill="#1a1a1a" stroke="#1a1a1a" stroke-width="2.2" text-anchor="end">10<tspan font-size="24.2" dy="-11.7">5</tspan></text>
<line x1="249.10" y1="123.30" x2="250.60" y2="123.30" stroke="#111" stroke-width="0.8" />
<text transform="translate(248.80,124.75) scale(0.1)" font-size="39.0" fill="#1a1a1a" stroke="#1a1a1a" stroke-width="2.2" text-anchor="end">10<tspan font-size="24.2" dy="-11.7">4</tspan></text>
<line x1="249.10" y1="131.80" x2="250.60" y2="131.80" stroke="#111" stroke-width="0.8" />
<text transform="translate(248.80,133.25) scale(0.1)" font-size="39.0" fill="#1a1a1a" stroke="#1a1a1a" stroke-width="2.2" text-anchor="end">10<tspan font-size="24.2" dy="-11.7">3</tspan></text>
<line x1="249.10" y1="144.50" x2="250.60" y2="144.50" stroke="#111" stroke-width="0.8" />
<text transform="translate(248.80,145.95) scale(0.1)" font-size="39.0" fill="#1a1a1a" stroke="#1a1a1a" stroke-width="2.2" text-anchor="end">0</text>
<line x1="253.00" y1="149.80" x2="253.00" y2="151.20" stroke="#111" stroke-width="0.8" />
<text transform="translate(253.60,156.05) scale(0.1)" font-size="39.0" fill="#1a1a1a" stroke="#1a1a1a" stroke-width="2.2" text-anchor="middle">-10<tspan font-size="24.2" dy="-11.7">3</tspan></text>
<line x1="264.10" y1="149.80" x2="264.10" y2="151.20" stroke="#111" stroke-width="0.8" />
<text transform="translate(264.10,156.05) scale(0.1)" font-size="39.0" fill="#1a1a1a" stroke="#1a1a1a" stroke-width="2.2" text-anchor="middle">0</text>
<line x1="274.20" y1="149.80" x2="274.20" y2="151.20" stroke="#111" stroke-width="0.8" />
<text transform="translate(274.80,156.05) scale(0.1)" font-size="39.0" fill="#1a1a1a" stroke="#1a1a1a" stroke-width="2.2" text-anchor="middle">10<tspan font-size="24.2" dy="-11.7">3</tspan></text>
<line x1="284.00" y1="149.80" x2="284.00" y2="151.20" stroke="#111" stroke-width="0.8" />
<text transform="translate(284.60,156.05) scale(0.1)" font-size="39.0" fill="#1a1a1a" stroke="#1a1a1a" stroke-width="2.2" text-anchor="middle">10<tspan font-size="24.2" dy="-11.7">4</tspan></text>
<line x1="293.00" y1="149.80" x2="293.00" y2="151.20" stroke="#111" stroke-width="0.8" />
<text transform="translate(293.60,156.05) scale(0.1)" font-size="39.0" fill="#1a1a1a" stroke="#1a1a1a" stroke-width="2.2" text-anchor="middle">10<tspan font-size="24.2" dy="-11.7">5</tspan></text>
<line x1="302.70" y1="149.80" x2="302.70" y2="151.20" stroke="#111" stroke-width="0.8" />
<text transform="translate(303.30,156.05) scale(0.1)" font-size="39.0" fill="#1a1a1a" stroke="#1a1a1a" stroke-width="2.2" text-anchor="middle">10<tspan font-size="24.2" dy="-11.7">6</tspan></text>
<line x1="111.80" y1="165.30" x2="113.30" y2="165.30" stroke="#111" stroke-width="0.8" />
<text transform="translate(111.50,166.75) scale(0.1)" font-size="39.0" fill="#1a1a1a" stroke="#1a1a1a" stroke-width="2.2" text-anchor="end">10<tspan font-size="24.2" dy="-11.7">5</tspan></text>
<line x1="111.80" y1="174.30" x2="113.30" y2="174.30" stroke="#111" stroke-width="0.8" />
<text transform="translate(111.50,175.75) scale(0.1)" font-size="39.0" fill="#1a1a1a" stroke="#1a1a1a" stroke-width="2.2" text-anchor="end">10<tspan font-size="24.2" dy="-11.7">4</tspan></text>
<line x1="111.80" y1="181.60" x2="113.30" y2="181.60" stroke="#111" stroke-width="0.8" />
<text transform="translate(111.50,183.05) scale(0.1)" font-size="39.0" fill="#1a1a1a" stroke="#1a1a1a" stroke-width="2.2" text-anchor="end">10<tspan font-size="24.2" dy="-11.7">3</tspan></text>
<line x1="111.80" y1="188.40" x2="113.30" y2="188.40" stroke="#111" stroke-width="0.8" />
<text transform="translate(111.50,189.85) scale(0.1)" font-size="39.0" fill="#1a1a1a" stroke="#1a1a1a" stroke-width="2.2" text-anchor="end">10<tspan font-size="24.2" dy="-11.7">2</tspan></text>
<line x1="111.80" y1="200.60" x2="113.30" y2="200.60" stroke="#111" stroke-width="0.8" />
<text transform="translate(111.50,202.05) scale(0.1)" font-size="39.0" fill="#1a1a1a" stroke="#1a1a1a" stroke-width="2.2" text-anchor="end">0</text>
<line x1="111.80" y1="210.80" x2="113.30" y2="210.80" stroke="#111" stroke-width="0.8" />
<text transform="translate(111.50,212.25) scale(0.1)" font-size="39.0" fill="#1a1a1a" stroke="#1a1a1a" stroke-width="2.2" text-anchor="end">-10<tspan font-size="24.2" dy="-11.7">3</tspan></text>
<line x1="118.70" y1="218.40" x2="118.70" y2="219.80" stroke="#111" stroke-width="0.8" />
<text transform="translate(119.30,224.95) scale(0.1)" font-size="39.0" fill="#1a1a1a" stroke="#1a1a1a" stroke-width="2.2" text-anchor="middle">-10<tspan font-size="24.2" dy="-11.7">3</tspan></text>
<line x1="130.50" y1="218.40" x2="130.50" y2="219.80" stroke="#111" stroke-width="0.8" />
<text transform="translate(130.50,224.95) scale(0.1)" font-size="39.0" fill="#1a1a1a" stroke="#1a1a1a" stroke-width="2.2" text-anchor="middle">0</text>
<line x1="142.00" y1="218.40" x2="142.00" y2="219.80" stroke="#111" stroke-width="0.8" />
<text transform="translate(142.60,224.95) scale(0.1)" font-size="39.0" fill="#1a1a1a" stroke="#1a1a1a" stroke-width="2.2" text-anchor="middle">10<tspan font-size="24.2" dy="-11.7">3</tspan></text>
<line x1="156.70" y1="218.40" x2="156.70" y2="219.80" stroke="#111" stroke-width="0.8" />
<text transform="translate(157.30,224.95) scale(0.1)" font-size="39.0" fill="#1a1a1a" stroke="#1a1a1a" stroke-width="2.2" text-anchor="middle">10<tspan font-size="24.2" dy="-11.7">4</tspan></text>
<line x1="181.30" y1="166.00" x2="182.80" y2="166.00" stroke="#111" stroke-width="0.8" />
<text transform="translate(181.00,167.45) scale(0.1)" font-size="39.0" fill="#1a1a1a" stroke="#1a1a1a" stroke-width="2.2" text-anchor="end">10<tspan font-size="24.2" dy="-11.7">5</tspan></text>
<line x1="181.30" y1="174.10" x2="182.80" y2="174.10" stroke="#111" stroke-width="0.8" />
<text transform="translate(181.00,175.55) scale(0.1)" font-size="39.0" fill="#1a1a1a" stroke="#1a1a1a" stroke-width="2.2" text-anchor="end">10<tspan font-size="24.2" dy="-11.7">4</tspan></text>
<line x1="181.30" y1="183.40" x2="182.80" y2="183.40" stroke="#111" stroke-width="0.8" />
<text transform="translate(181.00,184.85) scale(0.1)" font-size="39.0" fill="#1a1a1a" stroke="#1a1a1a" stroke-width="2.2" text-anchor="end">10<tspan font-size="24.2" dy="-11.7">3</tspan></text>
<line x1="181.30" y1="193.40" x2="182.80" y2="193.40" stroke="#111" stroke-width="0.8" />
<text transform="translate(181.00,194.85) scale(0.1)" font-size="39.0" fill="#1a1a1a" stroke="#1a1a1a" stroke-width="2.2" text-anchor="end">10<tspan font-size="24.2" dy="-11.7">2</tspan></text>
<line x1="181.30" y1="207.60" x2="182.80" y2="207.60" stroke="#111" stroke-width="0.8" />
<text transform="translate(181.00,209.05) scale(0.1)" font-size="39.0" fill="#1a1a1a" stroke="#1a1a1a" stroke-width="2.2" text-anchor="end">0</text>
<line x1="191.50" y1="218.10" x2="191.50" y2="219.50" stroke="#111" stroke-width="0.8" />
<text transform="translate(191.50,224.95) scale(0.1)" font-size="39.0" fill="#1a1a1a" stroke="#1a1a1a" stroke-width="2.2" text-anchor="middle">0</text>
<line x1="206.00" y1="218.10" x2="206.00" y2="219.50" stroke="#111" stroke-width="0.8" />
<text transform="translate(206.60,224.95) scale(0.1)" font-size="39.0" fill="#1a1a1a" stroke="#1a1a1a" stroke-width="2.2" text-anchor="middle">10<tspan font-size="24.2" dy="-11.7">3</tspan></text>
<line x1="215.20" y1="218.10" x2="215.20" y2="219.50" stroke="#111" stroke-width="0.8" />
<text transform="translate(215.80,224.95) scale(0.1)" font-size="39.0" fill="#1a1a1a" stroke="#1a1a1a" stroke-width="2.2" text-anchor="middle">10<tspan font-size="24.2" dy="-11.7">4</tspan></text>
<line x1="223.80" y1="218.10" x2="223.80" y2="219.50" stroke="#111" stroke-width="0.8" />
<text transform="translate(224.40,224.95) scale(0.1)" font-size="39.0" fill="#1a1a1a" stroke="#1a1a1a" stroke-width="2.2" text-anchor="middle">10<tspan font-size="24.2" dy="-11.7">5</tspan></text>
<line x1="233.00" y1="218.10" x2="233.00" y2="219.50" stroke="#111" stroke-width="0.8" />
<text transform="translate(233.60,224.95) scale(0.1)" font-size="39.0" fill="#1a1a1a" stroke="#1a1a1a" stroke-width="2.2" text-anchor="middle">10<tspan font-size="24.2" dy="-11.7">6</tspan></text>
<line x1="248.90" y1="166.00" x2="250.40" y2="166.00" stroke="#111" stroke-width="0.8" />
<text transform="translate(248.60,167.45) scale(0.1)" font-size="39.0" fill="#1a1a1a" stroke="#1a1a1a" stroke-width="2.2" text-anchor="end">10<tspan font-size="24.2" dy="-11.7">7</tspan></text>
<line x1="248.90" y1="172.70" x2="250.40" y2="172.70" stroke="#111" stroke-width="0.8" />
<text transform="translate(248.60,174.15) scale(0.1)" font-size="39.0" fill="#1a1a1a" stroke="#1a1a1a" stroke-width="2.2" text-anchor="end">10<tspan font-size="24.2" dy="-11.7">6</tspan></text>
<line x1="248.90" y1="179.40" x2="250.40" y2="179.40" stroke="#111" stroke-width="0.8" />
<text transform="translate(248.60,180.85) scale(0.1)" font-size="39.0" fill="#1a1a1a" stroke="#1a1a1a" stroke-width="2.2" text-anchor="end">10<tspan font-size="24.2" dy="-11.7">5</tspan></text>
<line x1="248.90" y1="186.10" x2="250.40" y2="186.10" stroke="#111" stroke-width="0.8" />
<text transform="translate(248.60,187.55) scale(0.1)" font-size="39.0" fill="#1a1a1a" stroke="#1a1a1a" stroke-width="2.2" text-anchor="end">10<tspan font-size="24.2" dy="-11.7">4</tspan></text>
<line x1="248.90" y1="193.40" x2="250.40" y2="193.40" stroke="#111" stroke-width="0.8" />
<text transform="translate(248.60,194.85) scale(0.1)" font-size="39.0" fill="#1a1a1a" stroke="#1a1a1a" stroke-width="2.2" text-anchor="end">10<tspan font-size="24.2" dy="-11.7">3</tspan></text>
<line x1="248.90" y1="207.60" x2="250.40" y2="207.60" stroke="#111" stroke-width="0.8" />
<text transform="translate(248.60,209.05) scale(0.1)" font-size="39.0" fill="#1a1a1a" stroke="#1a1a1a" stroke-width="2.2" text-anchor="end">0</text>
<line x1="262.00" y1="218.00" x2="262.00" y2="219.40" stroke="#111" stroke-width="0.8" />
<text transform="translate(262.00,225.05) scale(0.1)" font-size="39.0" fill="#1a1a1a" stroke="#1a1a1a" stroke-width="2.2" text-anchor="middle">0</text>
<line x1="275.80" y1="218.00" x2="275.80" y2="219.40" stroke="#111" stroke-width="0.8" />
<text transform="translate(276.40,225.05) scale(0.1)" font-size="39.0" fill="#1a1a1a" stroke="#1a1a1a" stroke-width="2.2" text-anchor="middle">10<tspan font-size="24.2" dy="-11.7">3</tspan></text>
<line x1="284.60" y1="218.00" x2="284.60" y2="219.40" stroke="#111" stroke-width="0.8" />
<text transform="translate(285.20,225.05) scale(0.1)" font-size="39.0" fill="#1a1a1a" stroke="#1a1a1a" stroke-width="2.2" text-anchor="middle">10<tspan font-size="24.2" dy="-11.7">4</tspan></text>
<line x1="293.00" y1="218.00" x2="293.00" y2="219.40" stroke="#111" stroke-width="0.8" />
<text transform="translate(293.60,225.05) scale(0.1)" font-size="39.0" fill="#1a1a1a" stroke="#1a1a1a" stroke-width="2.2" text-anchor="middle">10<tspan font-size="24.2" dy="-11.7">5</tspan></text>
<line x1="302.20" y1="218.00" x2="302.20" y2="219.40" stroke="#111" stroke-width="0.8" />
<text transform="translate(302.80,225.05) scale(0.1)" font-size="39.0" fill="#1a1a1a" stroke="#1a1a1a" stroke-width="2.2" text-anchor="middle">10<tspan font-size="24.2" dy="-11.7">6</tspan></text>
</svg>
<div class="bd" style="left:0;top:0;width:520px;height:1px"></div>
<div class="bd" style="left:0;top:0;width:1px;height:246px"></div>
<div class="bd" style="left:519px;top:0;width:1px;height:246px"></div>
<div class="bd" style="left:518px;top:0;width:1px;height:246px;opacity:.5"></div>
<div class="bd" style="left:0;top:245px;width:520px;height:1px"></div>
<div class="bd" style="left:0;top:244px;width:520px;height:1px;opacity:.5"></div>
</body></html>
